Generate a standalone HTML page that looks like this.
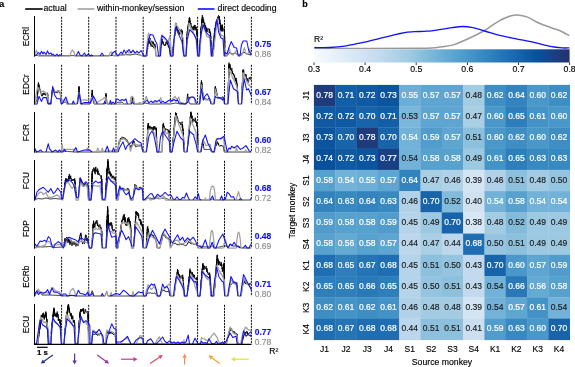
<!DOCTYPE html><html><head><meta charset="utf-8"><style>html,body{margin:0;padding:0;background:#fff;overflow:hidden}svg{display:block;will-change:transform}text{font-family:"Liberation Sans", sans-serif;stroke:currentColor;stroke-width:0.15px}</style></head><body>
<svg width="575" height="367" viewBox="0 0 575 367">
<defs><linearGradient id="cb" x1="0" x2="1" y1="0" y2="0">
<stop offset="0.0000" stop-color="#f7fbff"/>
<stop offset="0.1250" stop-color="#deebf7"/>
<stop offset="0.2500" stop-color="#c6dbef"/>
<stop offset="0.3750" stop-color="#9ecae1"/>
<stop offset="0.5000" stop-color="#6baed6"/>
<stop offset="0.6250" stop-color="#4292c6"/>
<stop offset="0.7500" stop-color="#2171b5"/>
<stop offset="0.8750" stop-color="#08519c"/>
<stop offset="1.0000" stop-color="#28306c"/>
</linearGradient></defs>
<text x="-1" y="6.6" font-size="9.5" font-weight="bold">a</text>
<line x1="25.2" y1="9" x2="42.6" y2="9" stroke="#000" stroke-width="1.6"/>
<text x="43.5" y="11" font-size="8.7">actual</text>
<line x1="77.6" y1="9" x2="94.3" y2="9" stroke="#a0a0a0" stroke-width="1.6"/>
<text x="97" y="11" font-size="8.7">within-monkey/session</text>
<line x1="197.8" y1="9" x2="214.5" y2="9" stroke="#1010fc" stroke-width="1.6"/>
<text x="217.6" y="11" font-size="8.7">direct decoding</text>
<line x1="61.6" y1="16.8" x2="61.6" y2="56.1" stroke="#111" stroke-width="1" stroke-dasharray="2.1,0.9"/>
<line x1="88.7" y1="16.8" x2="88.7" y2="56.1" stroke="#111" stroke-width="1" stroke-dasharray="2.1,0.9"/>
<line x1="116.0" y1="16.8" x2="116.0" y2="56.1" stroke="#111" stroke-width="1" stroke-dasharray="2.1,0.9"/>
<line x1="143.2" y1="16.8" x2="143.2" y2="56.1" stroke="#111" stroke-width="1" stroke-dasharray="2.1,0.9"/>
<line x1="170.4" y1="16.8" x2="170.4" y2="56.1" stroke="#111" stroke-width="1" stroke-dasharray="2.1,0.9"/>
<line x1="197.6" y1="16.8" x2="197.6" y2="56.1" stroke="#111" stroke-width="1" stroke-dasharray="2.1,0.9"/>
<line x1="224.5" y1="16.8" x2="224.5" y2="56.1" stroke="#111" stroke-width="1" stroke-dasharray="2.1,0.9"/>
<line x1="251.4" y1="16.8" x2="251.4" y2="56.1" stroke="#111" stroke-width="1" stroke-dasharray="2.1,0.9"/>
<polyline points="34.5,55.5 35.1,55.5 35.7,55.5 36.3,55.5 36.9,55.5 37.5,55.5 38.1,55.5 38.8,55.5 39.4,55.5 40.0,55.5 40.6,55.5 41.2,55.5 41.8,55.5 42.4,55.5 43.0,55.5 43.6,55.5 44.2,55.5 44.8,55.5 45.4,55.5 46.0,55.5 46.6,55.5 47.2,55.5 47.9,55.5 48.5,55.5 49.1,55.5 49.7,55.5 50.3,55.5 50.9,55.5 51.5,55.5 52.1,55.5 52.7,55.5 53.3,55.5 53.9,55.5 54.5,55.5 55.1,55.5 55.8,55.5 56.4,55.5 57.0,55.5 57.6,55.5 58.2,55.5 58.8,55.5 59.4,55.5 60.0,55.5 60.6,55.5 61.2,55.5 61.8,55.5 62.4,55.5 63.0,55.5 63.7,55.5 64.3,55.5 64.9,55.6 65.5,55.6 66.1,55.6 66.7,55.6 67.3,55.6 67.9,55.6 68.5,55.6 69.1,55.6 69.7,55.6 70.3,55.6 71.0,55.6 71.6,55.6 72.2,55.6 72.8,55.6 73.4,55.6 74.0,55.6 74.6,55.7 75.2,55.7 75.8,55.7 76.4,55.7 77.0,55.7 77.7,55.7 78.3,55.7 78.9,55.7 79.5,55.7 80.1,55.7 80.7,55.7 81.3,55.7 81.9,55.7 82.5,55.7 83.1,55.7 83.7,55.8 84.3,55.8 85.0,55.8 85.6,55.8 86.2,55.8 86.8,55.8 87.4,55.8 88.0,55.8 88.6,55.8 89.2,55.8 89.8,55.8 90.4,55.8 91.0,55.8 91.7,55.8 92.3,55.8 92.9,55.7 93.5,55.7 94.1,55.7 94.7,55.7 95.3,55.7 95.9,55.7 96.5,55.7 97.1,55.7 97.7,55.7 98.3,55.7 99.0,55.7 99.6,55.7 100.2,55.7 100.8,55.7 101.4,55.7 102.0,55.6 102.6,55.6 103.2,55.6 103.8,55.6 104.4,55.6 105.0,55.6 105.7,55.6 106.3,55.6 106.9,55.6 107.5,55.6 108.1,55.6 108.7,55.6 109.3,55.6 109.9,55.6 110.5,55.6 111.1,55.6 111.7,55.5 112.3,55.5 113.0,55.5 113.6,55.5 114.2,55.5 114.8,55.5 115.4,55.5 116.0,55.5 116.6,55.4 117.2,55.4 117.8,55.3 118.4,55.2 119.0,55.2 119.6,55.1 120.2,55.0 120.8,55.0 121.4,54.9 122.0,54.8 122.6,54.8 123.2,54.7 123.8,54.6 124.4,54.6 125.0,54.5 125.6,54.6 126.2,54.6 126.9,54.7 127.5,54.8 128.1,54.8 128.8,54.9 129.4,54.9 130.0,55.0 130.6,54.9 131.2,54.8 131.9,54.6 132.5,54.5 133.1,54.4 133.8,54.2 134.4,54.1 135.0,54.0 135.6,54.1 136.2,54.2 136.9,54.4 137.5,54.5 138.1,54.6 138.8,54.8 139.4,54.9 140.0,55.0 140.6,55.2 141.2,55.4 141.8,55.6 142.4,55.8 143.0,56.0 143.7,56.0 144.3,56.0 145.0,56.0 145.7,56.0 146.3,56.0 147.0,56.0 147.1,55.4 147.1,54.8 147.2,54.2 147.2,53.6 147.2,52.7 147.3,52.6 147.3,51.5 147.4,51.7 147.4,50.5 147.5,49.6 147.6,49.6 147.6,48.1 147.7,49.1 147.7,47.8 147.8,46.3 147.8,45.8 147.8,46.5 147.9,44.7 147.9,45.4 148.0,44.0 148.1,42.8 148.1,43.7 148.2,41.8 148.3,40.5 148.3,41.6 148.4,42.1 148.5,38.9 148.6,40.8 148.6,39.7 148.7,38.0 148.8,40.2 148.9,37.9 149.0,38.2 149.1,41.8 149.2,40.4 149.3,42.7 149.4,41.3 149.5,43.0 149.6,43.6 149.8,40.7 149.9,42.5 150.0,39.4 150.2,40.1 150.3,39.0 150.4,38.1 150.4,39.0 150.5,41.5 150.6,39.8 150.6,43.2 150.7,43.4 150.7,42.0 150.8,44.9 150.9,43.9 150.9,45.1 151.0,46.0 151.1,46.5 151.2,45.8 151.3,45.0 151.4,42.7 151.5,44.3 151.6,41.7 151.7,42.6 151.8,41.0 151.9,40.8 151.9,43.4 152.0,41.9 152.1,44.0 152.2,43.0 152.2,43.4 152.3,46.3 152.4,44.7 152.4,46.7 152.5,47.0 152.6,46.1 152.7,46.2 152.8,44.2 152.9,44.9 153.0,43.0 153.1,43.9 153.2,41.7 153.3,42.0 153.4,43.5 153.4,42.4 153.5,44.3 153.6,43.1 153.7,45.5 153.7,44.5 153.8,46.5 153.9,45.9 153.9,48.2 154.0,48.0 154.1,46.7 154.3,47.8 154.4,45.3 154.5,46.3 154.7,43.8 154.8,44.0 154.9,45.6 155.0,44.7 155.1,44.8 155.2,47.5 155.2,46.1 155.3,48.3 155.4,48.2 155.5,49.0 155.5,49.5 155.6,49.6 155.6,51.1 155.7,52.1 155.7,51.9 155.8,53.0 155.8,53.5 155.9,54.1 155.9,54.7 156.0,55.4 156.0,56.0 156.7,56.0 157.3,56.0 158.0,56.0 158.7,56.0 159.3,56.0 160.0,56.0 160.0,55.4 160.1,54.8 160.1,54.2 160.2,53.5 160.2,52.6 160.2,52.5 160.3,51.3 160.3,51.4 160.3,49.9 160.4,49.7 160.4,49.6 160.5,49.4 160.5,48.0 160.6,47.0 160.7,47.7 160.8,46.7 161.0,46.5 161.1,43.6 161.2,45.4 161.3,43.2 161.4,42.5 161.5,43.6 161.7,42.7 161.8,40.5 161.9,39.3 162.0,40.0 162.2,38.9 162.4,42.3 162.6,41.3 162.9,43.8 163.1,41.5 163.3,44.5 163.5,44.0 163.9,43.8 164.2,45.5 164.6,45.0 165.0,46.0 165.2,44.5 165.4,44.0 165.6,45.3 165.8,43.8 165.9,42.4 166.1,43.8 166.3,40.9 166.5,41.0 166.7,40.6 166.9,42.7 167.1,41.4 167.4,44.7 167.6,42.4 167.8,43.8 168.0,45.0 168.2,46.4 168.5,45.4 168.7,47.1 168.9,48.0 169.2,47.6 169.4,48.8 169.5,49.6 169.6,50.7 169.7,50.8 169.8,50.8 169.9,51.5 169.9,52.7 170.0,52.8 170.1,53.6 170.2,54.2 170.3,54.8 170.4,55.4 170.5,56.0 171.2,56.0 172.0,56.0 172.1,55.4 172.2,54.8 172.2,54.2 172.3,53.5 172.4,53.1 172.5,52.1 172.5,51.4 172.6,51.5 172.7,50.8 172.8,49.5 172.8,50.0 172.9,49.0 173.0,47.4 173.1,48.1 173.2,46.5 173.2,46.5 173.3,45.2 173.4,45.9 173.5,43.1 173.5,45.0 173.6,42.1 173.7,42.9 173.8,42.4 173.8,39.5 173.9,39.8 174.0,40.0 174.1,40.6 174.2,39.7 174.2,38.8 174.3,38.1 174.4,34.8 174.5,34.2 174.6,33.8 174.6,36.0 174.7,33.7 174.8,35.9 174.9,32.6 175.0,30.3 175.0,33.9 175.1,33.1 175.2,29.5 175.3,30.9 175.4,28.1 175.4,29.8 175.5,27.5 175.6,29.1 175.7,28.8 175.8,24.6 175.8,26.6 175.9,23.6 176.0,24.8 176.2,27.0 176.4,23.6 176.7,28.3 176.9,26.0 177.1,29.6 177.3,31.1 177.6,26.7 177.8,30.2 178.0,30.0 178.3,27.8 178.7,33.4 179.0,32.8 179.3,29.5 179.7,34.7 180.0,33.0 180.5,30.6 181.0,29.3 181.5,29.6 182.0,31.0 182.0,32.8 182.1,30.3 182.1,33.5 182.1,31.3 182.2,35.7 182.2,32.6 182.3,37.7 182.3,37.6 182.3,34.3 182.4,36.4 182.4,39.6 182.4,36.7 182.5,40.9 182.5,40.5 182.5,41.2 182.6,39.9 182.6,43.0 182.7,42.5 182.7,41.7 182.7,43.9 182.8,42.6 182.8,44.9 182.8,44.7 182.9,46.5 182.9,46.7 183.0,46.2 183.0,48.2 183.0,47.4 183.1,49.4 183.1,49.8 183.1,49.2 183.2,51.0 183.2,50.9 183.2,52.2 183.3,52.0 183.3,53.3 183.4,53.6 183.4,54.2 183.4,54.8 183.5,55.4 183.5,56.0 184.1,56.0 184.8,56.0 185.4,56.0 186.0,56.0 186.0,55.4 186.1,54.8 186.1,54.2 186.1,53.6 186.1,52.6 186.2,52.7 186.2,51.6 186.2,51.5 186.3,50.5 186.3,50.4 186.3,49.0 186.3,49.5 186.4,47.5 186.4,48.0 186.4,46.5 186.5,47.5 186.5,46.6 186.5,45.9 186.5,45.3 186.6,42.6 186.6,43.9 186.6,41.8 186.7,42.5 186.7,40.7 186.7,42.6 186.7,38.9 186.8,38.2 186.8,40.8 186.8,37.1 186.9,39.1 186.9,35.8 186.9,34.9 186.9,34.3 187.0,33.9 187.0,35.0 187.1,35.5 187.2,31.4 187.3,34.1 187.4,34.3 187.5,31.3 187.6,33.8 187.7,29.3 187.8,30.8 187.9,26.7 188.0,30.6 188.1,26.3 188.2,28.9 188.2,28.4 188.3,24.0 188.4,27.5 188.5,23.0 188.6,27.0 188.7,21.6 188.8,25.7 188.9,21.1 189.0,24.9 189.1,23.2 189.2,18.3 189.3,23.2 189.4,17.2 189.5,19.4 189.6,21.4 189.8,18.2 189.9,22.3 190.0,20.8 190.2,20.7 190.3,20.7 190.5,24.8 190.6,23.3 190.7,27.1 190.9,23.0 191.0,26.0 191.3,28.9 191.6,25.8 191.9,29.3 192.1,27.4 192.4,29.6 192.7,26.7 193.0,30.0 193.3,30.1 193.6,26.3 193.9,26.2 194.1,30.3 194.4,24.9 194.7,28.1 195.0,26.0 195.2,25.1 195.4,28.4 195.6,29.5 195.8,27.3 196.0,30.4 196.2,26.8 196.4,29.5 196.6,33.5 196.8,29.9 197.0,32.0 197.0,35.2 197.1,30.7 197.1,34.7 197.1,35.0 197.1,33.1 197.2,36.8 197.2,34.8 197.2,34.7 197.2,38.0 197.2,38.5 197.3,38.0 197.3,39.7 197.3,38.2 197.3,42.1 197.4,40.1 197.4,43.3 197.4,41.5 197.4,44.3 197.5,42.7 197.5,44.9 197.5,44.3 197.6,45.9 197.6,44.7 197.6,47.2 197.6,46.1 197.7,48.4 197.7,47.3 197.7,49.6 197.7,50.1 197.8,49.8 197.8,50.2 197.8,51.8 197.8,51.5 197.8,52.5 197.9,52.7 197.9,53.6 197.9,54.2 197.9,54.8 198.0,55.4 198.0,56.0 198.8,56.0 199.5,56.0 199.5,55.4 199.6,54.8 199.6,54.2 199.6,53.6 199.7,52.9 199.7,52.5 199.7,51.9 199.8,50.9 199.8,50.9 199.8,49.3 199.9,48.6 199.9,49.2 200.0,47.5 200.0,48.0 200.0,45.9 200.1,46.7 200.1,45.0 200.1,44.1 200.2,43.5 200.2,45.2 200.2,44.0 200.3,41.9 200.3,42.6 200.3,40.3 200.4,42.4 200.4,39.4 200.4,40.6 200.5,37.4 200.5,39.8 200.5,35.8 200.6,38.3 200.6,34.4 200.7,38.3 200.7,37.9 200.7,37.2 200.8,36.4 200.8,32.0 200.8,35.8 200.9,30.3 200.9,33.2 200.9,33.3 201.0,28.9 201.0,30.0 201.1,27.5 201.1,29.7 201.2,26.2 201.3,26.5 201.3,29.3 201.4,25.4 201.5,26.9 201.5,23.8 201.6,26.3 201.7,23.0 201.7,21.0 201.8,25.2 201.9,20.5 201.9,19.0 202.0,23.5 202.1,17.4 202.1,17.9 202.2,20.8 202.3,20.8 202.3,15.1 202.4,17.0 202.6,16.4 202.7,20.6 202.9,17.0 203.1,21.0 203.3,22.5 203.4,19.9 203.6,19.5 203.8,23.1 204.0,21.8 204.1,24.3 204.3,26.0 204.5,26.1 204.7,22.9 204.8,27.3 205.0,26.0 205.2,29.5 205.4,25.1 205.6,29.1 205.8,26.4 206.0,31.9 206.2,27.5 206.4,27.8 206.6,32.3 206.8,28.6 207.0,32.0 207.5,29.3 208.0,28.2 208.5,29.0 209.0,30.0 209.3,33.1 209.6,28.8 209.9,33.2 210.2,31.6 210.5,33.0 210.5,35.0 210.6,33.3 210.6,37.1 210.6,34.4 210.6,35.0 210.7,38.5 210.7,36.0 210.7,39.1 210.7,37.2 210.8,37.5 210.8,40.3 210.8,41.0 210.8,40.1 210.9,43.2 210.9,40.8 210.9,42.2 210.9,44.8 211.0,43.0 211.0,45.8 211.0,45.5 211.1,45.0 211.1,46.7 211.1,46.5 211.1,48.4 211.2,48.9 211.2,48.5 211.2,49.9 211.2,49.5 211.3,50.4 211.3,51.0 211.3,52.2 211.3,52.1 211.4,53.3 211.4,53.6 211.4,54.2 211.4,54.8 211.5,55.4 211.5,56.0 212.2,56.0 213.0,56.0 213.0,55.4 213.1,54.8 213.1,54.2 213.2,53.6 213.2,53.1 213.3,52.0 213.3,52.0 213.4,50.9 213.4,50.7 213.5,50.5 213.5,50.1 213.6,48.2 213.6,48.9 213.7,47.9 213.7,46.1 213.7,46.7 213.8,44.9 213.8,46.4 213.9,43.6 213.9,44.7 214.0,42.1 214.0,43.3 214.1,41.1 214.1,42.7 214.2,39.2 214.2,41.5 214.3,38.8 214.3,40.5 214.3,40.4 214.4,36.6 214.4,37.9 214.5,35.7 214.5,37.6 214.6,33.8 214.6,35.8 214.7,32.5 214.7,32.2 214.8,33.6 214.8,30.5 214.9,32.9 214.9,28.3 215.0,32.6 215.0,30.0 215.1,28.7 215.2,29.7 215.4,25.7 215.5,28.2 215.6,24.5 215.8,27.6 215.9,24.9 216.0,25.9 216.1,21.5 216.2,24.9 216.4,21.9 216.5,23.9 216.6,23.3 216.8,23.4 216.9,22.7 217.0,20.0 217.3,21.1 217.6,16.9 217.9,20.4 218.3,16.4 218.6,15.3 218.9,17.6 219.2,16.4 219.3,16.0 219.3,19.3 219.4,17.1 219.5,20.8 219.5,18.0 219.6,21.7 219.7,18.9 219.7,24.1 219.8,19.9 219.9,24.1 219.9,22.4 220.0,24.0 220.1,23.7 220.2,24.1 220.3,23.2 220.4,29.2 220.6,24.5 220.7,29.4 220.8,26.3 220.9,31.2 221.0,29.6 221.2,27.0 221.3,31.3 221.5,29.9 221.7,25.3 221.8,24.9 222.0,26.0 222.2,28.7 222.3,24.5 222.5,30.1 222.7,26.9 222.8,31.6 223.0,30.0 223.7,28.8 224.4,29.0 224.4,30.5 224.4,28.7 224.4,33.8 224.5,33.5 224.5,34.5 224.5,30.2 224.5,35.0 224.5,32.9 224.5,36.8 224.5,32.7 224.5,37.4 224.6,38.2 224.6,35.5 224.6,38.4 224.6,39.2 224.6,37.1 224.6,39.7 224.6,38.0 224.7,41.7 224.7,40.1 224.7,43.3 224.7,40.7 224.7,44.2 224.7,42.2 224.7,44.7 224.7,45.6 224.8,44.5 224.8,46.5 224.8,45.5 224.8,47.6 224.8,46.9 224.8,47.4 224.8,49.2 224.9,49.2 224.9,50.3 224.9,50.1 224.9,51.5 224.9,51.3 224.9,52.0 224.9,53.2 224.9,53.6 225.0,54.2 225.0,54.8 225.0,55.4 225.0,56.0 225.6,55.8 226.2,55.6 226.8,55.4 227.4,55.2 228.0,55.0 228.3,54.5 228.7,54.0 229.0,53.5 229.3,52.7 229.7,52.2 230.0,52.0 230.5,52.6 231.0,53.4 231.5,53.5 232.0,54.0 232.6,53.8 233.2,53.6 233.8,53.4 234.4,53.2 235.0,53.0 235.5,53.3 236.0,53.7 236.5,54.0 237.0,54.3 237.5,54.7 238.0,55.0 238.6,54.8 239.2,54.6 239.8,54.4 240.4,54.2 241.0,54.0 241.5,53.7 242.0,53.3 242.5,53.3 243.0,52.5 243.5,52.8 244.0,52.0 244.5,52.5 245.0,52.4 245.5,53.3 246.0,53.3 246.5,53.7 247.0,54.0 247.7,54.2 248.3,54.3 249.0,54.5 249.7,54.7 250.3,54.8 251.0,55.0" fill="none" stroke="#000" stroke-width="0.85" stroke-linejoin="round"/>
<polyline points="34.5,56.0 34.8,55.0 35.0,54.0 35.2,52.9 35.5,52.0 36.0,51.1 36.4,50.4 36.8,51.4 37.1,52.0 37.5,53.0 37.8,54.0 38.2,55.0 38.5,56.0 39.4,56.0 40.3,56.0 41.2,56.0 42.1,56.0 43.0,56.0 43.9,56.0 44.8,56.0 45.7,56.0 46.6,56.0 47.5,56.0 48.4,56.0 49.3,56.0 50.2,56.0 51.1,56.0 52.0,56.0 52.9,56.0 53.8,56.0 54.7,56.0 55.6,56.0 56.5,56.0 57.4,56.0 58.3,56.0 59.2,56.0 60.1,56.0 61.0,56.0 61.9,56.0 62.8,56.0 63.7,56.0 64.6,56.0 65.5,56.0 66.4,56.0 67.3,56.0 68.2,56.0 69.1,56.0 70.0,56.0 70.2,55.0 70.5,54.0 70.8,53.1 71.0,52.0 71.8,50.9 72.5,50.0 73.2,51.2 74.0,52.0 74.2,53.0 74.5,54.0 74.8,55.0 75.0,56.0 75.9,56.0 76.8,56.0 77.8,56.0 78.7,56.0 79.6,56.0 80.5,56.0 81.4,56.0 82.4,56.0 83.3,56.0 84.2,56.0 85.1,56.0 86.0,56.0 86.9,56.0 87.9,56.0 88.8,56.0 89.7,56.0 90.6,56.0 91.5,56.0 92.5,56.0 93.4,56.0 94.3,56.0 95.2,56.0 96.1,56.0 97.1,56.0 98.0,56.0 98.9,56.0 99.8,56.0 100.7,56.0 101.6,56.0 102.6,56.0 103.5,56.0 104.4,56.0 105.3,56.0 106.2,56.0 107.2,56.0 108.1,56.0 109.0,56.0 109.3,55.0 109.7,54.0 110.0,53.0 111.0,51.8 111.8,52.8 112.5,54.0 113.2,55.0 114.0,56.0 114.9,55.9 115.8,55.8 116.8,55.8 117.7,55.7 118.6,55.6 119.5,55.5 120.4,55.4 121.3,55.3 122.2,55.2 123.2,55.2 124.1,55.1 125.0,55.0 125.4,54.1 125.8,53.2 126.2,52.4 126.6,51.4 127.0,50.5 127.7,51.4 128.3,52.1 129.0,53.0 130.0,52.6 131.0,52.0 131.7,51.2 132.3,50.8 133.0,50.0 133.5,50.6 134.0,51.6 134.5,52.4 135.0,53.0 136.0,52.6 137.0,52.0 137.5,52.7 138.0,53.5 138.5,54.2 139.0,55.0 140.0,55.2 141.0,55.5 142.0,55.8 143.0,56.0 144.2,56.0 145.3,56.0 146.5,56.0 146.6,55.1 146.6,54.1 146.7,53.2 146.7,52.3 146.8,51.2 146.9,50.2 146.9,49.2 147.0,48.6 147.0,47.7 147.1,46.8 147.1,45.4 147.2,44.9 147.3,43.5 147.3,42.4 147.4,42.1 147.4,40.8 147.5,40.0 147.6,39.3 147.8,37.7 147.9,37.7 148.0,35.5 148.1,35.6 148.3,33.8 148.4,33.2 148.6,33.4 148.9,35.9 149.1,35.7 149.3,36.5 149.5,38.8 149.8,38.8 150.0,40.0 150.5,41.3 151.0,41.9 151.5,43.3 152.0,44.0 152.7,44.4 153.3,45.6 154.0,46.0 154.5,47.2 155.0,48.0 155.1,48.7 155.2,50.1 155.4,51.2 155.5,51.9 155.6,53.1 155.8,54.0 155.9,55.0 156.0,56.0 157.0,56.0 158.0,56.0 159.0,56.0 159.1,55.1 159.2,54.1 159.3,53.2 159.4,52.1 159.4,51.2 159.5,50.4 159.6,49.2 159.7,48.7 159.8,47.2 159.9,46.8 160.0,45.3 160.1,44.9 160.1,43.3 160.2,43.0 160.3,42.1 160.4,40.7 160.5,40.0 160.8,39.2 161.1,37.6 161.4,37.2 161.7,35.3 162.0,35.0 162.6,35.2 163.2,37.1 163.8,37.2 164.4,38.9 165.0,39.0 165.8,39.1 166.5,40.9 167.2,40.8 168.0,42.0 168.3,41.7 168.6,39.9 168.9,40.0 169.1,38.0 169.4,38.4 169.7,36.3 170.0,36.0 170.1,36.2 170.1,38.4 170.2,39.2 170.3,39.3 170.3,41.0 170.4,41.0 170.5,41.9 170.5,43.5 170.6,43.9 170.7,45.5 170.8,45.7 170.8,47.2 170.9,47.7 171.0,48.9 171.0,49.4 171.1,50.6 171.2,51.3 171.2,52.4 171.3,53.3 171.4,54.2 171.4,55.1 171.5,56.0 173.0,56.0 173.1,55.1 173.1,54.2 173.2,53.2 173.3,52.4 173.3,51.2 173.4,50.7 173.5,49.4 173.6,48.4 173.6,47.6 173.7,47.0 173.8,45.7 173.8,44.6 173.9,44.5 174.0,43.0 174.0,42.5 174.1,41.0 174.2,40.8 174.2,38.9 174.3,38.2 174.4,37.8 174.5,36.9 174.5,35.3 174.6,35.6 174.7,33.7 174.7,33.3 174.8,32.5 174.9,31.0 174.9,30.9 175.0,28.7 175.1,27.5 175.2,27.9 175.2,26.3 175.3,26.3 175.4,24.5 175.4,24.4 175.5,23.0 175.9,23.2 176.3,25.5 176.8,24.7 177.2,26.1 177.6,26.4 178.0,28.0 178.5,29.4 179.0,28.7 179.5,31.1 180.0,32.0 180.5,32.6 181.0,32.5 181.5,34.4 182.0,34.4 182.2,34.7 182.5,37.0 182.8,37.9 183.0,37.5 183.2,39.7 183.5,40.0 183.5,41.2 183.6,41.6 183.6,43.3 183.6,43.7 183.6,44.6 183.7,45.8 183.7,46.3 183.7,47.6 183.8,48.2 183.8,49.2 183.8,50.2 183.9,51.2 183.9,52.3 183.9,53.2 183.9,54.1 184.0,55.1 184.0,56.0 185.0,56.0 186.0,56.0 186.1,55.1 186.2,54.2 186.2,53.2 186.3,52.2 186.4,51.5 186.5,50.6 186.6,49.5 186.7,48.4 186.8,48.0 186.8,47.1 186.9,45.8 187.0,45.3 187.1,44.0 187.2,42.8 187.2,42.7 187.3,41.0 187.4,40.6 187.5,39.1 187.6,37.9 187.7,38.1 187.8,36.3 187.8,35.1 187.9,35.3 188.0,33.4 188.1,32.8 188.2,32.4 188.2,30.9 188.3,30.8 188.4,28.7 188.5,29.3 188.6,27.0 188.7,27.0 188.8,25.2 188.8,25.4 188.9,23.6 189.0,23.0 189.4,24.6 189.8,24.1 190.1,24.9 190.5,26.1 190.9,28.2 191.2,28.7 191.6,28.2 192.0,30.0 192.4,31.9 192.9,32.1 193.3,31.9 193.8,33.8 194.2,34.9 194.7,35.1 195.1,36.8 195.6,36.8 196.0,38.0 196.1,39.5 196.2,40.0 196.2,40.2 196.3,42.0 196.4,42.4 196.4,43.5 196.5,44.0 196.6,45.3 196.7,46.0 196.8,46.6 196.8,47.8 196.9,49.1 197.0,49.5 197.1,50.7 197.1,51.4 197.2,52.4 197.3,53.3 197.3,54.2 197.4,55.1 197.5,56.0 198.5,56.0 199.5,56.0 199.6,55.1 199.7,54.2 199.7,53.3 199.8,52.3 199.9,51.6 200.0,50.5 200.1,49.8 200.1,48.7 200.2,47.6 200.3,47.3 200.4,45.9 200.5,45.5 200.5,44.7 200.6,42.9 200.7,42.9 200.8,41.9 200.9,41.3 200.9,39.3 201.0,39.3 201.1,37.8 201.2,37.5 201.3,35.8 201.4,35.9 201.4,33.6 201.5,33.9 201.6,32.0 201.7,32.2 201.8,31.5 201.8,29.1 201.9,28.8 202.0,28.9 202.1,26.7 202.2,26.7 202.2,25.1 202.3,25.4 202.4,23.6 202.8,23.9 203.1,24.8 203.5,25.6 203.9,27.0 204.3,29.0 204.6,28.1 205.0,30.0 205.3,31.5 205.6,31.4 205.9,33.1 206.1,34.4 206.4,34.3 206.7,36.2 207.0,36.8 208.0,36.4 209.0,37.5 210.0,37.0 210.0,37.8 210.1,39.0 210.1,39.2 210.2,41.2 210.2,41.4 210.3,41.9 210.3,43.8 210.4,44.0 210.4,45.0 210.5,46.4 210.5,46.7 210.6,47.6 210.6,48.8 210.7,49.5 210.7,50.6 210.8,51.4 210.8,52.5 210.9,53.3 210.9,54.2 211.0,55.1 211.0,56.0 212.0,56.0 213.0,56.0 213.1,55.1 213.2,54.2 213.3,53.3 213.4,52.3 213.5,51.6 213.6,50.4 213.8,49.4 213.9,48.9 214.0,47.5 214.1,47.2 214.2,45.9 214.3,45.4 214.4,43.9 214.5,43.5 214.6,41.9 214.7,41.0 214.8,40.7 214.9,39.3 215.0,39.0 215.1,37.7 215.3,37.5 215.4,35.5 215.5,35.6 215.6,33.8 215.7,34.1 215.8,32.1 215.9,30.8 216.0,31.0 216.1,29.3 216.2,28.3 216.3,28.9 216.4,26.3 216.5,27.0 216.6,24.7 216.8,25.1 216.9,23.1 217.0,23.0 217.1,21.1 217.2,20.9 217.3,19.0 217.4,18.8 217.6,20.2 217.7,19.9 217.9,21.9 218.0,21.7 218.2,23.7 218.4,23.7 218.5,24.3 218.7,25.6 218.8,26.6 219.0,28.0 219.2,29.5 219.5,30.8 219.8,30.4 220.0,32.3 220.2,32.3 220.5,34.3 220.8,34.1 221.0,35.6 222.2,35.3 223.5,36.0 223.5,37.5 223.6,38.1 223.6,38.3 223.6,40.1 223.7,41.0 223.7,41.6 223.8,41.9 223.8,43.4 223.8,43.7 223.9,45.4 223.9,45.7 223.9,47.1 224.0,47.5 224.0,49.0 224.0,49.5 224.1,50.4 224.1,51.6 224.2,52.2 224.2,53.3 224.2,54.2 224.3,55.1 224.3,56.0 225.7,56.0 227.0,56.0 227.3,55.1 227.6,54.2 227.9,53.3 228.2,52.3 228.5,51.4 228.8,50.4 229.1,49.5 229.4,48.8 229.7,49.5 229.9,50.7 230.2,51.5 230.5,52.2 230.7,53.1 231.0,54.0 232.0,54.5 233.0,55.0 233.6,54.2 234.2,53.3 234.8,52.6 235.4,51.6 236.0,50.9 236.6,50.0 236.9,50.8 237.2,52.1 237.4,52.9 237.7,54.0 238.0,55.0 239.0,55.0 240.0,55.0 241.0,55.0 242.0,55.0 242.3,54.1 242.6,53.1 242.9,52.3 243.2,51.2 243.5,50.6 243.8,49.4 244.1,48.6 244.4,47.6 244.6,48.3 244.9,49.5 245.1,50.2 245.3,51.4 245.5,52.1 245.8,53.0 246.0,54.0 247.0,54.0 248.0,54.0 248.3,53.1 248.6,52.4 248.9,51.5 249.2,50.3 249.5,49.8 249.8,48.8 250.0,49.4 250.1,50.5 250.3,51.6 250.5,52.2 250.7,53.2 250.8,54.1 251.0,55.0" fill="none" stroke="#a0a0a0" stroke-width="1.25" stroke-linejoin="round"/>
<path d="M34.5,56.0 L36.0,55.0 L38.5,52.5 L40.0,54.5 L41.5,51.3 L43.0,54.0 L44.0,52.0 L46.0,54.5 L47.5,50.9 L49.0,54.0 L51.0,53.0 L52.0,55.0 L53.0,54.0 L55.0,56.0 L57.0,54.0 L58.5,56.0 L60.0,54.5 L61.5,56.0 M76.0,56.0 L78.5,51.5 L80.0,55.0 L82.0,56.0 L84.5,53.0 L86.0,56.0 L88.5,54.0 L90.0,56.0 L91.5,55.0 L93.0,56.0 M100.0,56.0 L102.0,53.0 L104.0,56.0 M111.0,56.0 L112.5,53.0 L115.0,51.2 L116.5,54.0 L118.0,56.0 L119.5,54.0 L121.0,52.0 L122.5,54.0 L124.0,50.0 L126.0,53.0 L127.0,52.0 L129.0,49.5 L131.0,53.0 L133.0,50.5 L135.0,53.0 L137.0,51.0 L139.0,53.0 L141.0,50.5 L142.5,53.0 L143.5,56.0 L146.0,56.0 L147.5,45.0 L150.2,34.4 L153.0,35.0 L155.6,41.6 L157.0,44.0 L158.6,56.0 L160.5,56.0 L162.0,35.6 L165.0,38.0 L168.7,42.8 L170.5,56.0 L173.0,56.0 L174.0,40.0 L175.8,27.2 L178.0,33.0 L182.0,41.6 L184.0,56.0 L186.0,56.0 L187.0,40.0 L189.8,29.6 L192.0,32.0 L194.0,34.4 L196.5,39.8 L197.8,56.0 L199.0,56.0 L200.0,40.0 L203.0,24.8 L206.0,32.0 L208.0,34.4 L210.0,36.0 L211.5,56.0 L212.0,56.0 L214.0,35.0 L216.8,19.4 L218.6,32.0 L221.0,38.0 L223.0,39.0 L224.2,56.0 L225.0,52.4 L227.0,54.0 L228.8,48.0 L231.2,41.6 L234.2,47.6 L236.6,48.0 L238.4,56.0 L240.0,56.0 L241.4,45.0 L243.2,41.0 L246.8,41.0 L248.6,50.0 L251.0,55.0" fill="none" stroke="#1010fc" stroke-width="1.05" stroke-linejoin="round"/>
<line x1="34.5" y1="16.0" x2="34.5" y2="56.6" stroke="#000" stroke-width="1"/>
<text x="0" y="0" font-size="8.3" text-anchor="middle" transform="translate(28.8,36.5) rotate(-90)">ECRl</text>
<text x="254.7" y="46.5" font-size="8.5" font-weight="bold" fill="#1010fc" color="#1010fc">0.75</text>
<text x="254.7" y="56.6" font-size="8.5" fill="#8c8c8c" color="#8c8c8c">0.86</text>
<line x1="61.6" y1="64.8" x2="61.6" y2="104.1" stroke="#111" stroke-width="1" stroke-dasharray="2.1,0.9"/>
<line x1="88.7" y1="64.8" x2="88.7" y2="104.1" stroke="#111" stroke-width="1" stroke-dasharray="2.1,0.9"/>
<line x1="116.0" y1="64.8" x2="116.0" y2="104.1" stroke="#111" stroke-width="1" stroke-dasharray="2.1,0.9"/>
<line x1="143.2" y1="64.8" x2="143.2" y2="104.1" stroke="#111" stroke-width="1" stroke-dasharray="2.1,0.9"/>
<line x1="170.4" y1="64.8" x2="170.4" y2="104.1" stroke="#111" stroke-width="1" stroke-dasharray="2.1,0.9"/>
<line x1="197.6" y1="64.8" x2="197.6" y2="104.1" stroke="#111" stroke-width="1" stroke-dasharray="2.1,0.9"/>
<line x1="224.5" y1="64.8" x2="224.5" y2="104.1" stroke="#111" stroke-width="1" stroke-dasharray="2.1,0.9"/>
<line x1="251.4" y1="64.8" x2="251.4" y2="104.1" stroke="#111" stroke-width="1" stroke-dasharray="2.1,0.9"/>
<polyline points="34.5,103.5 34.9,103.0 35.2,102.5 35.6,102.0 35.9,101.5 36.3,101.4 36.6,100.4 37.0,100.0 37.1,99.0 37.1,99.1 37.2,97.7 37.2,97.9 37.3,96.6 37.3,97.3 37.4,96.4 37.4,94.8 37.5,94.9 37.6,93.4 37.6,94.6 37.7,91.9 37.7,92.5 37.8,91.1 37.8,92.6 37.9,89.8 37.9,88.4 38.0,90.9 38.1,87.1 38.1,89.9 38.2,88.1 38.2,85.2 38.3,87.5 38.3,83.5 38.4,87.0 38.4,82.3 38.5,83.8 38.6,83.1 38.8,87.2 39.0,84.4 39.1,87.3 39.2,86.2 39.4,86.7 39.5,87.3 39.7,87.4 39.9,90.5 40.0,90.0 40.2,89.6 40.4,91.9 40.6,90.6 40.8,92.6 41.0,93.6 41.2,94.8 41.4,94.9 41.6,94.8 41.8,96.1 42.0,96.3 42.2,94.8 42.5,95.9 42.8,95.1 43.0,93.0 43.2,94.5 43.5,93.0 43.9,92.9 44.2,94.9 44.6,93.4 45.0,95.0 45.5,95.4 45.9,93.5 46.4,93.5 47.0,92.9 47.7,93.2 47.7,94.7 47.8,94.2 47.8,94.7 47.9,96.1 47.9,95.5 47.9,97.3 48.0,97.0 48.0,98.7 48.0,99.2 48.1,99.8 48.1,99.7 48.1,100.7 48.2,101.2 48.2,101.8 48.3,102.4 48.3,103.0 48.9,103.5 49.5,104.0 50.2,104.0 51.0,104.0 51.0,103.4 51.1,102.8 51.1,102.2 51.2,101.6 51.2,100.8 51.3,100.3 51.4,100.1 51.4,99.0 51.5,98.3 51.5,98.4 51.5,96.9 51.6,97.0 51.6,95.9 51.7,96.3 51.8,93.9 51.8,93.2 51.9,94.5 51.9,92.3 52.0,93.8 52.0,92.0 52.1,90.7 52.2,91.7 52.4,89.6 52.5,89.8 52.6,87.9 52.7,88.0 53.0,89.2 53.2,88.5 53.5,90.7 53.8,89.1 54.1,92.3 54.3,92.6 54.6,92.0 55.2,91.4 55.8,92.8 56.4,91.9 57.0,93.0 57.4,92.9 57.8,92.7 58.1,90.1 58.5,91.0 59.1,92.2 59.6,92.8 60.2,92.6 60.3,92.2 60.3,94.3 60.4,95.3 60.5,94.4 60.5,96.2 60.6,95.6 60.6,97.2 60.7,96.6 60.8,98.6 60.8,98.2 60.9,99.5 61.0,99.5 61.0,100.5 61.1,100.7 61.1,101.6 61.2,102.2 61.3,102.8 61.3,103.4 61.4,104.0 62.0,103.5 62.5,103.0 63.1,102.8 63.8,102.5 64.4,102.2 65.0,102.0 65.5,102.3 66.0,102.7 66.5,103.0 67.0,103.3 67.5,103.7 68.0,104.0 68.6,104.0 69.2,104.0 69.8,104.0 70.4,104.0 71.0,104.0 71.6,104.0 72.2,104.0 72.8,104.0 73.4,104.0 74.0,104.0 74.6,104.0 75.2,104.0 75.8,104.0 76.4,104.0 77.0,104.0 77.1,103.4 77.2,102.8 77.3,102.2 77.3,101.6 77.4,101.4 77.5,100.3 77.6,100.2 77.7,98.8 77.8,99.0 77.9,97.7 78.0,97.9 78.0,97.5 78.1,97.0 78.2,95.2 78.3,95.0 78.4,94.9 78.4,92.8 78.5,92.3 78.5,92.1 78.6,93.3 78.6,90.4 78.7,91.1 78.7,91.7 78.8,88.9 78.8,89.5 78.9,86.7 78.9,88.8 79.0,86.9 79.1,86.2 79.1,86.6 79.2,89.9 79.2,88.6 79.3,89.0 79.3,91.4 79.4,92.4 79.4,91.3 79.5,92.7 79.5,91.8 79.6,94.3 79.6,93.6 79.7,95.8 79.7,94.8 79.8,96.0 79.9,96.2 79.9,97.8 80.0,97.2 80.0,98.9 80.1,98.6 80.1,99.3 80.2,100.6 80.2,100.6 80.3,101.5 80.3,102.2 80.4,102.8 80.4,103.4 80.5,104.0 81.1,104.0 81.8,104.0 82.4,104.0 83.0,104.0 83.7,104.0 84.3,104.0 84.9,104.0 85.6,104.0 86.2,104.0 86.8,104.0 87.5,104.0 88.1,104.0 88.7,104.0 89.4,104.0 90.0,104.0 90.2,103.4 90.3,102.8 90.5,102.2 90.6,101.6 90.8,101.3 90.9,100.0 91.0,100.2 91.2,99.7 91.3,98.0 91.5,98.0 91.6,97.7 91.6,96.2 91.7,97.0 91.7,94.8 91.8,95.4 91.9,93.6 91.9,94.9 92.0,92.8 92.1,93.7 92.1,90.7 92.2,92.4 92.2,89.9 92.3,90.0 92.3,91.0 92.4,90.0 92.4,93.0 92.5,91.8 92.5,94.2 92.6,94.1 92.6,93.8 92.7,95.5 92.7,95.0 92.7,95.8 92.8,97.3 92.8,96.8 92.9,98.6 92.9,98.3 93.0,99.2 93.0,100.0 93.2,100.5 93.3,101.3 93.5,102.0 93.7,102.7 93.8,103.3 94.0,104.0 94.6,104.0 95.3,104.0 95.9,104.0 96.5,104.0 97.2,104.0 97.8,104.0 98.4,104.0 99.1,104.0 99.7,104.0 100.4,104.0 101.0,104.0 101.6,104.0 102.3,104.0 102.9,104.0 103.5,104.0 104.2,104.0 104.8,104.0 104.9,103.4 104.9,102.8 105.0,102.2 105.1,101.6 105.2,101.3 105.2,100.2 105.3,99.7 105.4,99.5 105.4,98.0 105.5,98.0 105.6,98.0 105.6,96.5 105.7,96.6 105.8,94.6 105.8,95.9 105.9,93.8 105.9,94.1 106.0,93.2 106.1,93.4 106.1,94.9 106.2,96.0 106.2,94.9 106.3,95.8 106.4,97.1 106.4,96.8 106.5,98.4 106.6,98.3 106.6,98.8 106.7,100.2 106.7,100.0 106.8,101.0 106.9,101.6 107.1,102.2 107.2,102.8 107.4,103.4 107.5,104.0 108.1,104.0 108.7,104.0 109.3,104.0 109.9,104.0 110.5,104.0 111.1,104.0 111.8,104.0 112.4,104.0 113.0,104.0 113.6,104.0 114.2,104.0 114.8,104.0 115.4,104.0 116.0,104.0 116.5,103.5 117.0,103.0 117.5,102.5 118.0,102.0 118.7,102.3 119.3,102.7 120.0,103.0 120.7,102.7 121.3,102.3 122.0,102.0 122.5,102.5 123.0,103.0 123.5,103.5 124.0,104.0 124.6,104.0 125.2,104.0 125.9,104.0 126.5,104.0 127.1,104.0 127.8,104.0 128.4,104.0 129.0,104.0 129.6,104.0 130.2,104.0 130.9,104.0 131.5,104.0 131.6,103.4 131.7,102.7 131.7,102.1 131.8,101.5 131.9,100.6 132.0,100.6 132.1,99.1 132.2,98.3 132.2,99.0 132.3,97.1 132.4,97.0 132.5,98.0 132.6,98.0 132.6,98.6 132.7,100.0 132.8,99.7 132.9,100.9 133.0,101.5 133.1,102.1 133.1,102.7 133.2,103.4 133.3,104.0 133.9,104.0 134.5,104.0 135.2,104.0 135.8,104.0 136.4,104.0 137.0,104.0 137.7,104.0 138.3,104.0 138.9,104.0 139.5,104.0 140.1,104.0 140.8,104.0 141.4,104.0 142.0,104.0 142.6,103.8 143.2,103.6 143.8,103.4 144.4,103.2 145.0,103.0 145.6,103.1 146.2,103.2 146.9,103.4 147.5,103.5 148.1,103.6 148.8,103.8 149.4,103.9 150.0,104.0 150.6,104.0 151.2,104.0 151.9,104.0 152.5,104.0 153.1,104.0 153.8,104.0 154.4,104.0 155.0,104.0 155.6,104.0 156.2,104.0 156.9,104.0 157.5,104.0 158.1,104.0 158.8,104.0 159.4,104.0 160.0,104.0 160.6,103.9 161.2,103.8 161.9,103.6 162.5,103.5 163.1,103.4 163.8,103.2 164.4,103.1 165.0,103.0 165.6,103.1 166.2,103.2 166.9,103.4 167.5,103.5 168.1,103.6 168.8,103.8 169.4,103.9 170.0,104.0 170.6,103.9 171.2,103.8 171.8,103.7 172.4,103.6 173.0,103.5 173.6,103.4 174.2,103.3 174.8,103.2 175.4,103.1 176.0,103.0 176.7,103.2 177.3,103.3 178.0,103.5 178.7,103.7 179.3,103.8 180.0,104.0 180.7,104.0 181.3,104.0 181.9,104.0 182.6,104.0 183.2,104.0 183.9,104.0 184.6,104.0 185.2,104.0 185.8,104.0 186.5,104.0 186.6,103.4 186.6,102.8 186.7,102.2 186.8,101.6 186.8,100.8 186.9,100.0 187.0,100.1 187.0,99.0 187.1,98.3 187.1,98.5 187.2,97.0 187.3,96.6 187.3,96.5 187.4,95.1 187.5,95.5 187.5,93.9 187.6,93.8 187.7,94.9 187.8,94.1 187.8,95.9 187.9,96.7 188.0,96.5 188.1,98.1 188.1,97.4 188.2,98.9 188.3,99.5 188.3,99.4 188.4,100.8 188.5,101.0 188.8,101.6 189.1,102.2 189.4,102.8 189.7,103.4 190.0,104.0 190.6,104.0 191.3,104.0 191.9,104.0 192.6,104.0 193.2,104.0 193.8,104.0 194.5,104.0 195.1,104.0 195.8,104.0 196.4,104.0 197.0,104.0 197.7,104.0 198.3,104.0 199.0,104.0 199.6,104.0 199.6,103.4 199.7,102.8 199.7,102.2 199.8,101.6 199.8,100.8 199.9,100.8 199.9,100.3 200.0,98.9 200.0,98.8 200.1,97.3 200.1,98.2 200.1,96.0 200.2,96.6 200.2,95.4 200.3,95.5 200.3,94.0 200.4,94.1 200.4,94.1 200.5,91.3 200.5,92.0 200.6,92.3 200.6,90.2 200.7,90.5 200.8,87.8 200.8,87.7 200.9,89.9 200.9,86.4 201.0,87.6 201.1,85.5 201.1,86.5 201.2,83.5 201.2,82.2 201.3,85.3 201.4,84.0 201.4,80.3 201.5,81.9 201.6,83.5 201.6,82.0 201.7,85.0 201.8,82.3 201.8,83.4 201.9,86.5 201.9,84.0 202.0,88.3 202.1,85.9 202.1,89.2 202.2,87.9 202.3,90.4 202.3,88.4 202.4,91.3 202.4,89.7 202.5,90.2 202.6,92.5 202.6,92.4 202.7,94.2 202.8,92.8 202.8,93.5 202.9,95.6 203.0,94.9 203.0,96.8 203.1,97.5 203.1,97.2 203.2,98.6 203.3,98.6 203.3,99.6 203.4,100.0 203.8,99.7 204.2,98.6 204.6,98.9 205.0,98.0 205.5,98.7 206.0,98.5 206.5,99.8 207.0,100.0 207.5,99.4 208.0,99.5 208.5,98.5 209.0,98.5 209.4,99.4 209.9,99.3 210.3,100.0 210.5,100.9 210.7,101.3 210.9,102.0 211.1,102.7 211.3,103.3 211.5,104.0 212.1,104.0 212.8,104.0 213.4,104.0 214.0,104.0 214.0,103.4 214.1,102.8 214.1,102.2 214.2,101.6 214.2,101.1 214.3,100.0 214.3,99.4 214.4,99.4 214.4,98.8 214.5,97.3 214.5,97.7 214.6,96.4 214.6,96.6 214.7,94.9 214.7,94.7 214.7,94.6 214.8,92.8 214.8,93.4 214.9,91.2 214.9,92.7 215.0,92.7 215.0,89.9 215.1,88.4 215.1,90.8 215.2,90.1 215.2,87.0 215.3,88.3 215.3,87.0 215.4,86.1 215.6,89.5 215.7,87.8 215.9,88.4 216.0,90.8 216.1,89.9 216.3,92.5 216.4,90.3 216.6,92.6 216.7,92.2 216.8,93.8 217.0,93.3 217.1,95.4 217.2,94.4 217.4,96.1 217.5,96.1 217.7,97.4 217.8,97.6 218.4,97.4 218.9,98.9 219.4,98.1 220.0,98.8 220.5,98.9 221.0,97.7 221.5,98.0 222.0,97.0 222.5,96.7 223.0,98.3 223.5,98.8 224.0,98.8 224.1,99.0 224.2,100.6 224.2,100.4 224.3,101.4 224.4,102.0 224.4,102.7 224.5,103.3 224.6,104.0 225.2,104.0 225.9,104.0 226.5,104.0 227.2,104.0 227.8,104.0 227.8,103.4 227.8,102.8 227.9,102.2 227.9,101.6 227.9,100.8 227.9,100.3 227.9,100.2 227.9,98.8 228.0,98.1 228.0,97.8 228.0,98.0 228.0,96.3 228.0,96.5 228.1,94.9 228.1,94.1 228.1,94.9 228.1,94.1 228.1,92.1 228.2,91.9 228.2,91.6 228.2,91.8 228.2,90.2 228.2,91.1 228.2,88.9 228.3,89.4 228.3,87.2 228.3,89.6 228.3,86.1 228.3,87.6 228.4,87.4 228.4,84.2 228.4,87.0 228.4,82.5 228.4,85.3 228.4,81.8 228.5,84.4 228.5,83.7 228.5,80.1 228.5,82.2 228.5,78.8 228.6,81.8 228.6,81.4 228.6,77.5 228.6,80.2 228.6,78.9 228.6,74.2 228.7,78.1 228.7,72.6 228.7,76.8 228.7,72.1 228.7,76.3 228.8,71.2 228.8,75.0 228.8,69.4 228.8,70.1 228.8,72.5 228.9,66.9 228.9,67.7 228.9,71.0 228.9,66.5 228.9,68.8 228.9,64.6 229.0,67.8 229.0,62.6 229.0,65.0 229.3,64.0 229.6,64.1 229.9,68.8 230.2,64.5 230.4,70.0 230.7,67.6 231.0,69.8 231.3,70.9 231.6,70.0 231.9,68.2 232.2,73.8 232.4,71.0 232.7,74.0 233.0,73.0 233.4,75.3 233.7,73.7 234.1,75.0 234.4,77.4 234.7,75.5 234.9,78.5 235.2,80.3 235.5,78.0 235.6,80.7 235.8,78.0 235.9,80.7 236.1,77.9 236.2,83.1 236.3,80.4 236.5,83.8 236.6,80.4 236.8,82.4 236.9,85.9 237.1,83.5 237.2,85.0 237.2,86.5 237.3,87.7 237.3,86.2 237.4,88.6 237.4,87.4 237.5,90.1 237.5,90.8 237.5,88.5 237.6,91.1 237.6,90.8 237.7,93.0 237.7,91.9 237.7,94.1 237.8,92.4 237.8,95.0 237.9,94.5 237.9,95.1 238.0,95.2 238.0,97.5 238.0,97.0 238.1,98.1 238.1,98.9 238.2,98.8 238.2,100.2 238.2,100.1 238.3,101.2 238.3,101.5 238.4,102.2 238.4,102.8 238.5,103.4 238.5,104.0 239.1,104.0 239.7,104.0 240.4,104.0 241.0,104.0 241.6,104.0 241.6,103.4 241.6,102.8 241.7,102.2 241.7,101.6 241.7,100.8 241.7,100.6 241.8,99.6 241.8,99.6 241.8,98.0 241.8,98.6 241.9,96.6 241.9,97.0 241.9,95.3 241.9,96.5 242.0,96.0 242.0,93.7 242.0,92.7 242.0,93.9 242.0,92.2 242.1,93.0 242.1,92.5 242.1,89.4 242.1,88.8 242.2,90.2 242.2,87.6 242.2,87.7 242.2,85.8 242.3,88.8 242.3,85.5 242.3,87.8 242.3,84.6 242.4,83.1 242.4,84.9 242.4,82.7 242.4,84.2 242.5,80.3 242.5,80.3 242.5,79.0 242.5,81.4 242.5,81.9 242.6,76.9 242.6,80.2 242.6,76.8 242.6,79.3 242.7,77.6 242.7,78.5 242.7,73.4 242.7,77.2 242.8,73.0 242.8,74.9 242.8,71.5 242.8,73.7 242.9,70.4 242.9,73.7 242.9,70.7 243.1,69.4 243.3,73.2 243.6,69.8 243.8,70.7 244.0,74.0 244.7,75.5 245.4,75.0 245.6,74.3 245.8,76.8 246.1,74.5 246.3,76.3 246.5,78.0 246.8,81.2 247.1,78.0 247.3,81.2 247.6,79.5 247.9,81.3 248.3,82.4 248.7,81.4 249.1,77.8 249.5,79.0 250.0,76.9 250.5,78.7 251.0,80.0" fill="none" stroke="#000" stroke-width="0.85" stroke-linejoin="round"/>
<polyline points="34.5,103.0 34.7,102.1 34.8,101.2 35.0,100.2 35.2,99.5 35.3,98.4 35.5,97.9 35.7,96.6 35.8,96.1 36.0,95.0 36.2,93.9 36.4,93.6 36.5,91.9 36.7,91.8 36.9,90.3 37.1,89.5 37.2,89.3 37.4,87.7 37.6,87.0 38.1,87.4 38.5,89.3 39.0,90.0 40.0,90.4 41.0,91.3 42.0,91.5 43.0,91.2 44.0,91.3 44.8,92.3 45.5,92.3 46.2,93.4 47.0,93.8 47.1,94.6 47.2,96.0 47.4,96.8 47.5,97.4 47.6,98.6 47.7,99.3 47.8,100.4 47.9,101.2 48.1,102.1 48.2,103.1 48.3,104.0 49.5,104.0 50.8,104.0 50.9,103.1 51.0,102.1 51.1,101.2 51.2,100.4 51.4,99.2 51.5,98.6 51.6,97.4 51.7,96.8 51.8,95.4 51.9,95.0 52.0,93.6 52.1,93.2 52.3,91.6 52.4,91.2 52.5,89.5 52.6,89.7 52.7,88.2 53.2,88.4 53.7,90.0 54.1,90.0 54.6,91.3 55.5,91.5 56.5,91.1 57.4,91.4 58.3,90.9 59.3,90.8 60.2,91.3 60.3,92.3 60.4,92.7 60.5,93.7 60.5,95.2 60.6,95.6 60.7,97.0 60.8,97.7 60.9,98.4 61.0,99.6 61.1,100.3 61.1,101.3 61.2,102.2 61.3,103.1 61.4,104.0 61.7,103.0 62.0,102.0 62.4,101.0 62.7,100.0 63.7,99.9 64.8,100.1 65.8,100.0 66.1,100.9 66.4,102.0 66.7,103.0 67.0,104.0 67.9,104.0 68.8,104.0 69.7,104.0 70.6,104.0 71.5,104.0 72.5,104.0 73.4,104.0 74.3,104.0 75.2,104.0 76.1,104.0 77.0,104.0 77.2,103.0 77.3,102.1 77.5,101.2 77.7,100.3 77.8,99.1 78.0,98.5 78.2,97.6 78.3,96.2 78.5,95.8 78.7,94.2 78.8,93.8 79.0,92.6 79.2,93.2 79.4,94.7 79.6,95.7 79.8,96.6 79.9,97.0 80.1,98.2 80.3,99.0 80.5,100.0 82.0,100.0 83.0,99.9 84.0,100.1 85.0,99.9 86.0,100.1 87.0,100.0 88.0,100.2 89.0,100.6 90.0,100.7 90.5,99.6 91.0,98.8 91.5,97.6 92.5,97.4 93.5,97.6 93.7,98.4 93.9,99.5 94.1,100.3 94.4,101.3 94.6,102.2 94.8,103.1 95.0,104.0 95.8,103.5 96.5,103.0 97.3,102.5 98.0,102.0 98.8,101.5 99.5,101.1 100.3,100.5 101.0,100.0 101.8,99.6 102.5,99.0 103.3,98.8 104.0,97.9 104.8,97.6 106.0,97.6 106.1,98.6 106.3,99.3 106.4,100.4 106.6,101.3 106.7,102.2 106.9,103.1 107.0,104.0 107.9,104.0 108.8,104.0 109.7,104.0 110.6,104.0 111.5,104.0 112.4,104.0 113.3,104.0 114.2,104.0 115.1,104.0 116.0,104.0 116.9,104.0 117.9,104.0 118.8,104.0 119.7,104.0 120.7,104.0 121.6,104.0 122.5,104.0 123.5,104.0 124.4,104.0 125.3,104.0 126.3,104.0 127.2,104.0 128.1,104.0 129.1,104.0 130.0,104.0 130.1,103.0 130.3,102.0 130.4,101.1 130.6,99.9 130.7,99.1 130.9,97.8 131.0,97.0 132.0,96.3 132.8,97.0 133.6,98.0 133.8,99.1 133.9,99.9 134.1,101.1 134.2,102.0 134.3,103.0 134.5,104.0 135.4,103.8 136.3,103.5 137.2,103.3 138.2,103.1 139.1,102.8 140.0,102.6 141.0,103.1 142.0,103.5 143.0,104.0 143.5,103.0 144.0,102.0 144.5,101.0 145.0,100.0 145.3,99.2 145.7,98.1 146.0,97.1 146.3,96.3 146.6,97.1 147.0,98.4 147.3,99.2 147.7,99.9 148.0,101.0 148.5,101.8 149.0,102.5 149.5,103.2 150.0,104.0 150.9,103.6 151.8,103.3 152.7,102.9 153.6,102.5 154.5,102.2 155.5,101.8 156.4,101.5 157.3,101.0 158.2,100.8 159.1,100.3 160.0,100.0 160.3,98.9 160.7,97.6 160.9,98.4 161.1,99.4 161.3,100.4 161.4,101.3 161.6,102.2 161.8,103.1 162.0,104.0 163.0,104.0 164.0,104.0 165.0,104.0 166.0,104.0 167.0,104.0 168.0,104.0 169.0,104.0 170.0,104.0 170.5,103.0 171.0,102.0 171.5,101.1 172.0,100.0 172.6,99.1 173.2,98.3 173.8,98.0 174.4,97.0 175.0,96.3 175.5,97.0 176.0,98.4 176.5,99.0 177.0,100.0 177.6,99.1 178.2,97.8 178.8,97.0 179.0,98.1 179.3,98.9 179.5,99.9 179.8,101.1 180.0,102.0 181.0,102.4 182.0,102.8 183.0,103.2 184.0,103.6 185.0,104.0 185.7,103.3 186.3,102.7 187.0,102.0 187.7,101.3 188.3,100.6 189.0,100.0 189.5,99.4 190.0,98.6 190.5,97.6 191.0,97.0 192.0,97.1 193.0,96.8 194.0,97.0 194.2,98.1 194.4,99.1 194.6,100.1 194.9,101.1 195.1,102.0 195.3,103.0 195.5,104.0 196.5,104.0 197.6,104.0 198.6,104.0 199.6,104.0 199.7,103.1 199.8,102.2 199.9,101.3 200.0,100.3 200.1,99.6 200.1,98.6 200.2,97.6 200.3,96.8 200.4,95.7 200.5,95.2 200.6,93.7 200.7,92.8 200.8,92.1 200.9,91.8 201.0,90.2 201.0,89.8 201.1,88.3 201.2,87.9 201.3,86.1 201.4,85.3 201.5,85.0 201.6,85.6 201.8,87.5 201.9,87.3 202.1,88.9 202.2,89.2 202.4,90.1 202.5,91.7 202.7,92.8 202.8,93.2 203.0,94.5 203.1,95.0 203.3,96.3 203.4,97.0 204.1,97.6 204.7,98.3 205.3,99.4 206.0,100.0 207.0,99.9 208.0,100.1 209.0,99.9 210.0,100.0 210.4,101.1 210.8,102.0 211.1,103.0 211.5,104.0 212.8,104.0 214.0,104.0 214.1,103.1 214.2,102.1 214.2,101.2 214.3,100.2 214.4,99.2 214.5,98.5 214.6,97.3 214.7,96.6 214.7,95.4 214.8,94.5 214.9,94.0 215.0,92.5 215.1,91.9 215.1,90.7 215.2,90.4 215.3,89.0 215.6,90.3 215.8,90.5 216.1,92.1 216.4,92.4 216.7,93.8 216.9,94.2 217.2,95.1 217.5,96.0 217.7,97.2 218.0,98.0 219.0,97.8 220.0,98.2 221.0,97.9 222.0,98.0 222.4,99.0 222.7,99.6 223.1,100.6 223.4,101.4 223.8,102.3 224.1,103.1 224.5,104.0 225.6,104.0 226.7,104.0 227.8,104.0 227.8,103.1 227.9,102.2 227.9,101.3 227.9,100.5 228.0,99.3 228.0,98.5 228.0,97.5 228.0,96.9 228.1,95.8 228.1,95.1 228.1,93.9 228.2,93.5 228.2,92.0 228.2,91.8 228.3,90.3 228.3,89.0 228.3,88.3 228.4,88.0 228.4,87.4 228.4,85.3 228.4,85.5 228.5,84.4 228.5,83.0 228.5,81.6 228.6,81.9 228.6,80.0 228.6,80.1 228.7,77.8 228.7,78.5 228.7,77.8 228.8,75.4 228.8,74.6 228.8,74.0 228.8,73.9 228.9,71.4 228.9,72.0 228.9,69.8 229.0,70.5 229.0,68.8 229.4,68.8 229.8,71.1 230.1,71.2 230.5,72.6 230.9,73.6 231.2,73.9 231.6,74.5 232.0,76.0 232.4,77.7 232.9,78.7 233.3,78.0 233.7,79.8 234.1,79.6 234.6,81.9 235.0,82.0 235.4,82.6 235.7,84.3 236.1,84.6 236.5,86.1 236.8,86.3 237.2,87.6 237.3,88.8 237.3,89.1 237.4,90.9 237.5,91.5 237.6,92.4 237.6,93.2 237.7,93.6 237.8,95.2 237.8,95.7 237.9,96.6 238.0,97.8 238.1,98.7 238.1,99.6 238.2,100.2 238.3,101.3 238.4,102.2 238.4,103.1 238.5,104.0 239.5,104.0 240.5,104.0 241.5,104.0 241.5,103.1 241.6,102.2 241.6,101.3 241.7,100.4 241.7,99.7 241.7,98.5 241.8,97.8 241.8,96.7 241.9,96.2 241.9,95.2 241.9,93.9 242.0,93.5 242.0,92.7 242.1,91.1 242.1,90.8 242.1,89.4 242.2,89.0 242.2,87.3 242.3,87.6 242.3,85.6 242.3,85.5 242.4,83.4 242.4,82.7 242.5,82.7 242.5,81.2 242.5,81.2 242.6,79.3 242.6,79.4 242.7,78.2 242.7,76.0 242.7,76.9 242.8,74.9 242.8,73.7 242.9,73.1 242.9,72.5 243.2,74.1 243.6,73.4 243.9,75.5 244.3,75.7 244.7,76.2 245.0,78.0 245.4,79.4 245.9,78.9 246.3,80.9 246.7,80.6 247.1,82.5 247.6,83.3 248.0,84.0 248.6,84.5 249.2,85.7 249.8,85.5 250.4,86.4 251.0,87.6" fill="none" stroke="#a0a0a0" stroke-width="1.25" stroke-linejoin="round"/>
<path d="M34.5,104.0 L37.0,104.0 L39.0,96.3 L41.4,101.4 L43.3,97.6 L46.4,97.6 L47.7,103.0 L48.3,104.0 L49.8,103.0 L50.8,104.0 L52.7,86.3 L54.6,95.0 L57.0,98.8 L60.2,98.8 L61.4,104.0 L62.7,103.0 L65.8,97.0 L68.3,104.0 M72.0,104.0 L73.4,101.0 L74.5,104.0 M77.5,104.0 L79.0,93.2 L81.5,104.0 L84.0,102.6 L89.0,102.6 L90.4,103.0 L93.5,96.3 L95.5,100.0 L97.3,104.0 M103.5,104.0 L104.8,101.4 L106.0,104.0 M109.5,104.0 L110.4,100.5 L111.5,104.0 L113.0,102.0 L115.0,104.0 L116.0,100.0 L118.0,99.0 L120.0,101.0 L122.0,99.5 L124.0,100.5 L126.0,99.0 L127.4,104.0 M131.0,104.0 L132.4,102.0 L134.0,104.0 M143.0,104.0 L145.0,102.0 L147.0,100.0 L149.0,103.0 L151.0,101.0 L153.0,102.5 L155.0,100.5 L157.0,102.0 L159.0,100.0 L161.0,103.0 L163.0,101.0 L165.0,103.0 L168.0,101.0 L170.0,100.0 L172.0,101.0 L174.0,99.5 L176.0,101.0 L177.6,100.0 L179.0,103.0 L185.0,104.0 L188.0,102.0 L189.5,97.6 L192.0,97.0 L194.0,97.6 L195.5,100.0 L196.5,104.0 M199.6,104.0 L201.5,88.8 L203.4,100.0 L205.0,96.0 L207.2,93.8 L209.7,98.8 L211.0,104.0 M214.0,104.0 L215.3,96.3 L217.0,98.0 L219.0,97.6 L220.3,97.6 L222.8,100.0 L224.0,97.0 L224.6,104.0 M227.8,104.0 L230.3,80.0 L233.5,88.8 L237.2,91.3 L238.5,104.0 M241.6,104.0 L242.2,95.0 L244.1,78.8 L246.6,90.0 L248.5,88.8 L251.4,95.7" fill="none" stroke="#1010fc" stroke-width="1.05" stroke-linejoin="round"/>
<line x1="34.5" y1="64.0" x2="34.5" y2="104.6" stroke="#000" stroke-width="1"/>
<text x="0" y="0" font-size="8.3" text-anchor="middle" transform="translate(28.8,84.5) rotate(-90)">EDCr</text>
<text x="254.7" y="94.5" font-size="8.5" font-weight="bold" fill="#1010fc" color="#1010fc">0.67</text>
<text x="254.7" y="104.6" font-size="8.5" fill="#8c8c8c" color="#8c8c8c">0.84</text>
<line x1="61.6" y1="112.8" x2="61.6" y2="152.1" stroke="#111" stroke-width="1" stroke-dasharray="2.1,0.9"/>
<line x1="88.7" y1="112.8" x2="88.7" y2="152.1" stroke="#111" stroke-width="1" stroke-dasharray="2.1,0.9"/>
<line x1="116.0" y1="112.8" x2="116.0" y2="152.1" stroke="#111" stroke-width="1" stroke-dasharray="2.1,0.9"/>
<line x1="143.2" y1="112.8" x2="143.2" y2="152.1" stroke="#111" stroke-width="1" stroke-dasharray="2.1,0.9"/>
<line x1="170.4" y1="112.8" x2="170.4" y2="152.1" stroke="#111" stroke-width="1" stroke-dasharray="2.1,0.9"/>
<line x1="197.6" y1="112.8" x2="197.6" y2="152.1" stroke="#111" stroke-width="1" stroke-dasharray="2.1,0.9"/>
<line x1="224.5" y1="112.8" x2="224.5" y2="152.1" stroke="#111" stroke-width="1" stroke-dasharray="2.1,0.9"/>
<line x1="251.4" y1="112.8" x2="251.4" y2="152.1" stroke="#111" stroke-width="1" stroke-dasharray="2.1,0.9"/>
<polyline points="34.5,152.0 35.1,152.0 35.7,152.0 36.3,152.0 36.9,152.0 37.5,152.0 38.1,152.0 38.8,152.0 39.4,152.0 40.0,152.0 40.6,152.0 41.2,152.0 41.8,152.0 42.4,152.0 43.0,152.0 43.6,152.0 44.2,152.0 44.8,152.0 45.4,152.0 46.0,152.0 46.6,152.0 47.2,152.0 47.9,152.0 48.5,152.0 49.1,152.0 49.7,152.0 50.3,152.0 50.9,152.0 51.5,152.0 52.1,152.0 52.7,152.0 53.3,152.0 53.9,152.0 54.5,152.0 55.1,152.0 55.8,152.0 56.4,152.0 57.0,152.0 57.6,152.0 58.2,152.0 58.8,152.0 59.4,152.0 60.0,152.0 60.7,151.7 61.3,151.3 62.0,151.0 62.6,151.0 63.2,151.1 63.9,151.1 64.5,151.2 65.1,151.2 65.7,151.3 66.3,151.3 67.0,151.4 67.6,151.4 68.2,151.5 68.8,151.5 69.4,151.6 70.0,151.6 70.7,151.7 71.3,151.7 71.9,151.8 72.5,151.8 73.1,151.9 73.8,151.9 74.4,152.0 75.0,152.0 75.6,152.0 76.2,152.0 76.8,152.0 77.4,152.0 78.0,152.0 78.7,152.0 79.3,152.0 79.9,152.0 80.5,152.0 81.1,152.0 81.7,152.0 82.3,152.0 82.9,152.0 83.5,152.0 84.1,152.0 84.8,152.0 85.4,152.0 86.0,152.0 86.6,152.0 87.2,152.0 87.8,152.0 88.4,152.0 89.0,152.0 89.6,152.0 90.2,152.0 90.9,152.0 91.5,152.0 92.1,152.0 92.7,152.0 93.3,152.0 93.9,152.0 94.5,152.0 95.1,152.0 95.7,152.0 96.3,152.0 97.0,152.0 97.6,152.0 98.2,152.0 98.8,152.0 99.4,152.0 100.0,152.0 100.6,151.9 101.2,151.9 101.9,151.8 102.5,151.8 103.1,151.7 103.8,151.6 104.4,151.6 105.0,151.5 105.6,151.4 106.2,151.4 106.9,151.3 107.5,151.2 108.1,151.2 108.8,151.1 109.4,151.1 110.0,151.0 110.6,151.1 111.2,151.2 111.8,151.2 112.4,151.3 113.0,151.4 113.7,151.5 114.3,151.6 114.9,151.7 115.5,151.8 116.1,151.8 116.7,151.9 117.3,152.0 117.4,151.4 117.5,150.8 117.6,150.2 117.7,149.6 117.8,148.8 117.9,148.7 118.0,147.7 118.1,147.7 118.2,146.3 118.4,145.6 118.5,144.9 118.6,145.1 118.7,143.4 118.8,144.4 118.9,142.7 119.0,143.2 119.1,141.5 119.2,141.2 119.7,139.9 120.1,141.4 120.5,138.1 121.0,139.0 121.5,140.0 122.0,136.8 122.6,137.6 123.1,138.4 123.6,137.4 124.1,138.9 124.6,137.7 125.0,139.8 125.5,138.5 126.0,140.0 126.4,141.7 126.9,139.6 127.3,140.0 127.7,142.1 128.2,143.3 128.6,142.5 128.8,143.8 129.1,143.2 129.3,143.5 129.6,144.9 129.8,146.1 130.0,145.2 130.3,146.6 130.5,146.4 130.8,147.3 131.0,148.0 131.2,147.6 131.4,146.6 131.6,145.6 131.8,146.5 132.0,144.9 132.2,144.8 132.4,143.5 132.6,143.8 132.8,141.9 133.0,143.4 133.2,142.4 133.4,140.4 133.6,140.6 133.8,142.1 134.0,141.0 134.2,141.8 134.4,143.9 134.6,143.3 134.7,143.7 134.9,145.1 135.1,145.0 135.3,146.7 135.5,146.8 136.1,146.4 136.7,146.7 137.4,145.7 138.0,146.4 138.6,145.6 139.2,145.4 139.8,146.4 140.5,145.2 141.1,145.6 141.3,146.5 141.4,146.5 141.6,147.7 141.8,147.7 142.0,148.6 142.1,148.8 142.3,149.7 142.5,150.3 142.7,150.8 142.8,151.4 143.0,152.0 143.7,152.0 144.3,152.0 145.0,152.0 145.6,152.0 146.3,152.0 146.3,151.4 146.4,150.8 146.4,150.2 146.5,149.6 146.5,149.1 146.5,148.6 146.6,147.5 146.6,147.3 146.7,146.3 146.7,145.6 146.7,145.1 146.8,145.4 146.8,144.7 146.9,143.3 146.9,143.4 146.9,143.4 147.0,141.2 147.0,140.2 147.1,139.9 147.1,140.6 147.1,138.7 147.2,139.6 147.2,137.3 147.3,137.0 147.3,138.7 147.3,138.2 147.4,133.9 147.4,134.4 147.5,136.4 147.5,132.6 147.5,134.4 147.6,132.1 147.6,133.2 147.7,132.1 147.7,132.8 147.7,132.7 147.8,131.5 147.8,126.9 147.9,129.8 147.9,126.1 147.9,130.1 148.0,125.3 148.0,128.8 148.1,123.0 148.1,124.9 148.3,126.6 148.5,123.5 148.7,129.2 148.9,129.8 149.1,128.4 149.3,125.9 149.5,129.0 149.9,129.7 150.2,126.2 150.6,129.2 151.0,127.0 151.3,127.0 151.6,129.1 151.9,128.1 152.2,127.0 152.5,130.0 152.8,131.0 153.1,127.5 153.4,130.3 153.7,126.2 154.0,127.0 154.4,128.9 154.8,126.1 155.1,129.9 155.5,129.0 155.9,127.5 156.3,128.0 156.3,130.5 156.3,127.8 156.4,127.9 156.4,131.7 156.4,129.1 156.4,133.5 156.4,131.3 156.4,134.6 156.5,132.2 156.5,136.0 156.5,135.6 156.5,136.9 156.5,134.7 156.5,138.0 156.6,135.4 156.6,138.9 156.6,137.1 156.6,139.9 156.6,138.9 156.7,140.3 156.7,140.2 156.7,140.8 156.7,142.9 156.7,141.4 156.7,143.9 156.8,144.3 156.8,144.0 156.8,145.3 156.8,145.2 156.8,146.7 156.8,146.3 156.9,147.7 156.9,147.6 156.9,148.7 156.9,148.8 156.9,149.6 156.9,150.2 157.0,150.8 157.0,151.4 157.0,152.0 157.6,152.0 158.2,152.0 158.9,152.0 159.5,152.0 160.1,152.0 160.8,152.0 161.4,152.0 162.0,152.0 162.0,151.4 162.1,150.8 162.1,150.2 162.1,149.6 162.1,149.2 162.2,148.1 162.2,148.1 162.2,147.5 162.2,146.4 162.3,146.6 162.3,144.9 162.3,145.4 162.3,144.5 162.4,142.8 162.4,142.3 162.4,143.3 162.5,141.2 162.5,142.0 162.5,140.0 162.5,141.4 162.6,138.2 162.6,140.2 162.6,137.5 162.6,137.9 162.7,136.0 162.7,137.3 162.7,134.1 162.7,137.2 162.8,133.1 162.8,135.8 162.8,134.8 162.9,130.9 162.9,130.9 162.9,133.9 162.9,129.9 163.0,132.3 163.0,127.1 163.0,128.0 163.0,129.7 163.1,125.7 163.1,124.6 163.1,129.4 163.1,124.5 163.2,126.3 163.2,124.9 163.4,122.9 163.6,127.6 163.7,124.5 163.9,128.7 164.1,126.2 164.3,130.4 164.5,130.6 164.6,129.0 164.8,132.3 165.0,131.0 165.7,128.3 166.3,129.6 167.0,130.0 167.7,129.0 168.3,132.7 169.0,131.0 169.0,129.8 169.1,134.2 169.1,130.9 169.1,131.7 169.1,134.6 169.2,133.6 169.2,136.7 169.2,135.1 169.3,137.7 169.3,135.3 169.3,138.1 169.3,138.7 169.4,137.6 169.4,140.4 169.4,139.2 169.5,141.1 169.5,140.2 169.5,142.6 169.5,141.8 169.6,143.6 169.6,143.8 169.6,143.8 169.7,145.2 169.7,145.0 169.7,146.6 169.7,146.0 169.8,147.4 169.8,147.7 169.8,148.7 169.9,148.9 169.9,149.6 169.9,150.2 169.9,150.8 170.0,151.4 170.0,152.0 170.7,152.0 171.3,152.0 172.0,152.0 172.1,151.4 172.1,150.8 172.2,150.2 172.2,149.6 172.3,149.3 172.3,148.8 172.4,147.6 172.5,147.4 172.5,146.2 172.6,146.3 172.6,145.2 172.7,144.0 172.7,143.7 172.8,144.3 172.9,141.9 172.9,142.9 173.0,142.5 173.0,140.2 173.1,141.7 173.1,139.1 173.2,140.3 173.3,137.8 173.3,139.2 173.4,136.6 173.4,138.8 173.5,137.0 173.5,134.4 173.6,136.2 173.7,134.0 173.7,136.1 173.8,131.4 173.8,133.5 173.9,133.8 173.9,133.5 174.0,129.8 174.0,127.9 174.1,128.3 174.2,130.8 174.2,127.9 174.3,129.0 174.3,125.6 174.4,128.7 174.4,124.0 174.5,127.3 174.6,123.4 174.6,127.2 174.7,122.3 174.7,125.1 174.8,121.5 174.8,123.1 174.9,120.5 175.0,121.9 175.0,119.2 175.1,120.6 175.1,118.1 175.2,120.2 175.2,117.1 175.3,118.8 175.4,115.9 175.4,117.6 175.5,112.5 175.5,115.6 175.6,113.2 175.6,115.0 175.7,113.0 175.9,112.9 176.1,115.4 176.3,113.0 176.5,114.0 176.7,117.1 176.9,118.6 177.0,116.2 177.2,120.5 177.4,117.6 177.6,119.6 177.8,118.7 178.0,122.1 178.2,120.5 178.8,122.1 179.4,123.2 180.0,122.0 180.7,125.1 181.3,123.3 182.0,123.0 182.1,121.6 182.2,123.4 182.3,127.5 182.3,124.0 182.4,128.4 182.5,127.8 182.6,125.1 182.7,126.2 182.8,127.3 182.9,130.3 182.9,128.4 183.0,131.4 183.1,129.5 183.2,131.8 183.2,133.6 183.3,132.3 183.3,134.1 183.4,132.5 183.4,135.4 183.4,133.7 183.5,137.8 183.5,137.7 183.6,138.7 183.6,137.1 183.6,139.4 183.7,139.6 183.7,139.3 183.8,141.4 183.8,140.7 183.8,142.5 183.9,142.0 183.9,143.9 183.9,142.8 184.0,144.8 184.0,143.9 184.1,145.6 184.1,145.7 184.1,146.3 184.2,147.7 184.2,147.2 184.3,148.6 184.3,148.6 184.3,149.6 184.4,150.2 184.4,150.8 184.5,151.4 184.5,152.0 185.1,152.0 185.8,152.0 186.4,152.0 187.0,152.0 187.1,151.4 187.1,150.8 187.2,150.2 187.2,149.6 187.3,149.3 187.4,148.0 187.4,148.2 187.5,147.0 187.5,146.2 187.6,145.7 187.7,145.9 187.7,144.6 187.8,144.8 187.8,142.9 187.9,143.6 187.9,141.6 188.0,142.4 188.1,141.8 188.1,140.2 188.2,140.5 188.2,140.6 188.3,140.4 188.4,136.6 188.4,138.5 188.5,138.7 188.5,137.5 188.6,134.8 188.7,133.3 188.7,136.6 188.8,133.4 188.8,134.4 188.9,131.2 189.0,134.1 189.0,130.3 189.1,133.0 189.1,129.3 189.2,131.0 189.3,128.5 189.3,130.9 189.4,125.2 189.4,124.7 189.5,127.8 189.6,124.5 189.6,127.5 189.7,122.4 189.7,126.1 189.8,126.3 189.9,122.0 189.9,122.0 190.0,123.9 190.0,120.4 190.1,121.9 190.1,118.5 190.2,117.1 190.3,118.3 190.3,119.0 190.4,116.4 190.4,119.1 190.5,115.3 190.6,118.5 190.6,114.2 190.7,116.4 190.7,112.0 190.8,113.6 191.0,111.7 191.1,115.8 191.3,113.0 191.5,118.7 191.7,115.5 191.8,118.0 192.0,118.0 192.2,115.8 192.4,117.5 192.6,122.6 192.8,122.4 193.0,121.0 193.7,118.8 194.3,121.4 195.0,120.0 195.3,117.7 195.7,122.9 196.0,122.0 196.2,120.9 196.4,121.6 196.6,122.9 196.8,126.4 196.9,122.5 197.1,122.9 197.3,127.0 197.5,127.0 197.5,125.7 197.5,129.4 197.5,126.2 197.5,131.4 197.6,128.4 197.6,128.2 197.6,132.2 197.6,132.7 197.6,130.5 197.6,134.0 197.6,135.8 197.6,133.2 197.7,135.6 197.7,133.6 197.7,136.9 197.7,136.3 197.7,138.8 197.7,139.2 197.7,138.9 197.7,137.7 197.8,140.4 197.8,139.8 197.8,141.3 197.8,140.4 197.8,143.3 197.8,141.8 197.8,144.2 197.8,143.8 197.9,145.0 197.9,144.6 197.9,145.7 197.9,146.1 197.9,147.3 197.9,147.2 197.9,148.5 197.9,148.8 198.0,149.6 198.0,150.2 198.0,150.8 198.0,151.4 198.0,152.0 198.6,152.0 199.2,152.0 199.8,152.0 200.4,152.0 201.0,152.0 201.1,151.4 201.2,150.8 201.3,150.2 201.4,149.6 201.5,149.3 201.6,148.2 201.7,147.3 201.8,147.0 201.9,147.2 201.9,145.4 202.0,145.6 202.1,144.1 202.2,144.8 202.3,143.0 202.4,143.7 202.5,142.8 202.6,140.6 202.7,140.8 202.8,140.6 202.9,140.1 203.0,142.4 203.1,142.2 203.1,142.5 203.2,143.5 203.3,145.2 203.4,144.2 203.5,146.1 203.6,146.1 203.7,147.2 203.7,147.1 203.8,148.4 203.9,148.6 204.0,149.4 204.6,149.4 205.2,149.4 205.8,149.4 206.4,149.4 207.0,149.4 207.6,149.4 208.2,149.4 208.8,149.4 209.4,149.4 210.0,149.4 210.3,149.9 210.6,150.4 210.9,151.0 211.2,151.5 211.5,152.0 212.1,152.0 212.8,152.0 213.4,152.0 214.0,152.0 214.2,151.4 214.4,150.8 214.6,150.2 214.8,149.6 214.9,149.3 215.1,148.8 215.3,148.2 215.5,146.6 215.7,146.8 215.9,145.4 216.1,146.0 216.3,143.9 216.4,144.8 216.6,142.7 216.8,142.3 217.0,143.2 217.2,141.8 217.5,141.7 217.7,142.0 218.0,144.3 218.2,143.0 218.5,144.9 218.7,144.3 219.0,145.6 219.7,146.3 220.3,145.2 221.0,146.1 221.7,145.2 222.3,146.3 223.0,145.6 223.1,146.0 223.2,147.2 223.4,147.3 223.5,148.4 223.6,148.7 223.7,149.4 223.8,150.1 224.0,150.7 224.1,151.4 224.2,152.0 224.8,152.0 225.4,152.0 226.0,152.0 226.6,152.0 227.2,152.0 227.9,152.0 228.5,152.0 229.1,152.0 229.7,152.0 230.3,152.0 230.9,152.0 231.5,152.0 232.1,152.0 232.7,152.0 233.3,152.0 233.9,152.0 234.6,152.0 235.2,152.0 235.8,152.0 236.4,152.0 237.0,152.0 237.6,152.0 238.2,152.0 238.8,152.0 239.4,152.0 240.0,152.0 240.6,152.0 241.3,152.0 241.9,152.0 242.5,152.0 243.1,152.0 243.7,152.0 244.3,152.0 244.9,152.0 245.5,152.0 246.1,152.0 246.7,152.0 247.3,152.0 248.0,152.0 248.6,152.0 249.2,152.0 249.8,152.0 250.4,152.0 251.0,152.0" fill="none" stroke="#000" stroke-width="0.85" stroke-linejoin="round"/>
<polyline points="34.5,152.0 35.4,152.0 36.3,152.0 37.2,152.0 38.2,152.0 39.1,152.0 40.0,152.0 40.9,152.0 41.8,152.0 42.7,152.0 43.6,152.0 44.6,152.0 45.5,152.0 46.4,152.0 47.3,152.0 48.2,152.0 49.1,152.0 50.0,152.0 50.9,152.0 51.9,152.0 52.8,152.0 53.7,152.0 54.6,152.0 55.5,152.0 56.4,152.0 57.3,152.0 58.3,152.0 59.2,152.0 60.1,152.0 61.0,152.0 61.1,151.0 61.2,150.1 61.4,149.1 61.5,148.0 61.6,147.4 61.8,146.1 61.9,145.4 62.0,144.3 62.2,145.2 62.4,146.4 62.6,147.3 62.8,148.3 63.0,149.4 64.0,149.4 64.9,149.4 65.9,149.4 66.9,149.4 67.8,149.4 68.8,149.4 69.8,149.4 70.7,149.4 71.7,149.4 72.7,149.4 73.6,149.4 74.6,149.4 75.1,150.3 75.5,151.1 76.0,152.0 76.9,152.0 77.8,152.0 78.7,152.0 79.6,152.0 80.5,152.0 81.5,152.0 82.4,152.0 83.3,152.0 84.2,152.0 85.1,152.0 86.0,152.0 86.3,151.0 86.7,150.0 87.0,149.1 87.3,148.0 87.6,148.9 87.9,150.0 88.2,151.0 88.5,152.0 89.4,152.0 90.4,152.0 91.3,152.0 92.2,152.0 93.2,152.0 94.1,152.0 95.1,152.0 96.0,152.0 96.5,151.0 97.0,150.0 97.4,148.9 97.9,148.0 98.3,148.9 98.7,150.0 99.1,151.0 99.5,152.0 101.0,152.0 101.3,151.0 101.7,150.0 102.0,148.9 102.3,148.0 102.6,149.1 102.9,150.0 103.2,151.0 103.5,152.0 104.4,152.0 105.4,152.0 106.3,152.0 107.2,152.0 108.2,152.0 109.1,152.0 110.0,152.0 111.0,152.0 111.9,152.0 112.8,152.0 113.8,152.0 114.7,152.0 115.6,152.0 116.6,152.0 117.5,152.0 117.7,151.1 117.8,150.2 118.0,149.2 118.1,148.2 118.3,147.5 118.4,146.3 118.6,145.6 118.7,144.9 118.9,143.9 119.0,142.5 119.2,142.2 119.3,140.8 119.5,140.0 120.5,140.0 121.5,139.1 122.6,139.3 123.6,138.7 124.4,138.9 125.3,139.9 126.1,140.0 126.9,141.1 127.8,141.5 128.6,141.8 128.8,142.4 129.0,143.8 129.2,144.9 129.4,145.5 129.6,146.7 129.7,147.6 129.9,148.2 130.1,149.3 130.3,150.3 130.5,151.2 130.8,150.3 131.0,149.5 131.2,148.7 131.5,147.6 131.8,147.0 132.0,146.0 132.7,145.0 133.3,144.7 134.0,143.7 135.0,143.8 136.0,144.5 137.0,144.5 138.0,145.0 139.0,145.1 140.1,144.8 141.1,145.0 141.3,146.0 141.6,146.6 141.8,147.7 142.1,148.4 142.3,149.4 142.5,150.2 142.8,151.1 143.0,152.0 144.1,152.0 145.2,152.0 146.3,152.0 146.4,151.1 146.4,150.2 146.5,149.3 146.6,148.4 146.7,147.3 146.7,146.7 146.8,145.4 146.9,144.9 146.9,143.5 147.0,143.1 147.1,141.8 147.2,141.4 147.2,140.6 147.3,138.9 147.4,138.2 147.5,137.8 147.5,136.3 147.6,136.0 147.7,134.4 147.7,134.4 147.8,132.8 147.9,132.3 148.0,130.6 148.0,130.6 148.1,129.3 149.1,129.0 150.0,129.0 151.0,129.3 151.7,129.6 152.3,131.0 153.0,130.9 153.7,132.2 154.3,133.2 155.0,133.0 155.2,133.5 155.4,135.6 155.6,135.4 155.9,137.2 156.1,137.8 156.3,138.8 156.5,140.0 156.5,141.1 156.6,141.5 156.6,143.1 156.7,143.4 156.7,144.9 156.7,145.4 156.8,146.7 156.8,147.4 156.8,148.2 156.9,149.2 156.9,150.2 157.0,151.1 157.0,152.0 158.0,152.0 159.0,152.0 160.0,152.0 161.0,152.0 162.0,152.0 162.1,151.1 162.1,150.2 162.2,149.2 162.2,148.2 162.3,147.6 162.3,146.4 162.4,145.6 162.5,144.5 162.5,144.0 162.6,143.1 162.6,141.6 162.7,140.6 162.8,140.4 162.8,138.8 162.9,137.8 162.9,137.7 163.0,136.2 163.0,135.7 163.1,133.8 163.2,134.2 163.2,133.0 163.3,132.4 163.3,130.4 163.4,130.7 163.4,128.6 163.5,128.0 163.9,129.4 164.3,129.1 164.8,131.2 165.2,131.1 165.6,132.5 166.0,133.0 167.0,133.8 168.0,133.0 169.0,134.0 169.1,135.4 169.1,135.4 169.2,136.6 169.2,137.4 169.2,138.3 169.3,139.7 169.3,140.5 169.4,140.9 169.4,142.3 169.5,142.8 169.6,144.1 169.6,144.7 169.7,145.8 169.7,146.8 169.8,147.3 169.8,148.3 169.8,149.3 169.9,150.2 169.9,151.1 170.0,152.0 171.0,152.0 172.0,152.0 172.1,151.1 172.2,150.2 172.3,149.3 172.4,148.2 172.5,147.6 172.6,146.4 172.6,145.8 172.7,144.6 172.8,144.0 172.9,142.6 173.0,141.8 173.1,140.8 173.2,140.4 173.3,139.5 173.4,138.6 173.5,136.9 173.6,136.8 173.7,135.2 173.8,135.3 173.8,133.0 173.9,133.2 174.0,131.3 174.1,131.3 174.2,129.7 174.3,130.1 174.4,127.4 174.5,127.7 174.6,126.7 174.7,125.2 174.8,125.1 174.9,123.4 175.0,123.6 175.1,121.5 175.1,121.9 175.2,119.3 175.3,120.0 175.4,118.6 175.5,116.6 175.6,117.0 175.7,115.5 176.0,116.1 176.4,117.9 176.7,117.9 177.0,119.9 177.3,119.2 177.7,121.8 178.0,122.0 178.3,122.2 178.7,124.7 179.0,125.1 179.3,125.9 179.7,126.2 180.0,127.6 180.3,127.6 180.7,129.8 181.0,130.0 181.3,130.6 181.6,132.1 181.9,133.1 182.3,133.3 182.6,134.5 182.9,136.0 183.2,136.8 183.3,137.4 183.4,138.9 183.4,139.8 183.5,140.2 183.6,141.7 183.7,142.3 183.8,143.8 183.8,144.2 183.9,145.5 184.0,146.1 184.1,147.3 184.2,148.1 184.3,149.2 184.3,150.1 184.4,151.1 184.5,152.0 185.8,152.0 187.0,152.0 187.1,151.1 187.2,150.2 187.2,149.2 187.3,148.4 187.4,147.3 187.5,146.7 187.6,145.4 187.6,144.8 187.7,143.5 187.8,143.1 187.9,142.2 188.0,140.8 188.1,140.3 188.1,138.7 188.2,138.5 188.3,137.0 188.4,136.2 188.5,135.8 188.5,134.4 188.6,134.2 188.7,132.2 188.8,132.0 188.9,130.4 188.9,130.6 189.0,128.2 189.1,129.0 189.2,126.2 189.3,126.8 189.4,126.0 189.4,124.2 189.5,124.2 189.6,122.3 189.7,122.6 189.8,121.3 189.8,119.0 189.9,119.7 190.0,118.0 190.4,117.9 190.8,120.6 191.1,120.4 191.5,121.9 191.9,121.4 192.2,123.8 192.6,123.7 193.0,125.0 193.4,126.1 193.8,126.4 194.1,127.9 194.5,128.2 194.9,129.9 195.2,129.3 195.6,131.8 196.0,131.8 196.1,132.2 196.1,133.9 196.2,134.3 196.3,136.0 196.4,136.0 196.4,137.8 196.5,138.0 196.6,139.4 196.7,139.8 196.7,141.1 196.8,141.7 196.9,143.1 196.9,143.5 197.0,144.8 197.1,145.4 197.2,146.3 197.2,147.6 197.3,148.2 197.4,149.2 197.5,150.2 197.5,151.1 197.6,152.0 198.6,152.0 199.5,152.0 200.5,152.0 200.7,151.1 200.8,150.2 201.0,149.3 201.2,148.5 201.3,147.4 201.5,146.8 201.7,145.6 201.8,144.7 202.0,144.1 202.1,142.6 202.3,142.3 202.5,141.4 202.6,139.9 202.8,139.3 203.3,140.7 203.7,140.8 204.2,142.4 204.6,142.6 205.1,143.6 205.5,144.6 206.0,145.6 207.1,145.3 208.2,144.7 209.2,144.9 210.3,144.3 210.5,145.2 210.6,146.4 210.8,147.1 210.9,148.3 211.1,149.1 211.2,150.1 211.3,151.0 211.5,152.0 212.5,152.0 213.5,152.0 214.5,152.0 214.7,151.1 214.8,150.1 214.9,149.2 215.1,148.1 215.2,147.3 215.4,146.2 215.6,145.5 215.7,144.3 215.8,143.4 216.0,142.7 216.2,141.2 216.3,140.9 216.4,139.8 216.6,138.7 217.7,138.9 218.9,138.5 220.0,139.0 221.1,139.1 222.3,137.8 223.4,138.0 223.5,139.1 223.7,139.4 223.8,141.0 223.9,141.4 224.0,142.3 224.2,143.7 224.3,144.4 224.4,145.2 224.5,146.6 224.7,147.3 224.8,148.2 224.9,149.2 225.0,150.1 225.2,151.1 225.3,152.0 226.3,152.0 227.2,152.0 228.2,152.0 229.2,152.0 230.2,152.0 231.1,152.0 232.1,152.0 233.1,152.0 234.0,152.0 235.0,152.0 235.4,151.0 235.8,150.0 236.2,149.1 236.6,148.0 236.9,148.9 237.3,150.0 237.7,151.0 238.0,152.0 239.0,152.0 240.0,152.0 241.0,152.0 242.0,152.0 243.0,152.0 244.0,152.0 245.0,152.0 245.2,151.0 245.5,150.0 246.2,151.0 247.0,152.0 248.0,152.0 249.0,152.0 250.0,152.0 251.0,152.0" fill="none" stroke="#a0a0a0" stroke-width="1.25" stroke-linejoin="round"/>
<path d="M34.5,152.0 L35.1,148.7 L36.5,152.0 L39.0,151.0 L40.8,150.0 L42.5,152.0 M46.0,152.0 L48.3,143.7 L49.5,149.0 L50.8,150.0 L52.0,152.0 L55.8,150.0 L57.5,152.0 L59.6,150.0 L61.0,152.0 L63.0,152.0 L64.6,149.4 L66.0,152.0 M73.0,152.0 L75.9,147.5 L77.5,152.0 L84.6,150.0 L89.6,150.0 L92.0,152.0 M105.0,152.0 L107.3,146.2 L109.0,152.0 M112.0,152.0 L113.6,148.0 L115.0,152.0 M118.0,152.0 L120.0,147.0 L123.0,141.8 L125.5,149.4 L127.4,145.6 L130.5,143.0 L132.5,141.0 L134.9,138.7 L138.6,141.8 L141.1,143.0 L143.0,152.0 M146.3,152.0 L149.0,136.0 L150.5,133.0 L151.9,131.2 L153.5,134.0 L155.0,140.6 L157.0,152.0 L158.8,152.0 L160.5,137.0 L162.6,131.2 L166.3,136.8 L169.4,141.2 L170.2,152.0 L172.0,152.0 L174.0,142.0 L177.0,131.2 L180.7,138.0 L183.2,140.0 L184.0,152.0 M187.0,152.0 L189.5,131.2 L193.9,135.0 L194.0,136.8 L196.5,145.6 L197.6,152.0 M200.9,152.0 L202.8,140.6 L205.3,135.0 L207.8,143.0 L210.3,148.0 L212.0,151.2 L214.0,152.0 L216.0,140.6 L217.8,138.7 L220.3,138.7 L224.1,136.2 L226.0,145.6 L227.2,152.0 L228.0,150.0 L229.0,148.0 L230.5,149.0 L231.6,146.2 L234.1,148.0 L237.2,145.6 L240.4,149.4 L243.0,148.0 L246.0,145.6 L249.1,150.6 L251.0,152.0" fill="none" stroke="#1010fc" stroke-width="1.05" stroke-linejoin="round"/>
<line x1="34.5" y1="112.0" x2="34.5" y2="152.6" stroke="#000" stroke-width="1"/>
<text x="0" y="0" font-size="8.3" text-anchor="middle" transform="translate(28.8,132.6) rotate(-90)">FCR</text>
<text x="254.7" y="142.5" font-size="8.5" font-weight="bold" fill="#1010fc" color="#1010fc">0.60</text>
<text x="254.7" y="152.6" font-size="8.5" fill="#8c8c8c" color="#8c8c8c">0.82</text>
<line x1="61.6" y1="160.8" x2="61.6" y2="200.1" stroke="#111" stroke-width="1" stroke-dasharray="2.1,0.9"/>
<line x1="88.7" y1="160.8" x2="88.7" y2="200.1" stroke="#111" stroke-width="1" stroke-dasharray="2.1,0.9"/>
<line x1="116.0" y1="160.8" x2="116.0" y2="200.1" stroke="#111" stroke-width="1" stroke-dasharray="2.1,0.9"/>
<line x1="143.2" y1="160.8" x2="143.2" y2="200.1" stroke="#111" stroke-width="1" stroke-dasharray="2.1,0.9"/>
<line x1="170.4" y1="160.8" x2="170.4" y2="200.1" stroke="#111" stroke-width="1" stroke-dasharray="2.1,0.9"/>
<line x1="197.6" y1="160.8" x2="197.6" y2="200.1" stroke="#111" stroke-width="1" stroke-dasharray="2.1,0.9"/>
<line x1="224.5" y1="160.8" x2="224.5" y2="200.1" stroke="#111" stroke-width="1" stroke-dasharray="2.1,0.9"/>
<line x1="251.4" y1="160.8" x2="251.4" y2="200.1" stroke="#111" stroke-width="1" stroke-dasharray="2.1,0.9"/>
<polyline points="34.5,200.0 35.1,199.8 35.7,199.5 36.2,199.2 36.8,199.0 37.4,198.8 38.0,198.5 38.7,198.6 39.3,198.7 40.0,198.8 40.7,198.8 41.3,198.9 42.0,199.0 42.7,198.8 43.3,198.7 44.0,198.5 44.7,198.3 45.3,198.2 46.0,198.0 46.7,198.2 47.3,198.3 48.0,198.5 48.7,198.7 49.3,198.8 50.0,199.0 50.6,198.9 51.2,198.9 51.9,198.8 52.5,198.8 53.1,198.7 53.8,198.6 54.4,198.6 55.0,198.5 55.6,198.6 56.2,198.6 56.9,198.7 57.5,198.8 58.1,198.8 58.8,198.9 59.4,198.9 60.0,199.0 60.7,199.0 61.4,199.0 62.0,199.0 62.7,199.0 62.8,198.4 62.9,197.8 63.0,197.2 63.0,196.5 63.1,196.2 63.2,195.1 63.3,194.3 63.4,194.5 63.5,193.3 63.6,193.2 63.7,191.5 63.7,191.0 63.8,190.8 63.9,191.4 64.0,190.0 64.1,188.3 64.2,188.4 64.3,189.3 64.4,187.1 64.5,187.4 64.6,187.9 64.7,185.0 64.8,184.0 64.9,183.0 64.9,185.0 65.0,182.3 65.1,183.7 65.2,182.7 65.3,180.0 65.4,182.4 65.5,179.3 65.6,178.9 65.7,180.1 65.8,178.6 66.0,178.1 66.2,181.7 66.4,178.8 66.6,180.2 66.8,182.3 67.0,182.0 67.3,179.8 67.5,181.9 67.8,178.8 68.0,181.5 68.3,181.4 68.6,175.9 68.8,179.0 69.1,179.5 69.3,173.9 69.6,176.0 69.9,179.0 70.2,176.1 70.4,178.5 70.7,175.7 71.0,179.3 71.3,178.5 71.5,181.1 71.8,179.8 72.1,181.0 72.6,179.4 73.1,180.9 73.6,179.1 74.1,180.3 74.6,179.2 74.7,178.4 74.8,182.8 74.8,179.6 74.9,182.8 75.0,183.5 75.1,181.8 75.2,184.6 75.3,182.4 75.3,183.7 75.4,186.1 75.5,186.0 75.5,186.0 75.6,188.6 75.7,187.4 75.7,187.5 75.8,188.3 75.8,188.7 75.8,191.1 75.9,190.5 76.0,192.3 76.0,192.9 76.0,191.9 76.1,193.8 76.2,194.3 76.2,193.9 76.2,195.6 76.3,195.7 76.3,196.7 76.4,196.7 76.5,197.4 76.5,198.0 77.1,198.0 77.8,198.0 78.4,198.0 78.4,197.4 78.5,196.6 78.5,195.8 78.6,195.7 78.6,194.5 78.7,195.0 78.7,193.5 78.8,192.9 78.8,192.2 78.9,191.0 78.9,190.5 79.0,190.2 79.0,190.0 79.1,190.0 79.1,189.9 79.2,187.3 79.3,187.9 79.3,186.1 79.4,185.3 79.5,186.6 79.5,184.1 79.6,186.2 79.7,184.5 79.7,182.4 79.8,183.7 79.9,180.9 79.9,181.0 80.0,182.6 80.1,181.8 80.1,177.6 80.2,179.2 80.4,180.4 80.7,181.2 80.9,179.0 81.1,183.5 81.3,180.3 81.5,183.5 81.8,182.5 82.0,184.0 82.5,186.2 83.0,184.6 83.5,186.6 84.0,186.0 84.5,184.1 85.0,185.5 85.5,182.9 86.0,184.0 86.4,186.0 86.8,186.3 87.1,184.3 87.5,186.0 87.5,188.1 87.6,185.8 87.6,189.1 87.7,187.5 87.7,189.5 87.8,189.0 87.8,190.6 87.8,190.5 87.9,191.1 87.9,191.6 88.0,193.1 88.0,193.1 88.1,194.6 88.1,194.0 88.2,195.4 88.2,195.6 88.2,196.0 88.3,196.6 88.3,197.6 88.4,198.2 88.4,198.8 88.5,199.4 88.5,200.0 89.1,200.0 89.8,200.0 90.4,200.0 91.0,200.0 91.0,199.4 91.1,198.8 91.1,198.2 91.1,197.6 91.1,196.9 91.2,196.7 91.2,195.3 91.2,195.8 91.3,194.1 91.3,194.6 91.3,192.7 91.3,193.6 91.4,191.5 91.4,190.8 91.4,191.4 91.5,189.5 91.5,188.6 91.5,189.8 91.5,189.2 91.6,187.6 91.6,188.3 91.6,185.6 91.7,187.8 91.7,185.0 91.7,186.7 91.7,186.1 91.8,182.9 91.8,184.0 91.8,180.6 91.8,180.1 91.9,182.2 91.9,178.5 91.9,182.1 92.0,178.0 92.0,177.9 92.0,179.2 92.0,177.1 92.1,177.9 92.1,173.7 92.1,178.6 92.2,173.0 92.2,177.6 92.2,176.4 92.2,171.2 92.3,174.8 92.3,172.3 92.5,170.7 92.8,169.3 93.0,171.4 93.3,171.0 93.5,169.2 93.8,167.5 94.1,168.9 94.4,172.5 94.7,168.7 95.0,172.0 95.2,174.3 95.3,169.9 95.5,167.7 95.7,171.6 95.8,166.8 96.0,168.5 96.4,171.6 96.9,171.8 97.3,170.0 97.5,173.4 97.6,168.6 97.8,169.8 97.9,174.5 98.0,174.3 98.2,170.8 98.3,174.9 98.5,174.8 99.0,174.0 99.5,173.5 100.0,176.0 101.0,176.0 101.1,179.2 101.3,176.0 101.4,175.5 101.5,176.2 101.7,181.1 101.8,179.8 101.8,178.9 101.8,179.9 101.8,183.3 101.9,180.9 101.9,183.7 101.9,183.0 101.9,185.9 101.9,184.2 101.9,183.8 102.0,186.3 102.0,187.7 102.0,186.8 102.0,188.1 102.0,187.9 102.0,190.2 102.0,188.5 102.1,190.8 102.1,190.6 102.1,192.4 102.1,191.2 102.1,193.3 102.1,192.6 102.1,194.1 102.2,193.9 102.2,194.9 102.2,196.0 102.2,195.9 102.2,197.2 102.2,197.6 102.3,198.2 102.3,198.8 102.3,199.4 102.3,200.0 102.9,200.0 103.6,200.0 104.2,200.0 104.9,200.0 105.5,200.0 105.5,199.4 105.6,198.8 105.6,198.2 105.6,197.6 105.6,196.7 105.7,196.5 105.7,195.2 105.7,195.6 105.8,193.8 105.8,194.1 105.8,192.5 105.8,193.5 105.9,191.8 105.9,192.0 105.9,191.2 105.9,189.2 106.0,190.8 106.0,188.1 106.0,189.7 106.1,186.5 106.1,188.4 106.1,185.2 106.1,186.6 106.2,184.5 106.2,186.5 106.2,183.2 106.2,182.8 106.3,184.9 106.3,183.9 106.3,182.2 106.4,182.8 106.4,178.4 106.4,180.7 106.4,177.8 106.5,180.2 106.5,178.0 106.5,175.2 106.6,174.5 106.7,177.1 106.7,174.4 106.8,176.0 106.8,172.9 106.8,176.0 106.9,174.2 107.0,169.6 107.0,172.6 107.0,168.7 107.1,173.6 107.2,169.4 107.2,171.8 107.2,168.0 107.3,170.0 107.4,166.0 107.4,167.7 107.5,164.1 107.5,166.7 107.6,163.3 107.6,162.9 107.7,162.2 107.7,165.5 107.8,160.8 107.8,162.9 107.9,159.1 107.9,161.0 108.0,162.3 108.0,161.0 108.1,164.2 108.2,162.5 108.3,166.4 108.3,161.9 108.4,164.2 108.5,167.9 108.6,165.2 108.6,166.2 108.7,168.8 108.8,170.6 108.8,170.1 108.9,167.8 109.0,173.0 109.1,171.8 109.1,174.2 109.2,172.3 109.5,171.0 109.8,174.3 110.1,171.5 110.4,176.5 110.7,173.2 111.0,176.0 111.5,173.9 112.0,178.5 112.5,175.8 113.0,178.0 113.6,175.8 114.2,179.7 114.8,177.0 115.4,178.6 115.4,178.1 115.5,177.5 115.5,179.6 115.5,178.9 115.6,181.2 115.6,183.2 115.6,181.8 115.7,184.9 115.7,182.8 115.7,185.9 115.7,184.9 115.8,186.5 115.8,185.2 115.8,187.9 115.9,186.8 115.9,189.4 115.9,187.7 116.0,190.6 116.0,189.6 116.0,191.4 116.1,190.8 116.1,192.4 116.1,192.4 116.2,193.9 116.2,193.4 116.2,194.7 116.2,195.6 116.3,195.2 116.3,196.5 116.3,196.8 116.4,197.6 116.4,198.2 116.4,198.8 116.5,199.4 116.5,200.0 117.2,200.0 118.0,200.0 118.1,199.4 118.2,198.8 118.3,198.2 118.4,197.6 118.5,197.2 118.6,196.1 118.7,196.1 118.8,194.9 118.9,194.0 118.9,194.6 119.0,193.2 119.1,192.6 119.2,193.0 119.3,190.9 119.4,191.4 119.5,189.3 119.6,190.3 119.7,188.2 119.8,188.6 120.4,189.0 121.1,188.2 121.7,188.9 122.4,189.4 123.0,188.6 123.6,188.0 124.2,188.5 124.8,190.4 125.4,189.1 126.0,190.0 126.7,190.5 127.3,188.1 127.9,190.0 128.6,188.6 128.7,188.8 128.8,190.3 128.9,189.9 129.0,191.6 129.1,190.8 129.2,191.8 129.3,193.6 129.4,192.7 129.5,194.7 129.6,195.2 129.7,195.7 129.8,195.4 129.9,196.1 130.0,197.3 130.1,197.6 130.2,198.2 130.3,198.8 130.4,199.4 130.5,200.0 131.1,200.0 131.8,200.0 132.4,200.0 133.0,200.0 133.1,199.4 133.2,198.8 133.2,198.2 133.3,197.6 133.4,196.8 133.5,196.8 133.5,195.4 133.6,195.3 133.7,193.9 133.8,194.3 133.8,192.6 133.9,193.5 134.0,191.4 134.1,192.1 134.1,190.4 134.2,190.8 134.3,188.7 134.4,190.0 134.4,189.6 134.5,186.4 134.6,186.0 134.7,187.6 134.7,184.6 134.8,184.0 134.9,184.8 135.2,186.0 135.6,185.3 135.9,187.0 136.3,185.4 136.7,186.8 137.0,188.0 137.7,189.4 138.3,187.9 139.0,188.6 139.5,187.0 140.0,188.4 140.5,187.0 141.0,187.0 141.5,188.7 142.0,187.5 142.5,188.6 142.5,189.5 142.6,189.4 142.6,190.8 142.7,190.6 142.7,192.2 142.8,191.6 142.8,193.5 142.8,193.8 142.9,193.8 142.9,194.8 143.0,195.5 143.0,195.3 143.0,196.6 143.1,196.8 143.1,197.6 143.2,198.2 143.2,198.8 143.3,199.4 143.3,200.0 143.9,199.8 144.5,199.5 145.1,199.2 145.7,199.0 146.2,198.8 146.8,198.5 147.4,198.2 148.0,198.0 148.7,198.1 149.3,198.2 150.0,198.2 150.7,198.3 151.3,198.4 152.0,198.5 152.7,198.4 153.3,198.3 154.0,198.2 154.7,198.2 155.3,198.1 156.0,198.0 156.7,198.1 157.3,198.2 158.0,198.2 158.7,198.3 159.3,198.4 160.0,198.5 160.6,198.4 161.2,198.4 161.9,198.3 162.5,198.2 163.1,198.2 163.8,198.1 164.4,198.1 165.0,198.0 165.6,198.2 166.2,198.5 166.9,198.8 167.5,199.0 168.1,199.2 168.8,199.5 169.4,199.8 170.0,200.0 170.6,200.0 171.2,200.0 171.8,200.0 172.4,200.0 173.0,200.0 173.6,200.0 174.2,200.0 174.8,200.0 175.4,200.0 176.0,200.0 176.6,200.0 177.2,200.0 177.8,200.0 178.4,200.0 179.0,200.0 179.6,200.0 180.2,200.0 180.9,200.0 181.5,200.0 182.1,200.0 182.7,200.0 183.3,200.0 183.9,200.0 184.5,200.0 185.1,200.0 185.7,200.0 186.3,200.0 186.9,200.0 187.5,200.0 188.1,200.0 188.7,200.0 189.3,200.0 189.9,200.0 190.5,200.0 191.1,200.0 191.7,200.0 192.3,200.0 192.9,200.0 193.5,200.0 194.1,200.0 194.7,200.0 195.3,200.0 195.9,200.0 196.5,200.0 197.1,200.0 197.7,200.0 198.3,200.0 198.9,200.0 199.5,200.0 200.1,200.0 200.8,200.0 201.4,200.0 202.0,200.0 202.6,200.0 203.2,200.0 203.8,200.0 204.4,200.0 205.0,200.0 205.6,200.0 206.2,200.0 206.8,200.0 207.4,200.0 208.0,200.0 208.6,200.0 209.2,200.0 209.8,200.0 210.4,200.0 211.0,200.0 211.5,199.7 212.0,199.3 212.5,199.0 213.0,199.3 213.5,199.7 214.0,200.0 214.6,200.0 215.2,200.0 215.8,200.0 216.4,200.0 217.0,200.0 217.6,200.0 218.2,200.0 218.9,200.0 219.5,200.0 220.1,200.0 220.7,200.0 221.3,200.0 221.9,200.0 222.5,200.0 223.1,200.0 223.7,200.0 224.3,200.0 224.9,200.0 225.5,200.0 226.1,200.0 226.7,200.0 227.3,200.0 228.0,200.0 228.6,200.0 229.2,200.0 229.8,200.0 230.4,200.0 231.0,200.0 231.6,200.0 232.2,200.0 232.8,200.0 233.4,200.0 234.0,200.0 234.6,200.0 235.2,200.0 235.8,200.0 236.4,200.0 237.0,200.0 237.7,200.0 238.3,200.0 238.9,200.0 239.5,200.0 240.1,200.0 240.7,200.0 241.3,200.0 241.9,200.0 242.5,200.0 243.1,200.0 243.7,200.0 244.3,200.0 244.9,200.0 245.5,200.0 246.1,200.0 246.8,200.0 247.4,200.0 248.0,200.0 248.6,200.0 249.2,200.0 249.8,200.0 250.4,200.0 251.0,200.0" fill="none" stroke="#000" stroke-width="0.85" stroke-linejoin="round"/>
<polyline points="34.5,200.0 35.0,199.2 35.5,198.4 36.0,197.6 36.5,196.7 37.0,196.0 37.6,195.3 38.2,194.1 38.9,193.4 39.5,192.3 40.8,192.1 42.0,192.3 42.4,193.4 42.9,193.9 43.3,194.8 44.1,193.8 45.0,193.4 45.8,192.3 46.2,193.1 46.6,194.2 47.0,194.7 47.5,195.8 47.9,196.5 48.3,197.4 49.2,197.4 50.1,197.4 51.1,197.4 52.0,197.4 52.8,196.9 53.7,196.5 54.5,196.2 55.3,195.6 56.2,195.4 57.0,194.8 57.8,195.4 58.5,196.0 59.2,196.8 60.0,197.4 60.7,198.1 61.4,198.7 62.0,199.3 62.7,200.0 62.9,199.1 63.0,198.2 63.2,197.3 63.4,196.2 63.5,195.5 63.7,194.6 63.8,193.6 64.0,192.8 64.2,191.7 64.3,191.2 64.5,190.0 64.7,188.7 64.9,188.3 65.1,186.9 65.2,186.2 65.4,185.6 65.6,183.8 65.8,183.0 66.9,183.0 68.0,182.0 68.5,182.3 69.0,183.3 69.5,184.9 70.0,185.5 70.6,185.9 71.1,187.3 71.6,187.5 72.1,188.6 72.7,187.9 73.3,187.2 73.9,185.4 74.5,185.0 74.6,186.2 74.7,186.7 74.8,188.0 74.9,188.9 75.0,189.4 75.1,190.5 75.2,191.7 75.2,192.3 75.3,193.2 75.4,194.6 75.5,195.2 75.6,196.2 75.7,197.2 75.8,198.1 75.9,199.1 76.0,200.0 77.2,200.0 78.5,200.0 78.6,199.1 78.7,198.2 78.8,197.3 78.8,196.5 78.9,195.6 79.0,194.4 79.1,193.8 79.2,192.7 79.3,192.1 79.3,190.9 79.4,190.4 79.5,188.8 79.6,188.5 79.7,187.2 79.8,186.7 79.9,185.4 79.9,184.9 80.0,183.3 80.1,183.6 80.2,182.0 80.8,182.4 81.3,183.9 81.9,184.0 82.4,184.7 83.0,186.0 84.0,186.2 85.0,185.9 86.0,184.7 87.0,185.0 87.1,186.5 87.2,187.3 87.3,187.9 87.4,188.5 87.5,189.9 87.6,190.5 87.7,191.8 87.8,192.3 87.8,193.7 87.9,194.2 88.0,195.4 88.1,196.3 88.2,197.2 88.3,198.1 88.4,199.1 88.5,200.0 89.8,200.0 91.0,200.0 91.1,199.1 91.2,198.1 91.3,197.2 91.4,196.4 91.5,195.5 91.6,194.3 91.7,193.7 91.8,192.4 91.9,191.3 92.0,191.0 92.1,189.4 92.2,189.2 92.3,187.6 92.4,187.4 92.5,186.0 93.7,185.6 94.8,185.7 96.0,186.0 97.0,186.1 98.0,186.3 99.0,185.7 100.0,186.0 100.1,187.1 100.3,187.7 100.4,188.6 100.5,190.1 100.7,190.6 100.8,191.9 100.9,192.3 101.1,193.6 101.2,194.2 101.3,195.4 101.5,196.2 101.6,197.2 101.7,198.1 101.9,199.1 102.0,200.0 103.2,200.0 104.3,200.0 105.5,200.0 105.6,199.1 105.7,198.2 105.8,197.2 105.9,196.4 106.0,195.2 106.1,194.6 106.1,193.7 106.2,192.4 106.3,192.0 106.4,190.4 106.5,190.0 106.6,188.6 106.7,188.3 106.8,186.6 106.9,186.6 107.0,184.9 107.1,184.5 107.2,182.8 107.3,182.8 107.3,181.0 107.4,181.0 107.5,180.2 107.6,178.0 107.7,177.4 107.8,177.3 107.9,176.0 108.4,177.1 108.9,176.9 109.5,179.3 110.0,178.9 110.5,180.4 111.0,181.0 112.0,180.8 113.0,182.1 114.0,181.1 115.0,182.0 115.1,182.6 115.2,184.0 115.2,184.2 115.3,186.0 115.4,186.0 115.5,187.8 115.5,187.9 115.6,189.5 115.7,189.7 115.8,191.2 115.8,191.7 115.9,193.0 116.0,193.8 116.0,194.7 116.1,195.4 116.2,196.3 116.3,197.3 116.3,198.2 116.4,199.1 116.5,200.0 118.0,200.0 118.2,199.1 118.3,198.2 118.5,197.2 118.7,196.4 118.8,195.4 119.0,194.6 119.2,193.5 119.3,192.9 119.5,192.1 119.7,190.7 119.8,189.7 120.0,189.0 121.0,189.6 122.0,189.1 123.0,190.1 124.0,190.0 125.0,189.6 126.0,190.3 127.0,189.8 128.0,190.0 128.2,191.0 128.5,191.9 128.7,192.5 128.9,193.7 129.1,194.5 129.4,195.6 129.6,196.3 129.8,197.3 130.0,198.2 130.3,199.1 130.5,200.0 131.8,200.0 133.0,200.0 133.1,199.1 133.3,198.1 133.4,197.2 133.5,196.2 133.7,195.5 133.8,194.2 133.9,193.4 134.1,192.4 134.2,191.9 134.3,190.5 134.5,190.1 134.6,188.5 134.7,188.3 134.9,187.4 135.0,186.0 135.8,186.3 136.5,187.7 137.2,188.1 138.0,189.0 139.0,188.5 140.0,188.7 141.0,188.0 142.0,188.0 142.1,188.8 142.2,190.0 142.3,191.0 142.4,191.4 142.5,192.8 142.6,193.4 142.7,194.6 142.8,195.3 142.9,196.4 143.0,197.2 143.1,198.2 143.2,199.1 143.3,200.0 144.7,200.0 146.0,200.0 146.5,199.2 147.1,198.3 147.6,197.5 148.1,196.7 148.6,197.5 149.1,198.3 149.5,199.2 150.0,200.0 151.0,199.8 152.0,199.6 153.0,199.4 154.0,199.2 155.0,199.0 155.5,198.2 156.0,197.5 156.5,196.6 157.0,196.0 157.5,196.6 158.0,197.5 158.5,198.2 159.0,199.0 160.0,198.7 161.0,198.3 162.0,198.0 162.9,197.1 163.8,196.0 164.2,196.9 164.7,198.0 165.1,199.0 165.5,200.0 166.4,200.0 167.3,200.0 168.2,200.0 169.1,200.0 170.0,200.0 170.9,200.0 171.8,200.0 172.7,200.0 173.6,200.0 174.5,200.0 175.4,200.0 176.3,200.0 177.2,200.0 178.1,200.0 179.0,200.0 179.9,200.0 180.8,200.0 181.8,200.0 182.7,200.0 183.6,200.0 184.5,200.0 185.4,200.0 186.3,200.0 187.2,200.0 188.1,200.0 189.0,200.0 189.9,200.0 190.8,200.0 191.7,200.0 192.6,200.0 193.5,200.0 194.4,200.0 195.3,200.0 196.2,200.0 197.1,200.0 198.0,200.0 199.0,200.0 200.0,200.0 201.0,200.0 202.0,200.0 203.0,200.0 204.0,200.0 204.7,199.0 205.3,198.0 205.9,199.0 206.5,200.0 207.4,200.0 208.4,200.0 209.3,200.0 209.4,199.0 209.5,198.0 209.6,197.1 209.8,195.9 209.9,195.2 210.0,193.9 210.1,193.2 210.2,192.0 210.4,191.3 210.6,189.6 210.9,189.2 211.1,188.4 211.3,187.0 212.5,186.0 213.7,187.0 213.9,187.6 214.1,189.1 214.3,189.6 214.5,191.2 214.7,192.0 214.8,192.9 214.9,193.9 215.0,195.2 215.1,195.9 215.2,197.1 215.3,198.0 215.4,199.0 215.5,200.0 216.4,200.0 217.4,200.0 218.3,200.0 219.2,200.0 220.2,200.0 221.1,200.0 222.0,200.0 223.0,200.0 223.9,200.0 224.8,200.0 225.8,200.0 226.7,200.0 227.6,200.0 228.5,200.0 229.5,200.0 230.4,200.0 231.3,200.0 232.3,200.0 233.2,200.0 234.1,200.0 235.1,200.0 236.0,200.0 236.3,199.0 236.6,198.0 236.9,196.9 237.2,195.9 237.5,195.0 237.8,193.8 238.2,192.9 238.5,191.7 238.8,192.6 239.0,193.3 239.2,194.4 239.5,195.2 239.8,196.2 240.0,197.0 240.5,198.0 241.0,199.0 241.5,200.0 242.4,200.0 243.4,200.0 244.3,200.0 245.3,200.0 246.2,200.0 247.2,200.0 248.2,200.0 249.1,200.0 250.1,200.0 251.0,200.0" fill="none" stroke="#a0a0a0" stroke-width="1.25" stroke-linejoin="round"/>
<path d="M34.5,200.0 L35.1,199.0 L37.0,192.0 L38.9,189.8 L41.0,188.5 L43.3,187.3 L46.0,190.0 L48.3,192.3 L50.8,188.6 L53.3,193.6 L55.0,192.3 L57.7,188.0 L60.8,192.3 L61.6,199.0 L62.7,199.0 L63.3,195.0 L65.8,181.0 L68.3,179.2 L72.1,182.3 L74.0,185.4 L76.5,197.4 L78.4,197.0 L80.2,178.0 L83.4,184.2 L86.0,181.7 L87.1,183.0 L88.5,186.0 L89.3,200.0 L91.0,200.0 L92.9,183.6 L96.0,181.0 L98.0,183.0 L101.0,181.7 L102.3,199.2 L105.0,199.2 L105.4,195.0 L107.9,176.7 L111.0,181.0 L115.4,184.8 L116.7,199.0 L117.3,196.0 L119.8,186.0 L121.0,189.2 L122.3,188.0 L124.2,192.3 L126.1,194.8 L128.6,192.3 L131.1,199.2 L133.0,197.0 L135.5,188.0 L138.6,189.8 L141.0,188.6 L142.5,189.2 L143.1,200.0 L145.0,199.2 L148.0,196.0 L150.0,194.0 L151.9,193.6 L154.4,198.6 L157.5,194.2 L160.0,196.7 L162.5,195.0 L165.0,192.3 L168.2,195.5 L170.0,194.8 L171.3,195.5 L173.0,199.0 L175.0,199.5 L177.0,196.7 L179.0,199.5 L181.0,199.5 L182.6,197.4 L184.5,198.0 L186.4,193.0 L188.0,197.0 L189.5,200.0 M193.0,200.0 L195.3,196.7 L197.0,199.0 L198.4,193.6 L199.5,199.0 L201.0,200.0 M210.0,200.0 L212.5,196.0 L214.0,200.0 M220.0,200.0 L221.6,196.0 L223.0,200.0 L225.5,199.0 L227.2,192.3 L229.0,193.6 L231.0,197.0 L233.5,196.7 L235.0,200.0 M239.0,200.0 L240.4,198.6 L242.0,200.0 M250.0,200.0 L251.0,198.6" fill="none" stroke="#1010fc" stroke-width="1.05" stroke-linejoin="round"/>
<line x1="34.5" y1="160.0" x2="34.5" y2="200.6" stroke="#000" stroke-width="1"/>
<text x="0" y="0" font-size="8.3" text-anchor="middle" transform="translate(28.8,180.6) rotate(-90)">FCU</text>
<text x="254.7" y="190.5" font-size="8.5" font-weight="bold" fill="#1010fc" color="#1010fc">0.68</text>
<text x="254.7" y="200.6" font-size="8.5" fill="#8c8c8c" color="#8c8c8c">0.72</text>
<line x1="61.6" y1="208.8" x2="61.6" y2="248.1" stroke="#111" stroke-width="1" stroke-dasharray="2.1,0.9"/>
<line x1="88.7" y1="208.8" x2="88.7" y2="248.1" stroke="#111" stroke-width="1" stroke-dasharray="2.1,0.9"/>
<line x1="116.0" y1="208.8" x2="116.0" y2="248.1" stroke="#111" stroke-width="1" stroke-dasharray="2.1,0.9"/>
<line x1="143.2" y1="208.8" x2="143.2" y2="248.1" stroke="#111" stroke-width="1" stroke-dasharray="2.1,0.9"/>
<line x1="170.4" y1="208.8" x2="170.4" y2="248.1" stroke="#111" stroke-width="1" stroke-dasharray="2.1,0.9"/>
<line x1="197.6" y1="208.8" x2="197.6" y2="248.1" stroke="#111" stroke-width="1" stroke-dasharray="2.1,0.9"/>
<line x1="224.5" y1="208.8" x2="224.5" y2="248.1" stroke="#111" stroke-width="1" stroke-dasharray="2.1,0.9"/>
<line x1="251.4" y1="208.8" x2="251.4" y2="248.1" stroke="#111" stroke-width="1" stroke-dasharray="2.1,0.9"/>
<polyline points="34.5,248.0 35.1,247.7 35.7,247.3 36.2,247.0 36.8,246.7 37.4,246.3 38.0,246.0 38.7,246.2 39.3,246.3 40.0,246.5 40.7,246.7 41.3,246.8 42.0,247.0 42.6,247.0 43.2,246.9 43.8,246.9 44.5,246.8 45.1,246.8 45.7,246.8 46.3,246.7 46.9,246.7 47.5,246.7 48.2,246.6 48.8,246.6 49.4,246.5 50.0,246.5 50.6,246.6 51.2,246.8 51.9,246.9 52.5,247.0 53.1,247.1 53.8,247.2 54.4,247.4 55.0,247.5 55.6,247.5 56.3,247.4 56.9,247.4 57.5,247.3 58.2,247.3 58.8,247.2 59.4,247.2 60.1,247.2 60.7,247.1 61.3,247.1 62.0,247.0 62.6,247.0 62.9,246.4 63.2,245.8 63.4,245.2 63.7,244.3 64.0,244.0 64.1,243.9 64.2,242.2 64.3,242.6 64.4,242.2 64.5,241.2 64.6,240.0 64.7,240.5 64.8,238.8 64.9,239.7 65.0,238.0 65.2,238.3 65.3,239.7 65.5,239.7 65.7,241.5 65.8,241.0 66.0,242.0 66.1,240.7 66.2,241.6 66.4,239.4 66.5,240.5 66.6,237.8 66.8,237.7 66.9,238.0 67.0,237.0 67.1,237.3 67.2,239.0 67.3,238.0 67.4,239.9 67.5,240.6 67.6,240.1 67.7,241.4 67.8,242.0 67.9,241.8 68.0,243.0 68.2,242.9 68.3,241.2 68.5,241.2 68.7,239.4 68.8,240.5 69.0,239.0 69.1,240.6 69.2,239.7 69.3,241.5 69.4,240.8 69.5,242.6 69.6,242.0 69.7,243.5 69.8,243.3 69.9,244.8 70.0,245.0 70.1,244.2 70.2,243.9 70.4,242.9 70.5,243.2 70.6,241.7 70.8,240.7 70.9,241.0 71.0,240.0 71.1,239.8 71.2,241.6 71.3,241.1 71.4,242.8 71.5,243.2 71.6,243.1 71.7,244.6 71.8,244.6 71.9,245.4 72.0,246.0 72.1,245.4 72.2,245.1 72.4,243.9 72.5,243.0 72.6,242.5 72.8,242.8 72.9,241.3 73.0,241.0 73.2,241.9 73.3,241.6 73.5,242.6 73.7,243.9 73.8,244.1 74.0,245.0 74.2,244.8 74.4,243.4 74.6,243.6 74.8,242.1 75.0,242.0 75.1,243.1 75.3,242.9 75.4,244.3 75.6,244.2 75.7,245.2 75.9,245.9 76.0,246.5 76.2,245.9 76.3,245.3 76.5,245.0 76.7,243.9 76.8,244.0 77.0,243.0 77.2,243.1 77.4,244.6 77.6,244.5 77.8,245.4 78.0,246.0 78.1,245.4 78.2,245.1 78.3,243.8 78.4,243.2 78.5,242.4 78.6,242.8 78.7,241.1 78.8,240.7 78.9,241.3 79.0,240.0 79.2,239.0 79.3,239.4 79.5,237.3 79.7,238.4 79.8,235.6 80.0,236.0 80.2,235.9 80.4,233.6 80.5,235.3 80.7,233.0 80.9,232.8 81.0,234.1 81.0,233.5 81.1,235.2 81.2,234.8 81.2,236.5 81.3,235.5 81.4,238.2 81.4,236.9 81.5,238.8 81.6,237.8 81.6,239.6 81.7,240.0 81.8,240.4 82.0,241.7 82.1,241.3 82.2,242.3 82.4,242.9 82.5,244.0 82.7,243.6 82.9,242.4 83.1,241.5 83.3,242.0 83.5,241.0 83.7,241.8 83.8,241.7 84.0,243.0 84.1,242.9 84.3,244.0 84.4,243.7 84.5,242.5 84.5,241.8 84.6,240.9 84.7,241.3 84.8,241.0 84.9,239.3 84.9,238.6 85.0,239.3 85.1,238.0 85.3,236.4 85.5,237.2 85.7,234.7 85.9,235.3 86.0,236.8 86.1,235.3 86.2,237.7 86.3,237.4 86.4,238.0 86.5,239.7 86.6,239.0 86.7,240.6 86.8,241.0 87.0,240.0 87.1,240.3 87.3,238.5 87.4,239.2 87.6,238.0 87.7,237.8 87.8,239.6 87.8,238.9 87.9,239.8 88.0,241.7 88.1,241.1 88.2,242.7 88.2,242.2 88.3,243.7 88.4,244.0 88.5,244.8 88.6,245.3 88.7,246.0 88.8,246.7 88.9,247.3 89.0,248.0 89.7,248.0 90.3,248.0 90.9,248.0 91.6,248.0 91.6,247.4 91.7,246.8 91.7,246.2 91.8,245.6 91.8,244.7 91.9,244.8 91.9,243.5 92.0,243.7 92.0,242.8 92.0,241.5 92.1,241.8 92.1,240.2 92.2,240.0 92.2,240.5 92.3,238.2 92.3,239.3 92.4,239.0 92.4,236.9 92.4,236.1 92.5,237.4 92.5,234.9 92.6,236.3 92.6,233.1 92.7,234.2 92.7,232.6 92.7,233.3 92.8,231.3 92.8,232.8 92.9,231.2 92.9,229.0 93.0,230.7 93.0,230.0 93.1,226.4 93.1,229.3 93.1,224.6 93.2,228.2 93.2,224.1 93.3,227.4 93.3,223.7 93.4,225.4 93.4,222.4 93.5,225.0 93.5,222.2 93.6,220.6 93.8,224.3 93.9,223.0 94.1,223.1 94.2,227.6 94.4,223.9 94.5,226.6 94.7,226.8 95.0,227.4 95.2,223.9 95.4,222.0 95.7,222.6 95.9,224.3 96.1,220.8 96.4,223.1 96.6,221.0 96.8,220.7 97.0,220.1 97.2,221.2 97.4,221.7 97.5,226.0 97.7,223.3 97.9,226.0 98.1,225.3 98.3,225.1 98.5,227.2 99.2,227.5 99.8,224.5 100.5,226.6 100.7,228.6 100.9,227.2 101.2,229.2 101.4,227.9 101.6,229.7 101.6,229.6 101.6,231.8 101.7,230.7 101.7,233.3 101.7,231.0 101.7,235.0 101.8,232.7 101.8,236.1 101.8,234.1 101.8,236.9 101.9,235.9 101.9,237.3 101.9,237.3 101.9,239.4 101.9,238.4 102.0,239.9 102.0,239.3 102.0,241.0 102.0,240.5 102.1,242.3 102.1,242.6 102.1,242.6 102.1,243.9 102.2,243.9 102.2,245.1 102.2,245.6 102.2,246.2 102.3,246.8 102.3,247.4 102.3,248.0 102.9,248.0 103.5,248.0 104.2,248.0 104.8,248.0 105.4,248.0 106.0,248.0 106.0,247.4 106.0,246.8 106.1,246.2 106.1,245.6 106.1,244.9 106.1,244.1 106.2,243.7 106.2,243.3 106.2,242.4 106.2,242.4 106.3,241.2 106.3,241.7 106.3,239.6 106.3,240.2 106.4,238.5 106.4,239.1 106.4,238.6 106.4,237.7 106.5,235.7 106.5,237.0 106.5,234.3 106.5,236.3 106.6,233.3 106.6,232.9 106.6,233.8 106.6,230.9 106.7,230.9 106.7,231.7 106.7,230.0 106.7,231.4 106.8,228.8 106.8,229.4 106.8,227.2 106.8,228.3 106.8,225.9 106.9,228.1 106.9,227.7 106.9,223.4 106.9,227.0 107.0,221.2 107.0,225.7 107.0,220.3 107.0,223.1 107.1,220.6 107.1,223.2 107.1,219.6 107.1,221.7 107.2,218.5 107.2,220.1 107.2,220.9 107.2,216.2 107.3,218.3 107.3,215.6 107.3,218.2 107.3,214.2 107.4,215.4 107.4,212.1 107.4,210.7 107.4,214.0 107.5,213.7 107.5,209.7 107.5,213.6 107.5,207.3 107.6,210.4 107.6,210.6 107.6,208.4 107.6,206.1 107.7,211.6 107.7,207.5 107.7,211.9 107.8,210.4 107.8,213.5 107.8,211.5 107.9,214.5 107.9,216.5 107.9,216.6 108.0,214.1 108.0,213.9 108.0,217.3 108.1,214.6 108.1,216.4 108.2,219.5 108.2,216.0 108.2,221.8 108.3,219.3 108.3,222.5 108.3,219.6 108.4,222.4 108.4,220.8 108.4,225.3 108.5,220.7 108.5,221.5 108.5,226.8 108.6,223.1 108.6,226.0 109.0,227.3 109.4,223.2 109.8,225.1 110.2,222.5 110.6,225.7 111.0,222.8 111.2,222.1 111.3,222.8 111.5,225.4 111.7,223.3 111.8,223.5 112.0,228.8 112.2,225.4 112.3,229.3 112.5,229.3 112.7,230.5 112.8,229.2 113.0,230.3 113.6,231.3 114.2,229.1 114.8,229.9 115.4,231.6 115.4,232.8 115.5,231.6 115.5,234.3 115.5,234.7 115.5,234.0 115.6,236.7 115.6,234.8 115.6,237.0 115.7,236.2 115.7,236.5 115.7,238.9 115.8,238.2 115.8,239.0 115.8,240.8 115.8,241.0 115.9,241.1 115.9,242.4 115.9,242.3 116.0,243.6 116.0,243.3 116.0,244.6 116.1,245.3 116.1,245.6 116.1,246.2 116.1,246.8 116.2,247.4 116.2,248.0 117.1,248.0 118.0,248.0 118.1,247.4 118.2,246.8 118.3,246.2 118.4,245.6 118.4,244.7 118.5,244.8 118.6,243.4 118.7,242.9 118.8,242.8 118.9,241.8 119.0,242.0 119.1,240.1 119.1,241.0 119.2,240.4 119.3,240.1 119.4,237.3 119.5,238.1 119.6,236.7 119.7,237.4 119.8,234.8 119.8,236.2 119.9,234.0 120.0,235.3 120.1,232.3 120.2,234.8 120.3,232.9 120.4,230.3 120.5,231.8 120.6,229.6 120.6,232.0 120.7,228.4 120.8,230.6 120.9,226.6 121.0,228.8 121.1,228.6 121.2,225.0 121.3,227.8 121.3,224.1 121.4,226.2 121.5,225.8 121.6,220.6 121.7,222.8 121.9,223.7 122.1,222.3 122.3,219.6 122.5,221.7 122.7,218.4 123.0,220.1 123.2,215.8 123.4,219.9 123.6,216.4 123.8,214.8 124.0,217.2 124.2,215.9 124.3,214.1 124.5,219.2 124.6,219.9 124.7,217.7 124.8,221.5 125.0,217.0 125.1,217.5 125.2,223.9 125.3,218.8 125.5,224.6 125.6,219.9 125.7,222.3 125.8,225.2 126.0,223.5 126.1,225.3 126.3,225.6 126.6,222.5 126.8,225.1 127.0,225.7 127.2,221.8 127.5,219.0 127.7,222.2 127.9,217.9 128.1,219.5 128.4,221.2 128.6,219.0 128.8,217.2 129.0,222.7 129.2,219.0 129.4,219.1 129.6,222.9 129.7,221.1 129.9,224.9 130.1,221.0 130.3,226.3 130.5,225.0 130.5,223.9 130.6,227.0 130.6,224.9 130.6,229.4 130.7,226.6 130.7,230.6 130.7,227.9 130.8,231.0 130.8,230.0 130.8,232.2 130.8,229.8 130.9,233.4 130.9,231.1 130.9,231.7 131.0,234.6 131.0,235.1 131.0,234.1 131.1,236.6 131.1,237.1 131.1,236.0 131.2,238.3 131.2,237.5 131.2,239.5 131.3,239.2 131.3,240.4 131.3,241.1 131.4,240.7 131.4,242.2 131.4,243.0 131.4,242.7 131.5,244.0 131.5,244.6 131.5,245.1 131.6,245.6 131.6,246.2 131.6,246.8 131.7,247.4 131.7,248.0 132.3,248.0 133.0,248.0 133.6,248.0 133.6,247.4 133.7,246.8 133.7,246.2 133.8,245.6 133.8,244.9 133.8,244.6 133.9,243.6 133.9,242.8 134.0,242.4 134.0,242.1 134.1,240.7 134.1,241.0 134.1,240.4 134.2,238.7 134.2,239.2 134.3,237.4 134.3,236.7 134.3,238.0 134.4,236.9 134.4,235.2 134.5,235.5 134.5,233.6 134.6,233.0 134.6,234.1 134.6,231.0 134.7,232.7 134.7,231.1 134.8,232.4 134.8,229.6 134.8,231.1 134.9,227.9 134.9,230.7 135.0,226.9 135.0,228.9 135.1,228.4 135.1,224.7 135.1,227.8 135.2,224.1 135.2,225.7 135.3,224.9 135.3,220.9 135.3,221.6 135.4,223.2 135.4,219.1 135.5,218.6 135.5,222.9 135.6,217.3 135.6,220.0 135.6,216.8 135.7,218.3 135.7,215.4 135.8,215.6 135.8,216.8 135.8,217.6 135.9,216.4 135.9,212.3 136.0,214.0 136.0,211.4 136.1,213.9 136.1,211.5 136.4,214.9 136.6,211.7 136.9,214.0 137.2,212.9 137.5,212.3 137.7,216.0 138.0,215.3 138.2,213.0 138.5,217.7 138.7,214.4 138.9,219.9 139.2,219.8 139.4,220.9 139.7,218.9 139.9,220.3 140.2,219.2 140.5,224.3 140.9,220.3 141.2,225.2 141.5,221.7 141.8,224.0 142.1,226.6 142.4,224.3 142.7,228.0 143.0,226.6 143.0,224.7 143.0,228.6 143.0,227.1 143.0,231.1 143.0,228.0 143.0,231.7 143.0,229.9 143.0,233.0 143.1,230.5 143.1,234.0 143.1,232.3 143.1,232.3 143.1,235.3 143.1,235.6 143.1,235.0 143.1,236.0 143.1,238.1 143.1,237.4 143.1,237.7 143.1,238.0 143.1,240.3 143.1,239.6 143.1,241.2 143.1,240.7 143.1,242.1 143.1,242.4 143.2,243.6 143.2,243.8 143.2,244.1 143.2,245.1 143.2,245.6 143.2,246.2 143.2,246.8 143.2,247.4 143.2,248.0 143.9,248.0 144.6,248.0 145.3,248.0 146.0,248.0 146.0,247.4 146.1,246.8 146.1,246.2 146.2,245.6 146.2,245.3 146.3,243.9 146.3,244.0 146.4,242.9 146.4,242.6 146.4,241.4 146.5,241.8 146.5,240.3 146.6,240.5 146.6,238.6 146.7,239.7 146.7,237.7 146.8,237.2 146.8,237.3 146.8,236.0 146.9,236.6 146.9,236.1 147.0,234.2 147.0,235.3 147.1,231.8 147.1,234.1 147.1,233.4 147.2,229.7 147.2,230.1 147.3,231.3 147.3,228.5 147.4,229.9 147.4,227.1 147.5,229.7 147.5,227.2 147.6,227.0 147.8,226.3 147.9,229.9 148.0,228.5 148.1,230.8 148.3,229.3 148.4,233.3 148.5,230.7 148.6,231.1 148.8,234.4 148.9,232.9 149.0,233.5 149.1,235.9 149.3,235.4 149.4,236.6 149.8,237.3 150.2,234.6 150.5,234.3 150.9,235.6 151.3,234.0 151.7,234.0 152.1,235.4 152.6,234.8 153.0,236.4 153.4,235.3 153.8,237.2 154.2,237.2 154.7,238.0 155.1,239.1 155.6,238.7 156.0,240.0 156.1,241.1 156.2,241.7 156.2,242.4 156.3,242.2 156.4,243.4 156.5,243.9 156.5,243.9 156.6,245.2 156.7,245.5 156.8,246.2 156.8,246.8 156.9,247.4 157.0,248.0 157.6,248.0 158.2,248.0 158.8,248.0 159.4,248.0 160.0,248.0 160.1,247.4 160.3,246.8 160.4,246.2 160.5,245.6 160.7,244.7 160.8,244.5 161.0,243.5 161.1,243.7 161.2,242.3 161.4,242.2 161.5,241.2 161.6,241.6 161.8,240.0 161.9,240.2 162.1,238.6 162.2,239.1 162.3,236.9 162.5,237.8 162.6,236.6 162.9,235.3 163.2,234.6 163.5,235.4 163.8,234.0 164.2,235.0 164.5,234.5 164.9,236.5 165.2,234.9 165.6,237.7 165.9,236.1 166.3,237.8 166.9,238.5 167.5,237.7 168.2,237.8 168.8,239.4 169.4,239.6 170.0,239.1 170.0,239.0 170.1,240.9 170.1,240.7 170.1,242.3 170.2,241.9 170.2,243.3 170.2,243.2 170.3,244.3 170.3,244.5 170.4,245.5 170.4,246.1 170.4,246.7 170.5,247.4 170.5,248.0 170.8,247.4 171.1,246.9 171.4,246.3 171.7,245.8 172.0,245.2 172.3,244.6 172.6,244.1 173.2,244.2 173.8,243.2 174.4,243.6 175.0,243.0 175.5,243.1 176.0,244.0 176.5,244.4 177.0,243.9 177.5,244.9 178.0,245.0 178.7,244.6 179.3,245.1 180.0,244.2 180.7,244.0 181.3,244.7 182.0,244.1 182.6,244.5 183.1,244.3 183.7,245.1 184.3,245.2 184.9,245.5 185.4,245.7 186.0,246.0 186.4,245.4 186.7,244.7 187.1,244.1 187.4,244.2 187.8,242.8 188.2,243.0 188.5,241.5 188.9,241.6 189.4,242.3 189.9,242.0 190.4,243.4 191.0,243.0 191.5,244.0 192.0,244.1 192.6,243.6 193.2,244.4 193.9,243.8 194.5,244.3 195.1,244.5 195.8,243.8 196.4,244.2 197.0,244.1 197.2,244.4 197.3,245.4 197.5,246.1 197.7,246.7 197.8,247.3 198.0,248.0 198.5,247.5 199.0,247.0 199.5,246.5 200.0,246.0 200.6,246.1 201.2,246.2 201.9,246.4 202.5,246.5 203.1,246.6 203.8,246.8 204.4,246.9 205.0,247.0 205.6,246.9 206.2,246.9 206.8,246.8 207.4,246.7 208.0,246.6 208.6,246.6 209.2,246.5 209.8,246.4 210.4,246.4 211.0,246.3 211.6,246.2 212.2,246.1 212.8,246.1 213.4,246.0 213.8,246.5 214.2,247.0 214.6,247.5 215.0,248.0 215.6,247.9 216.2,247.7 216.8,247.6 217.4,247.5 218.0,247.3 218.6,247.2 219.2,247.1 219.8,246.9 220.4,246.8 221.0,246.7 221.6,246.5 222.2,246.4 222.8,246.3 223.4,246.1 224.0,246.0 224.7,246.0 225.3,246.0 226.0,246.0 226.5,246.5 227.0,247.0 227.5,247.5 228.0,248.0 228.3,247.4 228.6,246.9 228.9,246.3 229.1,245.8 229.4,245.2 229.7,244.8 230.0,244.1 230.6,244.4 231.2,244.6 231.8,245.2 232.4,245.6 233.0,246.0 233.6,246.0 234.2,246.0 234.8,246.0 235.4,246.0 236.0,246.0 236.6,246.0 237.2,246.0 237.8,246.0 238.4,246.0 239.0,246.0 239.5,246.5 240.0,247.0 240.5,247.5 241.0,248.0 241.6,248.0 242.2,248.0 242.9,248.0 243.5,248.0 244.1,248.0 244.8,248.0 245.4,248.0 246.0,248.0 246.6,248.0 247.2,248.0 247.9,248.0 248.5,248.0 249.1,248.0 249.8,248.0 250.4,248.0 251.0,248.0" fill="none" stroke="#000" stroke-width="0.85" stroke-linejoin="round"/>
<polyline points="34.5,248.0 35.4,247.8 36.3,247.7 37.2,247.5 38.2,247.3 39.1,247.2 40.0,247.0 41.0,246.6 42.0,246.2 43.0,245.8 44.0,245.4 45.0,245.0 45.5,244.2 46.0,243.2 46.5,242.4 47.0,241.6 48.2,241.4 49.5,241.6 49.9,242.2 50.2,243.4 50.6,244.1 51.0,245.0 52.0,245.0 53.0,245.1 54.0,245.0 55.0,244.9 56.0,245.0 57.1,244.9 58.3,244.7 59.5,244.7 60.8,244.7 61.2,245.8 61.6,247.0 61.6,246.1 61.6,245.2 61.7,244.3 61.7,243.1 61.7,242.5 61.8,241.7 61.8,240.2 61.8,239.7 61.8,238.3 61.9,238.1 61.9,236.6 61.9,235.8 61.9,235.1 62.0,233.6 62.0,233.4 62.0,232.2 62.0,232.9 62.1,233.8 62.1,235.2 62.1,236.1 62.2,237.0 62.2,237.6 62.3,238.4 62.3,239.7 62.3,240.4 62.4,241.2 62.4,242.5 62.5,243.1 62.5,244.2 62.5,245.2 62.6,246.1 62.6,247.0 63.6,246.7 64.5,246.3 65.5,246.0 65.6,245.1 65.8,244.0 65.9,242.8 66.1,242.1 66.2,240.8 66.4,240.1 66.5,239.0 67.8,238.4 69.0,238.0 69.6,239.0 70.2,239.3 70.9,240.4 71.5,240.8 72.1,241.6 73.1,241.5 74.0,241.6 75.0,242.0 75.8,242.7 76.5,242.9 77.2,243.6 78.0,244.0 78.8,243.1 79.5,242.7 80.2,241.6 81.0,241.0 82.0,241.5 83.0,241.5 84.0,242.0 85.0,242.3 86.0,242.7 87.0,242.6 88.0,243.0 88.2,244.1 88.4,245.0 88.6,246.0 88.8,247.0 89.0,248.0 90.3,248.0 91.6,248.0 91.7,247.1 91.8,246.2 91.9,245.3 92.0,244.3 92.1,243.6 92.1,242.4 92.2,241.9 92.3,240.5 92.4,240.1 92.5,239.2 92.6,237.8 92.7,237.4 92.8,235.9 92.9,235.5 93.0,234.1 93.0,234.0 93.1,232.3 93.2,231.1 93.3,231.2 93.4,229.7 93.5,229.0 94.7,229.8 95.8,228.3 97.0,229.0 98.0,229.6 99.0,228.5 100.0,229.6 101.0,229.0 101.1,229.3 101.1,231.4 101.2,231.5 101.2,232.5 101.3,233.8 101.4,234.7 101.4,235.0 101.5,236.5 101.6,236.8 101.6,238.3 101.7,239.3 101.7,239.5 101.8,240.9 101.9,241.8 101.9,242.4 102.0,243.6 102.1,244.3 102.1,245.3 102.2,246.2 102.2,247.1 102.3,248.0 103.2,248.0 104.2,248.0 105.1,248.0 106.0,248.0 106.1,247.1 106.2,246.1 106.2,245.2 106.3,244.4 106.4,243.2 106.5,242.6 106.6,241.4 106.7,240.4 106.7,240.0 106.8,238.5 106.9,237.9 107.0,236.6 107.1,236.3 107.2,234.7 107.2,233.7 107.3,233.6 107.4,232.4 107.5,231.8 107.6,229.9 107.7,229.2 107.7,228.8 107.8,226.7 107.9,226.6 108.3,226.9 108.7,228.8 109.2,228.7 109.6,229.6 110.0,231.0 110.8,232.0 111.5,231.5 112.2,232.0 113.0,233.0 114.0,233.3 115.0,233.3 116.0,233.0 116.0,233.8 116.1,235.1 116.1,235.6 116.1,236.9 116.2,237.4 116.2,238.8 116.2,239.4 116.2,240.6 116.3,241.7 116.3,242.2 116.3,243.5 116.4,244.2 116.4,245.2 116.4,246.1 116.5,247.1 116.5,248.0 118.0,248.0 118.1,247.1 118.3,246.2 118.4,245.3 118.5,244.5 118.7,243.4 118.8,242.5 118.9,241.8 119.1,240.6 119.2,240.1 119.3,238.8 119.5,238.4 119.6,237.4 119.7,235.9 119.8,235.0 120.0,234.8 120.1,233.1 120.2,232.9 120.4,231.6 120.5,231.4 120.6,230.4 120.8,228.7 120.9,228.0 121.0,227.7 121.2,227.2 121.3,225.7 121.4,224.3 121.6,224.5 121.7,222.8 122.8,222.1 124.0,223.0 124.9,223.6 125.8,222.5 126.8,223.9 127.7,223.8 128.6,222.8 128.8,224.4 129.1,224.3 129.3,225.8 129.6,227.2 129.8,226.5 130.0,228.9 130.3,228.8 130.5,230.0 130.6,231.6 130.6,231.4 130.7,233.0 130.7,233.2 130.8,235.0 130.8,235.0 130.8,236.6 130.9,236.8 130.9,238.0 131.0,239.1 131.1,239.7 131.1,240.9 131.2,241.5 131.2,242.8 131.2,243.3 131.3,244.3 131.3,245.3 131.4,246.2 131.4,247.1 131.5,248.0 132.6,248.0 133.6,248.0 133.7,247.1 133.8,246.2 133.8,245.3 133.9,244.5 134.0,243.5 134.1,242.5 134.2,241.9 134.3,240.5 134.3,240.2 134.4,238.9 134.5,238.4 134.6,236.8 134.7,236.8 134.8,235.3 134.8,235.1 134.9,233.5 135.0,233.4 135.1,231.7 135.2,231.1 135.3,229.5 135.3,229.8 135.4,227.6 135.5,228.0 135.6,225.7 135.7,225.1 135.8,225.3 135.8,223.2 135.9,223.9 136.0,222.0 136.6,222.3 137.2,222.8 137.8,225.0 138.4,224.8 139.0,226.0 139.4,227.6 139.9,227.4 140.3,228.8 140.7,229.0 141.1,230.7 141.6,230.8 142.0,232.0 142.1,232.7 142.1,234.3 142.2,235.1 142.3,235.6 142.4,237.2 142.4,237.3 142.5,238.8 142.6,239.2 142.6,240.3 142.7,241.6 142.8,242.1 142.8,243.4 142.9,244.1 143.0,245.2 143.1,246.1 143.1,247.1 143.2,248.0 144.1,248.0 145.1,248.0 146.0,248.0 146.2,247.1 146.3,246.2 146.5,245.3 146.7,244.3 146.8,243.5 147.0,242.5 147.2,241.7 147.3,241.1 147.5,240.2 147.6,239.1 147.8,238.0 148.0,236.9 148.1,236.8 148.3,235.3 148.5,234.2 148.6,233.2 148.8,232.8 149.4,234.1 150.0,234.2 150.7,235.5 151.3,235.3 151.9,236.6 152.5,237.2 153.3,237.5 154.0,238.8 154.8,238.8 155.5,239.5 156.3,240.3 156.5,241.4 156.6,242.1 156.8,243.1 156.9,244.3 157.1,245.1 157.2,246.1 157.3,247.0 157.5,248.0 158.8,248.0 160.0,248.0 160.2,247.1 160.4,246.2 160.6,245.3 160.8,244.3 160.9,243.7 161.1,242.4 161.3,241.9 161.5,240.7 161.7,240.2 161.9,238.9 162.1,238.3 162.3,237.1 162.4,236.8 162.6,235.2 162.8,234.3 163.0,234.1 163.2,232.8 163.8,233.3 164.3,234.7 164.9,235.1 165.4,236.4 166.0,237.0 166.8,237.6 167.5,238.7 168.2,239.1 169.0,240.0 169.1,241.1 169.3,241.9 169.4,242.5 169.6,243.4 169.7,244.4 169.9,245.3 170.0,246.2 170.2,247.1 170.3,248.0 170.9,247.0 171.4,246.0 172.0,245.0 172.5,244.3 173.0,243.3 173.5,242.7 174.0,242.0 174.5,240.8 175.0,240.3 176.0,240.5 177.0,240.1 178.0,240.3 178.5,241.4 179.0,241.9 179.5,243.2 180.0,244.0 181.0,243.7 182.0,243.5 183.0,243.6 184.0,243.1 185.0,243.0 185.7,242.1 186.3,241.9 187.0,240.9 187.7,240.3 188.3,239.9 189.0,239.1 189.6,239.6 190.2,240.8 190.8,241.5 191.4,242.0 192.0,243.0 193.0,243.2 194.0,243.8 195.0,244.1 196.0,244.7 197.0,245.0 197.3,246.0 197.7,247.0 198.0,248.0 199.0,248.0 200.0,248.0 201.0,248.0 202.0,248.0 203.0,248.0 204.0,248.0 205.0,248.0 206.1,248.0 207.2,248.0 208.2,248.0 209.3,248.0 209.4,247.0 209.5,246.0 209.6,245.1 209.7,244.1 209.8,243.1 209.9,241.8 210.0,241.2 210.1,240.0 210.2,238.7 210.3,237.8 210.4,237.3 210.6,236.1 210.7,235.6 210.8,234.8 210.9,233.7 211.0,232.5 211.4,230.9 211.9,230.5 212.4,231.1 212.8,232.5 212.9,233.9 213.0,234.1 213.1,235.7 213.2,236.1 213.4,237.5 213.5,238.0 213.6,239.3 213.7,240.0 213.8,240.7 213.9,242.2 214.0,242.9 214.1,244.1 214.2,245.1 214.3,246.0 214.4,247.0 214.5,248.0 215.4,248.0 216.4,248.0 217.3,248.0 218.3,248.0 219.2,248.0 220.2,248.0 221.1,248.0 222.1,248.0 223.0,248.0 223.2,247.1 223.5,246.2 223.7,245.3 223.9,244.6 224.2,243.4 224.4,242.7 224.6,241.6 224.8,240.9 225.1,239.7 225.3,239.1 225.5,239.9 225.8,241.2 226.0,241.9 226.3,243.0 226.5,244.2 226.8,244.9 227.0,246.0 227.8,247.0 228.5,248.0 229.5,248.0 230.4,248.0 231.4,248.0 232.3,248.0 233.3,248.0 234.3,248.0 235.2,248.0 236.2,248.0 236.3,247.1 236.4,246.2 236.4,245.3 236.5,244.5 236.6,243.5 236.7,242.7 236.8,241.5 236.8,240.9 236.9,239.7 237.0,239.0 237.1,238.3 237.3,237.0 237.4,236.5 237.5,235.2 237.7,233.9 237.8,233.5 238.6,232.2 239.4,233.5 239.5,234.9 239.7,235.0 239.8,236.4 239.9,236.9 240.1,238.3 240.2,239.0 240.3,239.7 240.4,241.0 240.4,241.6 240.5,242.7 240.6,243.4 240.7,244.5 240.8,245.3 240.8,246.2 240.9,247.1 241.0,248.0 241.9,248.0 242.8,248.0 243.7,248.0 244.6,248.0 245.5,248.0 246.5,248.0 247.4,248.0 248.3,248.0 249.2,248.0 250.1,248.0 251.0,248.0" fill="none" stroke="#a0a0a0" stroke-width="1.25" stroke-linejoin="round"/>
<path d="M34.5,248.0 L35.1,244.1 L37.0,246.0 L40.1,241.0 L42.0,241.6 L44.5,240.3 L46.4,241.6 L48.3,236.6 L50.2,238.5 L52.0,246.0 L53.3,248.0 L55.2,244.1 L58.3,241.6 L60.8,243.5 L62.0,246.0 L63.5,248.0 L65.8,240.3 L69.0,237.2 L72.1,238.5 L75.2,239.7 L77.7,241.6 L81.5,237.8 L84.6,240.3 L87.1,238.5 L88.5,244.1 L89.5,248.0 L91.6,248.0 L93.5,234.0 L95.4,232.8 L98.5,233.6 L101.0,234.0 L102.3,248.0 M106.0,248.0 L107.9,224.7 L109.8,231.6 L111.7,237.2 L114.2,236.6 L116.0,236.0 L117.0,248.0 L117.3,242.8 L119.2,236.6 L121.7,230.3 L124.2,235.3 L126.1,239.7 L128.6,236.6 L130.5,241.6 L131.7,246.0 L133.6,246.0 L135.5,226.6 L138.6,231.0 L141.1,235.3 L141.9,236.6 L143.2,248.0 M146.3,248.0 L148.8,239.0 L152.5,230.3 L155.0,235.3 L158.2,241.6 L159.4,244.0 L161.9,235.3 L165.0,229.0 L167.0,232.8 L169.4,236.6 L171.3,241.6 L172.6,242.8 L177.6,234.7 L180.0,240.3 L182.6,237.2 L184.5,241.6 L187.6,237.8 L190.0,240.3 L193.3,237.2 L195.8,241.6 L197.1,245.4 L199.6,246.0 L202.0,248.0 L205.3,239.7 L207.8,248.0 L210.0,248.0 L212.2,242.2 L214.0,248.0 L216.0,248.0 L219.0,240.0 L222.8,234.0 L225.3,241.6 L227.0,246.0 L228.0,248.0 L230.3,244.1 L232.0,246.0 L234.1,242.2 L236.5,246.0 L240.4,248.0 M243.0,248.0 L245.4,245.4 L247.0,248.0 L249.0,248.0 L251.0,244.1" fill="none" stroke="#1010fc" stroke-width="1.05" stroke-linejoin="round"/>
<line x1="34.5" y1="208.0" x2="34.5" y2="248.6" stroke="#000" stroke-width="1"/>
<text x="0" y="0" font-size="8.3" text-anchor="middle" transform="translate(28.8,228.6) rotate(-90)">FDP</text>
<text x="254.7" y="238.5" font-size="8.5" font-weight="bold" fill="#1010fc" color="#1010fc">0.48</text>
<text x="254.7" y="248.6" font-size="8.5" fill="#8c8c8c" color="#8c8c8c">0.69</text>
<line x1="61.6" y1="256.8" x2="61.6" y2="296.1" stroke="#111" stroke-width="1" stroke-dasharray="2.1,0.9"/>
<line x1="88.7" y1="256.8" x2="88.7" y2="296.1" stroke="#111" stroke-width="1" stroke-dasharray="2.1,0.9"/>
<line x1="116.0" y1="256.8" x2="116.0" y2="296.1" stroke="#111" stroke-width="1" stroke-dasharray="2.1,0.9"/>
<line x1="143.2" y1="256.8" x2="143.2" y2="296.1" stroke="#111" stroke-width="1" stroke-dasharray="2.1,0.9"/>
<line x1="170.4" y1="256.8" x2="170.4" y2="296.1" stroke="#111" stroke-width="1" stroke-dasharray="2.1,0.9"/>
<line x1="197.6" y1="256.8" x2="197.6" y2="296.1" stroke="#111" stroke-width="1" stroke-dasharray="2.1,0.9"/>
<line x1="224.5" y1="256.8" x2="224.5" y2="296.1" stroke="#111" stroke-width="1" stroke-dasharray="2.1,0.9"/>
<line x1="251.4" y1="256.8" x2="251.4" y2="296.1" stroke="#111" stroke-width="1" stroke-dasharray="2.1,0.9"/>
<polyline points="34.5,296.0 34.9,295.5 35.2,295.0 35.6,294.5 36.0,294.0 36.5,293.5 37.0,292.7 37.5,292.7 38.0,292.1 38.7,291.7 39.3,292.5 40.0,292.1 40.4,292.3 40.8,293.3 41.2,293.8 41.6,294.4 42.0,295.0 42.6,295.0 43.2,295.0 43.8,295.0 44.5,295.0 45.1,295.0 45.7,295.0 46.3,295.0 46.9,295.0 47.5,295.0 48.2,295.0 48.8,295.0 49.4,295.0 50.0,295.0 50.6,295.0 51.2,295.1 51.9,295.1 52.5,295.1 53.1,295.2 53.8,295.2 54.4,295.2 55.0,295.2 55.6,295.3 56.2,295.3 56.9,295.3 57.5,295.4 58.1,295.4 58.8,295.4 59.4,295.5 60.0,295.5 60.7,295.5 61.3,295.5 62.0,295.6 62.6,295.6 63.3,295.6 63.9,295.6 64.5,295.6 65.1,295.6 65.7,295.6 66.3,295.6 67.0,295.6 67.6,295.6 68.2,295.6 68.8,295.6 69.4,295.6 70.0,295.6 70.6,295.6 71.2,295.6 71.9,295.6 72.5,295.6 73.1,295.6 73.8,295.6 74.4,295.6 75.0,295.6 75.6,295.7 76.2,295.7 76.9,295.8 77.5,295.8 78.1,295.9 78.8,295.9 79.4,295.9 80.0,296.0 80.6,296.0 81.2,296.0 81.8,296.0 82.5,296.0 83.1,296.0 83.7,296.0 84.3,296.0 84.9,296.0 85.5,296.0 86.2,296.0 86.8,296.0 87.4,296.0 88.0,296.0 88.5,295.7 89.0,295.3 89.5,295.0 90.0,294.7 90.5,294.3 91.0,294.0 91.3,293.4 91.5,293.1 91.8,291.8 92.0,291.9 92.3,290.8 92.5,291.1 92.6,291.9 92.8,292.4 92.9,293.4 93.0,294.1 93.2,294.7 93.3,295.4 93.5,296.0 94.1,296.0 94.7,296.0 95.3,296.0 95.9,296.0 96.5,296.0 97.1,296.0 97.7,296.0 98.3,296.0 98.9,296.0 99.6,296.0 100.2,296.0 100.8,296.0 101.4,296.0 102.0,296.0 102.6,296.0 103.2,296.0 103.8,296.0 104.4,296.0 105.0,296.0 105.2,295.4 105.4,294.9 105.6,294.3 105.8,293.8 106.1,293.2 106.3,292.4 106.5,292.5 106.7,291.5 106.9,292.4 107.1,292.6 107.3,293.4 107.4,294.1 107.6,294.7 107.8,295.4 108.0,296.0 108.6,296.0 109.2,296.0 109.8,296.0 110.4,296.0 111.0,296.0 111.6,296.0 112.2,296.0 112.8,296.0 113.4,296.0 114.0,296.0 114.6,296.0 115.2,296.0 115.8,296.0 116.5,296.0 117.1,296.0 117.7,296.0 118.3,296.0 118.9,296.0 119.5,296.0 120.1,296.0 120.7,296.0 121.3,296.0 121.9,296.0 122.5,296.0 123.1,296.0 123.7,296.0 124.3,296.0 124.9,296.0 125.5,296.0 126.1,296.0 126.7,296.0 127.3,296.0 127.9,296.0 128.5,296.0 129.1,296.0 129.7,296.0 130.3,296.0 130.9,296.0 131.5,296.0 132.2,296.0 132.8,296.0 133.4,296.0 134.0,296.0 134.6,296.0 135.2,296.0 135.8,296.0 136.4,296.0 137.0,296.0 137.6,296.0 138.2,296.0 138.8,296.0 139.4,296.0 140.0,296.0 140.6,296.0 141.2,296.0 141.9,296.0 142.5,296.0 143.1,296.0 143.8,296.0 144.4,296.0 145.0,296.0 145.4,295.6 145.9,295.1 146.3,294.7 146.7,294.3 147.1,293.9 147.6,293.4 148.0,293.0 148.7,293.1 149.3,293.1 150.0,292.7 150.7,292.7 151.3,293.2 152.0,293.5 152.6,293.3 153.2,293.2 153.8,293.4 154.4,293.1 155.0,292.7 155.3,293.2 155.7,293.8 156.0,294.4 156.3,294.9 156.7,295.4 157.0,296.0 157.6,296.0 158.2,296.0 158.8,296.0 159.4,296.0 160.0,296.0 160.2,295.4 160.5,294.8 160.8,294.1 161.0,293.5 161.2,292.6 161.5,291.8 161.8,291.9 162.0,291.0 162.7,290.4 163.3,290.5 164.0,290.0 164.5,290.9 165.0,290.6 165.5,291.7 166.0,292.0 166.6,291.6 167.1,292.0 167.7,291.2 168.2,291.2 168.8,290.8 169.0,290.9 169.1,292.3 169.2,292.5 169.4,293.4 169.6,294.1 169.7,294.7 169.8,295.4 170.0,296.0 170.7,296.0 171.3,296.0 172.0,296.0 172.7,296.0 173.3,296.0 174.0,296.0 174.1,295.4 174.2,294.8 174.2,294.2 174.3,293.5 174.4,293.3 174.5,292.1 174.5,292.0 174.6,291.3 174.7,291.1 174.8,289.2 174.8,289.9 174.9,288.1 175.0,288.7 175.1,287.1 175.2,287.2 175.2,285.2 175.3,285.8 175.4,284.0 175.5,284.9 175.5,282.3 175.6,283.9 175.7,283.6 175.8,280.9 175.8,281.8 175.9,279.8 176.0,280.0 176.1,278.5 176.2,280.8 176.3,279.2 176.5,276.5 176.6,278.3 176.7,274.1 176.8,276.2 176.9,274.5 177.0,276.6 177.1,271.8 177.3,275.9 177.4,273.3 177.5,269.2 177.6,271.4 177.8,273.5 178.0,270.1 178.2,274.7 178.4,272.4 178.6,276.1 178.8,274.0 179.0,276.1 179.2,274.3 179.4,278.7 179.6,275.4 179.8,279.6 180.0,278.3 180.5,276.4 181.0,275.5 181.6,275.9 182.1,278.7 182.6,276.4 182.7,274.8 182.8,276.4 182.9,279.5 183.0,277.3 183.1,281.2 183.2,280.2 183.2,281.6 183.3,281.9 183.3,282.7 183.4,283.5 183.4,283.6 183.5,282.6 183.5,285.3 183.6,284.6 183.7,286.0 183.7,287.2 183.8,287.7 183.8,287.2 183.8,288.4 183.9,288.2 183.9,289.5 184.0,289.5 184.0,290.9 184.1,290.9 184.2,292.1 184.2,292.2 184.2,293.2 184.3,293.6 184.3,294.2 184.4,294.8 184.4,295.4 184.5,296.0 185.1,296.0 185.8,296.0 186.4,296.0 187.0,296.0 187.1,295.4 187.1,294.8 187.2,294.2 187.3,293.6 187.4,293.2 187.4,292.2 187.5,292.1 187.6,290.8 187.6,290.9 187.7,289.6 187.8,290.2 187.9,288.2 187.9,288.9 188.0,288.1 188.1,285.9 188.2,287.2 188.2,285.5 188.3,286.3 188.4,283.5 188.4,284.7 188.5,282.4 188.6,283.4 188.7,280.6 188.7,282.6 188.8,279.4 188.9,281.8 188.9,279.2 189.0,278.7 189.1,276.9 189.2,279.7 189.2,276.4 189.3,277.6 189.4,278.2 189.5,274.7 189.5,276.0 189.6,272.3 189.7,271.7 189.7,275.5 189.8,270.7 189.9,273.4 190.0,268.6 190.0,273.6 190.1,270.2 190.4,272.4 190.7,272.0 190.9,271.3 191.2,273.0 191.5,273.7 191.8,272.4 192.0,275.5 192.3,272.1 192.6,275.2 193.1,277.3 193.5,274.4 194.0,277.5 194.4,274.9 194.9,278.7 195.3,279.3 195.8,278.3 196.4,279.5 197.0,277.0 197.0,277.0 197.0,279.5 197.0,280.1 197.1,277.8 197.1,281.7 197.1,281.3 197.1,282.9 197.1,282.7 197.1,282.0 197.2,284.5 197.2,283.4 197.2,284.7 197.2,283.9 197.2,285.2 197.2,286.6 197.3,287.8 197.3,286.4 197.3,288.8 197.3,288.2 197.3,288.5 197.3,290.5 197.4,289.9 197.4,291.3 197.4,291.4 197.4,292.5 197.4,292.8 197.4,293.5 197.5,294.2 197.5,294.8 197.5,295.4 197.5,296.0 198.1,296.0 198.8,296.0 199.4,296.0 200.0,296.0 200.1,295.4 200.1,294.8 200.2,294.2 200.2,293.6 200.3,293.3 200.3,291.9 200.4,291.9 200.4,291.0 200.5,291.2 200.5,289.7 200.6,290.1 200.6,288.2 200.7,288.8 200.7,286.7 200.8,287.8 200.8,287.1 200.9,286.2 201.0,283.9 201.0,285.9 201.1,283.5 201.1,284.5 201.2,281.5 201.2,283.5 201.3,279.9 201.3,282.2 201.4,279.3 201.4,280.9 201.5,279.6 201.5,278.0 201.6,275.7 201.6,278.5 201.7,275.9 201.7,278.0 201.8,277.6 201.8,273.8 201.9,275.4 202.0,271.1 202.0,275.7 202.1,271.7 202.1,273.9 202.2,270.6 202.2,268.8 202.3,271.0 202.3,268.7 202.4,270.1 202.4,267.4 202.5,269.8 202.5,268.1 202.6,264.3 202.6,268.4 202.7,264.1 202.7,267.3 202.8,263.9 203.0,263.0 203.1,266.6 203.2,265.0 203.4,268.5 203.6,265.0 203.7,269.9 203.8,270.1 204.0,269.0 204.5,265.9 204.9,269.2 205.4,268.8 205.9,267.0 206.1,266.1 206.3,266.4 206.5,267.9 206.7,271.7 206.9,268.0 207.0,271.6 207.2,269.8 207.4,273.0 207.6,272.1 207.8,273.3 208.4,274.9 209.1,272.4 209.7,274.6 209.7,273.3 209.8,276.9 209.8,274.6 209.8,276.1 209.9,278.2 209.9,276.3 209.9,280.6 210.0,277.7 210.0,279.6 210.0,281.3 210.0,280.4 210.1,282.4 210.1,282.0 210.1,283.6 210.2,283.2 210.2,285.1 210.2,284.1 210.3,286.2 210.3,285.8 210.3,287.2 210.4,287.1 210.4,288.5 210.4,288.0 210.5,289.8 210.5,289.2 210.5,290.9 210.5,290.7 210.6,292.1 210.6,292.6 210.6,292.8 210.7,293.6 210.7,294.2 210.7,294.8 210.8,295.4 210.8,296.0 211.4,296.0 212.1,296.0 212.7,296.0 213.4,296.0 214.0,296.0 214.0,295.4 214.1,294.8 214.1,294.2 214.2,293.6 214.2,292.8 214.3,292.7 214.3,291.3 214.4,291.6 214.4,290.2 214.5,290.2 214.5,289.7 214.6,288.2 214.6,288.6 214.7,286.6 214.7,288.0 214.8,285.7 214.8,286.7 214.9,286.5 214.9,283.9 215.0,285.3 215.0,283.0 215.1,283.3 215.1,281.0 215.2,282.7 215.2,282.2 215.3,282.0 215.3,278.2 215.4,281.1 215.4,277.5 215.5,279.9 215.5,276.9 215.6,276.3 215.6,276.7 215.7,274.0 215.7,277.4 215.8,273.5 215.8,273.0 215.9,274.2 215.9,274.1 216.0,270.6 216.0,273.8 216.1,269.5 216.1,272.8 216.2,267.8 216.2,271.9 216.3,265.6 216.3,269.9 216.4,264.4 216.4,265.8 216.5,268.2 216.5,264.3 216.6,264.0 216.6,266.0 216.7,261.4 216.7,265.4 216.8,261.8 216.8,263.7 216.9,259.2 216.9,261.5 217.0,258.9 217.0,261.0 217.1,256.6 217.1,260.0 217.2,254.9 217.2,257.0 217.3,254.9 217.5,256.0 217.6,261.2 217.8,258.2 217.9,260.8 218.1,259.7 218.2,263.0 218.4,259.8 218.6,265.0 218.7,261.8 218.8,265.2 219.0,264.5 219.7,261.2 220.3,265.9 221.0,263.3 221.2,262.1 221.3,265.2 221.4,263.3 221.6,266.4 221.8,265.1 221.9,264.4 222.1,269.2 222.2,267.4 222.4,271.9 222.5,270.8 222.7,269.3 222.8,270.8 222.9,271.0 223.1,267.5 223.2,266.9 223.3,267.1 223.4,268.8 223.6,264.1 223.7,267.8 223.8,264.7 224.0,262.7 224.1,264.5 224.1,267.1 224.1,266.5 224.1,263.7 224.1,268.8 224.2,266.5 224.2,269.6 224.2,266.3 224.2,270.2 224.2,268.3 224.2,273.1 224.2,269.7 224.2,273.6 224.2,269.7 224.3,274.3 224.3,272.2 224.3,276.0 224.3,272.5 224.3,277.8 224.3,274.5 224.3,278.0 224.3,275.7 224.4,278.4 224.4,276.5 224.4,280.6 224.4,278.0 224.4,281.6 224.4,281.3 224.4,279.9 224.4,283.4 224.4,281.6 224.5,283.8 224.5,282.8 224.5,285.9 224.5,284.7 224.5,286.9 224.5,285.2 224.5,287.8 224.5,286.7 224.5,288.9 224.6,288.3 224.6,289.7 224.6,289.7 224.6,291.0 224.6,290.6 224.6,292.0 224.6,292.0 224.6,293.3 224.7,293.6 224.7,294.2 224.7,294.8 224.7,295.4 224.7,296.0 225.4,296.0 226.0,296.0 226.7,296.0 227.3,296.0 228.0,296.0 228.1,295.4 228.2,294.8 228.3,294.2 228.4,293.6 228.5,292.7 228.7,292.2 228.8,292.1 228.9,291.7 229.0,291.1 229.1,289.3 229.2,289.5 229.3,288.6 229.4,288.5 229.5,288.0 229.6,288.0 229.8,286.0 229.9,286.6 230.0,284.5 230.1,284.9 230.2,283.2 230.3,283.3 231.0,284.4 231.7,284.1 232.3,283.5 233.0,282.0 233.6,281.8 234.2,284.0 234.8,281.7 235.4,284.2 236.0,284.3 236.6,283.3 236.8,282.5 236.9,284.3 237.1,284.6 237.3,285.8 237.3,286.9 237.4,286.8 237.4,287.1 237.5,288.9 237.5,288.4 237.5,289.8 237.6,289.7 237.6,290.2 237.7,291.5 237.7,292.0 237.8,292.2 237.8,293.1 237.8,293.6 237.9,294.2 237.9,294.8 238.0,295.4 238.0,296.0 238.6,296.0 239.2,296.0 239.8,296.0 240.4,296.0 241.0,296.0 241.1,295.4 241.2,294.8 241.3,294.2 241.4,293.5 241.5,292.6 241.6,292.6 241.7,291.8 241.8,290.6 241.9,290.7 242.0,289.5 242.1,289.4 242.2,289.4 242.2,287.7 242.3,288.0 242.4,287.3 242.5,285.1 242.6,286.0 242.7,283.7 242.8,283.6 242.9,284.8 243.0,281.8 243.1,283.8 243.2,281.3 243.3,281.8 243.4,281.4 243.5,280.0 243.9,280.1 244.4,279.5 244.8,283.2 245.3,280.5 245.7,283.9 246.2,282.1 246.6,283.3 247.2,284.6 247.8,283.8 248.4,284.3 249.0,285.0 249.5,283.4 250.0,284.5 250.5,283.3 251.0,283.3" fill="none" stroke="#000" stroke-width="0.85" stroke-linejoin="round"/>
<polyline points="34.5,296.0 35.0,295.0 35.5,294.0 36.0,293.0 36.5,292.1 36.9,291.5 37.4,290.4 37.8,290.0 38.3,289.0 38.9,289.9 39.4,291.1 40.0,292.0 41.0,292.0 42.0,292.1 43.2,292.5 44.5,292.7 45.8,292.7 47.0,293.0 48.0,292.6 49.0,292.4 50.0,292.0 50.5,291.1 51.1,290.4 51.6,289.2 52.2,288.7 52.7,287.7 53.5,288.2 54.2,289.3 55.0,290.2 55.8,290.8 56.8,291.0 57.7,291.5 58.6,291.7 59.6,292.1 60.5,293.1 61.5,294.0 61.8,295.0 62.0,296.0 63.0,296.0 64.0,296.0 65.0,296.0 66.0,296.0 67.0,296.0 68.0,296.0 69.0,296.0 69.3,295.0 69.6,294.0 69.9,293.0 70.2,291.9 70.5,291.0 71.2,290.0 72.0,289.4 72.7,288.3 73.3,289.0 73.9,290.2 74.5,291.0 74.7,291.9 74.9,293.1 75.1,294.0 75.3,295.0 75.5,296.0 76.5,296.0 77.4,296.0 78.4,296.0 79.3,296.0 80.3,296.0 81.2,296.0 82.2,296.0 83.2,296.0 84.1,296.0 85.1,296.0 86.0,296.0 87.0,296.0 87.2,295.1 87.4,294.2 87.6,293.3 87.9,292.3 88.1,291.5 88.3,290.7 88.5,289.6 88.6,290.3 88.8,291.5 88.9,292.3 89.1,293.3 89.2,294.2 89.4,295.1 89.5,296.0 90.4,296.0 91.3,296.0 92.2,296.0 93.1,296.0 94.1,296.0 95.0,296.0 95.9,296.0 96.8,296.0 97.7,296.0 98.6,296.0 99.5,296.0 100.4,296.0 101.4,296.0 102.3,296.0 103.2,296.0 104.1,296.0 105.0,296.0 105.4,295.0 105.8,294.1 106.3,293.2 106.7,292.1 107.0,293.1 107.3,294.1 107.7,295.0 108.0,296.0 109.0,296.0 110.0,296.0 110.2,295.0 110.5,294.1 110.8,293.0 111.0,292.1 111.2,293.1 111.5,294.1 111.8,295.0 112.0,296.0 112.9,296.0 113.8,296.0 114.7,296.0 115.6,296.0 116.5,296.0 117.5,296.0 118.4,296.0 119.3,296.0 120.2,296.0 121.1,296.0 122.0,296.0 122.9,296.0 123.8,296.0 124.7,296.0 125.6,296.0 126.5,296.0 127.5,296.0 128.4,296.0 129.3,296.0 130.2,296.0 131.1,296.0 132.0,296.0 132.2,295.1 132.4,294.2 132.6,293.3 132.8,292.3 133.0,291.5 133.2,292.4 133.4,293.3 133.6,294.2 133.8,295.1 134.0,296.0 134.9,296.0 135.8,296.0 136.8,296.0 137.7,296.0 138.6,296.0 139.5,296.0 140.4,296.0 141.3,296.0 142.2,296.0 143.2,296.0 144.1,296.0 145.0,296.0 145.2,295.1 145.5,294.2 145.7,293.4 146.0,292.4 146.2,291.7 146.4,290.7 146.7,290.1 146.9,288.9 147.1,288.2 147.4,286.9 147.6,286.5 147.9,285.3 148.1,284.6 148.6,285.6 149.2,285.9 149.7,287.4 150.2,288.1 150.8,288.7 151.3,289.6 152.0,289.1 152.7,288.2 153.3,287.2 154.0,286.5 154.5,287.5 155.0,288.2 155.5,289.0 156.0,290.0 156.2,291.1 156.3,291.9 156.5,293.1 156.7,294.0 156.8,295.0 157.0,296.0 158.0,296.0 159.0,296.0 160.0,296.0 160.3,295.1 160.6,294.3 160.9,293.4 161.1,292.5 161.4,291.9 161.7,290.7 162.0,290.0 162.9,289.2 163.9,289.0 164.8,288.3 165.5,287.3 166.3,287.0 167.0,286.0 167.9,285.1 168.8,284.6 170.0,283.3 170.1,284.5 170.1,284.9 170.2,286.1 170.3,287.0 170.4,287.7 170.4,288.5 170.5,289.8 170.6,290.8 170.6,291.3 170.7,292.5 170.8,293.3 170.9,294.2 170.9,295.1 171.0,296.0 172.0,296.0 173.0,296.0 174.0,296.0 174.1,295.1 174.2,294.2 174.4,293.3 174.5,292.3 174.6,291.7 174.8,290.5 174.9,290.0 175.0,288.6 175.1,288.0 175.2,287.4 175.4,286.5 175.5,285.4 175.6,284.1 175.8,283.7 175.9,282.8 176.0,281.4 176.1,281.0 176.2,279.8 176.4,279.6 176.5,277.6 176.6,277.9 176.8,275.7 176.9,275.7 177.0,274.6 177.5,275.2 178.0,276.8 178.5,277.0 179.0,278.9 179.5,278.5 180.0,280.0 180.4,281.2 180.7,281.3 181.1,283.0 181.5,282.9 181.9,284.6 182.2,284.9 182.6,285.8 182.7,286.9 182.9,287.8 183.0,288.7 183.1,289.6 183.2,290.5 183.4,291.2 183.5,292.2 183.6,293.2 183.7,294.1 183.9,295.1 184.0,296.0 185.0,296.0 186.0,296.0 187.0,296.0 187.2,295.1 187.3,294.2 187.5,293.2 187.6,292.3 187.8,291.3 187.9,290.7 188.1,289.4 188.3,288.8 188.4,287.5 188.6,287.0 188.7,285.8 188.9,285.4 189.1,283.8 189.2,283.6 189.4,281.8 189.5,281.8 189.7,280.6 189.9,278.9 190.0,277.9 190.2,277.8 190.3,277.1 190.5,276.2 190.6,275.1 190.8,273.9 191.2,275.3 191.6,275.3 192.0,276.9 192.3,278.1 192.7,278.6 193.1,278.6 193.5,280.0 193.7,280.3 193.9,281.3 194.1,282.8 194.3,283.3 194.5,284.6 194.7,285.0 194.9,286.3 195.1,287.1 195.6,288.0 196.1,289.3 196.6,290.0 197.1,291.0 197.3,292.1 197.5,293.0 197.6,294.0 197.8,295.0 198.0,296.0 199.0,296.0 200.0,296.0 200.1,295.1 200.2,294.2 200.3,293.3 200.4,292.5 200.5,291.4 200.6,290.8 200.7,289.6 200.8,288.9 200.9,287.6 201.0,286.9 201.1,286.4 201.2,285.6 201.3,284.2 201.4,283.9 201.5,283.0 201.6,281.1 201.7,281.0 201.8,279.4 201.9,279.0 202.0,277.3 202.1,277.5 202.2,275.7 202.3,275.8 202.4,274.2 202.5,273.9 202.6,273.2 202.7,270.9 202.8,270.8 203.2,272.2 203.5,271.8 203.9,273.9 204.3,273.4 204.6,274.4 205.0,276.0 205.6,277.3 206.1,277.2 206.7,278.8 207.2,278.4 207.8,279.6 209.1,280.0 210.3,279.6 210.4,280.7 210.4,280.9 210.5,282.6 210.5,283.6 210.6,283.9 210.6,285.2 210.7,285.8 210.7,287.2 210.8,287.7 210.8,288.9 210.8,289.5 210.9,290.7 210.9,291.5 211.0,292.3 211.0,293.3 211.1,294.2 211.1,295.1 211.2,296.0 212.1,296.0 213.1,296.0 214.0,296.0 214.1,295.1 214.2,294.2 214.2,293.3 214.3,292.4 214.4,291.3 214.5,290.7 214.6,289.8 214.6,288.4 214.7,287.9 214.8,286.5 214.9,286.3 214.9,284.6 215.0,284.3 215.1,282.8 215.2,282.6 215.3,281.0 215.3,280.6 215.4,280.1 215.5,278.3 215.6,277.1 215.7,277.5 215.7,276.1 215.8,274.7 215.9,274.3 216.0,272.9 216.0,272.6 216.1,270.9 216.2,271.1 216.3,268.5 216.4,269.2 216.4,267.2 216.5,267.2 216.6,265.8 217.1,266.1 217.6,267.8 218.0,267.4 218.5,268.6 219.0,270.0 219.5,271.6 219.9,271.1 220.4,273.3 220.9,273.2 221.4,274.7 221.9,274.4 222.3,275.9 222.8,277.0 223.4,278.5 223.9,279.3 224.5,280.0 224.5,280.6 224.6,282.4 224.6,283.2 224.6,283.5 224.6,285.0 224.7,285.5 224.7,286.4 224.7,287.7 224.8,288.6 224.8,289.2 224.8,290.2 224.9,291.4 224.9,292.1 224.9,293.2 224.9,294.1 225.0,295.1 225.0,296.0 226.0,296.0 227.0,296.0 228.0,296.0 228.2,295.1 228.3,294.2 228.5,293.3 228.7,292.4 228.8,291.3 229.0,290.7 229.2,289.8 229.3,288.5 229.5,288.0 229.7,286.7 229.8,285.8 230.0,285.4 230.2,283.7 230.3,283.1 230.5,282.9 230.7,281.0 230.8,280.9 231.0,279.6 231.6,280.6 232.2,281.0 232.9,282.6 233.5,283.0 234.3,283.4 235.1,284.2 235.8,284.9 236.6,285.8 236.7,286.8 236.9,287.8 237.0,288.3 237.1,289.6 237.2,290.4 237.4,291.5 237.5,292.2 237.6,293.2 237.7,294.1 237.9,295.1 238.0,296.0 239.0,296.0 240.0,296.0 241.0,296.0 241.2,295.1 241.3,294.1 241.5,293.2 241.6,292.4 241.8,291.3 241.9,290.6 242.1,289.4 242.3,288.7 242.4,287.9 242.6,286.6 242.7,286.1 242.9,284.5 243.1,284.1 243.2,283.4 243.4,281.6 243.5,281.6 243.7,279.7 243.8,279.7 244.0,278.3 244.5,278.6 245.0,280.7 245.6,280.9 246.1,282.3 246.6,283.0 247.2,283.4 247.8,284.6 248.4,285.1 249.0,286.0 250.0,286.8 251.0,287.0" fill="none" stroke="#a0a0a0" stroke-width="1.25" stroke-linejoin="round"/>
<path d="M34.5,296.0 L35.1,293.4 L37.0,290.8 L38.3,294.6 L40.8,292.1 L43.0,293.4 L45.8,292.1 L47.7,289.6 L49.5,294.6 L52.0,287.7 L53.9,292.1 L56.4,292.1 L58.9,293.4 L62.0,296.0 L63.3,294.0 L65.8,294.0 L67.0,296.0 L71.5,295.2 L76.0,296.0 L78.4,290.2 L80.2,293.4 L83.4,294.0 L85.5,295.0 L87.8,292.1 L89.0,296.0 L92.9,293.4 L94.0,296.0 M101.0,296.0 L102.3,293.4 L103.5,296.0 M110.0,296.0 L113.0,295.0 L116.0,293.4 L119.8,294.6 L123.6,290.2 L126.1,292.1 L129.2,295.2 L132.0,296.0 L134.0,296.0 L136.1,294.0 L138.6,291.8 L141.1,292.7 L143.0,292.1 L143.8,296.0 L146.3,296.0 L147.5,290.0 L149.0,287.1 L151.3,284.0 L153.2,285.2 L154.4,284.0 L156.3,289.6 L157.5,296.0 L160.0,296.0 L162.6,284.0 L164.4,287.7 L167.0,286.5 L168.8,289.6 L170.0,296.0 M173.5,296.0 L174.5,287.0 L176.3,276.4 L179.5,280.8 L181.4,284.6 L183.9,289.6 L184.6,296.0 L187.0,296.0 L188.2,287.0 L190.1,276.4 L193.9,282.0 L195.5,281.4 L197.1,286.0 L197.8,296.0 L200.0,296.0 L200.9,285.0 L202.1,271.4 L204.7,274.6 L207.8,277.0 L210.3,279.0 L211.5,296.0 L213.0,296.0 L214.0,285.0 L216.6,267.0 L219.0,277.0 L222.2,281.4 L223.5,282.0 L224.7,296.0 M227.8,296.0 L228.5,290.0 L231.0,276.4 L233.5,282.0 L236.6,283.3 L237.9,296.0 M240.5,296.0 L241.6,287.0 L243.5,274.6 L246.6,280.8 L249.8,286.5 L251.6,290.8" fill="none" stroke="#1010fc" stroke-width="1.05" stroke-linejoin="round"/>
<line x1="34.5" y1="256.0" x2="34.5" y2="296.6" stroke="#000" stroke-width="1"/>
<text x="0" y="0" font-size="8.3" text-anchor="middle" transform="translate(28.8,276.6) rotate(-90)">ECRb</text>
<text x="254.7" y="286.6" font-size="8.5" font-weight="bold" fill="#1010fc" color="#1010fc">0.71</text>
<text x="254.7" y="296.6" font-size="8.5" fill="#8c8c8c" color="#8c8c8c">0.80</text>
<line x1="61.6" y1="304.8" x2="61.6" y2="344.1" stroke="#111" stroke-width="1" stroke-dasharray="2.1,0.9"/>
<line x1="88.7" y1="304.8" x2="88.7" y2="344.1" stroke="#111" stroke-width="1" stroke-dasharray="2.1,0.9"/>
<line x1="116.0" y1="304.8" x2="116.0" y2="344.1" stroke="#111" stroke-width="1" stroke-dasharray="2.1,0.9"/>
<line x1="143.2" y1="304.8" x2="143.2" y2="344.1" stroke="#111" stroke-width="1" stroke-dasharray="2.1,0.9"/>
<line x1="170.4" y1="304.8" x2="170.4" y2="344.1" stroke="#111" stroke-width="1" stroke-dasharray="2.1,0.9"/>
<line x1="197.6" y1="304.8" x2="197.6" y2="344.1" stroke="#111" stroke-width="1" stroke-dasharray="2.1,0.9"/>
<line x1="224.5" y1="304.8" x2="224.5" y2="344.1" stroke="#111" stroke-width="1" stroke-dasharray="2.1,0.9"/>
<line x1="251.4" y1="304.8" x2="251.4" y2="344.1" stroke="#111" stroke-width="1" stroke-dasharray="2.1,0.9"/>
<polyline points="34.5,344.0 35.2,344.0 35.9,344.0 36.6,344.0 37.3,344.0 38.0,344.0 38.1,343.4 38.1,342.8 38.2,342.2 38.3,341.6 38.3,340.8 38.4,340.5 38.5,339.5 38.5,339.5 38.6,338.2 38.7,338.1 38.7,336.6 38.8,337.0 38.8,335.2 38.9,336.0 39.0,335.1 39.0,334.8 39.1,333.3 39.2,334.2 39.2,331.5 39.3,332.6 39.4,330.8 39.4,331.2 39.5,330.0 39.6,328.4 39.7,330.0 39.7,327.4 39.8,329.1 39.9,325.7 40.0,328.3 40.1,324.9 40.2,324.6 40.2,326.5 40.3,322.6 40.4,325.3 40.5,321.2 40.6,321.1 40.7,323.5 40.7,319.5 40.8,317.8 40.9,322.0 41.0,317.0 41.1,321.7 41.2,319.4 41.2,315.3 41.3,318.6 41.4,316.3 41.8,314.9 42.2,317.7 42.5,313.6 42.9,317.0 43.3,313.8 43.5,312.7 43.7,317.8 43.9,318.3 44.1,314.7 44.3,319.6 44.5,317.5 44.7,317.8 44.9,315.1 45.1,317.4 45.2,313.8 45.4,316.0 45.6,311.9 45.8,313.2 45.9,311.6 46.0,316.5 46.1,314.3 46.2,313.2 46.3,313.8 46.4,318.5 46.4,315.4 46.5,318.9 46.6,317.8 46.7,320.1 46.8,319.1 46.9,322.1 47.0,321.3 47.0,319.5 47.1,323.4 47.1,321.9 47.1,324.5 47.2,326.7 47.2,323.6 47.2,326.2 47.3,325.3 47.3,326.1 47.4,329.4 47.4,327.4 47.4,329.1 47.5,327.5 47.5,328.6 47.5,331.3 47.6,329.8 47.6,333.0 47.6,331.8 47.7,331.6 47.7,332.5 47.7,333.2 47.8,335.5 47.8,335.2 47.8,336.4 47.9,336.0 47.9,336.8 47.9,337.1 48.0,338.1 48.0,339.3 48.1,339.5 48.1,340.7 48.1,341.2 48.2,341.5 48.2,342.2 48.2,342.8 48.3,343.4 48.3,344.0 49.0,344.0 49.6,344.0 50.3,344.0 51.0,344.0 51.0,343.4 51.0,342.8 51.1,342.2 51.1,341.6 51.1,340.6 51.1,340.7 51.1,340.2 51.1,338.8 51.2,339.1 51.2,337.3 51.2,336.9 51.2,337.5 51.2,335.8 51.2,335.8 51.3,335.8 51.3,333.2 51.3,332.7 51.3,333.9 51.3,332.1 51.3,330.8 51.4,332.7 51.4,329.2 51.4,330.0 51.5,328.7 51.5,329.6 51.6,326.9 51.7,328.6 51.8,325.1 51.8,327.6 51.9,323.7 52.0,327.3 52.1,323.1 52.1,324.5 52.2,322.5 52.3,324.9 52.4,320.6 52.4,323.3 52.5,319.2 52.6,322.7 52.6,317.8 52.7,320.4 52.8,316.7 52.9,320.3 52.9,318.9 53.0,314.9 53.1,318.3 53.2,313.6 53.2,317.7 53.3,311.5 53.4,312.4 53.5,315.9 53.5,313.4 53.6,310.2 53.7,312.4 53.8,308.4 53.8,312.8 53.9,309.4 54.0,307.7 54.1,311.6 54.3,314.2 54.4,309.0 54.5,314.3 54.6,315.8 54.7,312.2 54.8,315.8 55.0,313.7 55.1,316.3 55.2,316.3 55.6,314.1 55.9,316.7 56.3,313.0 56.6,317.3 57.0,313.8 57.2,311.5 57.4,316.3 57.6,313.2 57.8,317.2 58.0,314.1 58.1,316.3 58.3,320.9 58.5,316.5 58.7,320.1 58.9,320.0 59.3,319.0 59.7,323.6 60.1,319.2 60.5,322.0 60.5,324.9 60.5,321.0 60.6,325.0 60.6,322.2 60.6,325.7 60.6,324.8 60.7,327.0 60.7,326.1 60.7,328.4 60.8,327.3 60.8,329.4 60.8,329.0 60.8,330.3 60.9,329.5 60.9,332.1 60.9,332.2 60.9,333.2 61.0,331.8 61.0,334.4 61.0,333.1 61.0,335.8 61.0,334.7 61.1,336.5 61.1,336.4 61.1,337.9 61.1,337.6 61.2,339.1 61.2,339.6 61.2,339.5 61.2,340.6 61.3,340.7 61.3,341.6 61.3,342.2 61.4,342.8 61.4,343.4 61.4,344.0 62.0,344.0 62.7,344.0 63.4,344.0 64.0,344.0 64.0,343.4 64.1,342.8 64.2,342.2 64.2,341.6 64.2,341.4 64.3,340.7 64.3,339.3 64.4,339.5 64.5,338.3 64.5,338.4 64.5,336.9 64.6,337.2 64.7,335.7 64.7,335.8 64.8,334.6 64.8,335.1 64.8,332.9 64.9,334.4 65.0,332.0 65.0,331.5 65.0,332.5 65.1,329.4 65.2,329.0 65.2,331.1 65.2,327.9 65.3,330.0 65.3,329.5 65.4,325.3 65.5,328.2 65.5,325.5 65.5,326.5 65.6,322.8 65.7,325.9 65.7,321.8 65.8,323.5 65.8,320.3 65.8,323.5 65.9,320.5 66.0,321.7 66.0,320.0 66.1,318.2 66.2,319.9 66.3,315.3 66.4,319.1 66.5,314.8 66.6,318.5 66.6,315.0 66.7,316.4 66.8,313.3 66.9,314.6 67.0,312.2 67.1,315.1 67.2,310.9 67.3,313.3 67.4,310.1 67.5,309.3 67.6,307.0 67.7,310.9 67.7,311.5 67.8,306.8 67.9,310.3 68.0,304.8 68.1,308.1 68.2,306.5 68.3,305.0 68.4,307.4 68.5,308.5 68.6,304.1 68.7,308.2 68.8,306.3 68.9,310.1 69.1,307.9 69.2,312.6 69.3,308.2 69.4,310.4 69.5,309.6 69.6,312.5 69.9,311.8 70.2,315.2 70.4,316.2 70.7,313.1 71.0,316.0 71.3,313.2 71.5,319.2 71.8,315.7 72.1,317.5 72.4,319.1 72.7,315.7 72.9,316.7 73.2,322.5 73.5,322.2 73.8,320.2 74.0,323.0 74.3,320.1 74.6,322.6 74.6,323.8 74.6,324.6 74.7,323.3 74.7,326.9 74.7,326.6 74.7,325.3 74.7,327.9 74.7,326.8 74.8,329.9 74.8,328.0 74.8,327.6 74.8,330.5 74.8,330.1 74.8,331.6 74.9,331.2 74.9,333.7 74.9,332.3 74.9,334.4 74.9,333.7 74.9,335.3 75.0,335.8 75.0,335.4 75.0,336.3 75.0,337.6 75.0,337.5 75.0,337.9 75.1,339.0 75.1,340.1 75.1,340.6 75.1,340.9 75.1,341.6 75.1,342.2 75.2,342.8 75.2,343.4 75.2,344.0 75.9,344.0 76.6,344.0 77.3,344.0 78.0,344.0 78.0,343.4 78.1,342.8 78.1,342.2 78.1,341.5 78.2,341.3 78.2,340.7 78.2,339.9 78.3,338.9 78.3,339.0 78.3,338.5 78.4,336.6 78.4,337.2 78.4,335.2 78.5,336.4 78.5,334.3 78.5,334.7 78.5,332.6 78.6,333.3 78.6,331.4 78.6,332.3 78.7,330.8 78.7,331.4 78.7,331.1 78.8,330.3 78.8,327.9 78.8,326.6 78.9,327.9 78.9,325.3 78.9,327.1 79.0,323.5 79.0,325.0 79.1,324.9 79.1,322.4 79.2,324.0 79.2,320.4 79.3,322.8 79.4,322.5 79.4,321.7 79.5,317.7 79.5,322.2 79.6,317.7 79.7,319.7 79.7,314.6 79.8,318.4 79.8,313.3 79.9,316.3 80.0,313.5 80.0,311.7 80.1,316.7 80.1,314.5 80.2,312.5 80.6,309.1 80.9,312.1 81.3,309.4 81.7,311.8 82.1,309.3 82.4,310.8 82.8,308.8 83.0,310.3 83.1,311.1 83.3,308.0 83.5,309.6 83.7,313.5 83.8,309.6 84.0,313.0 84.5,314.0 85.0,312.8 85.4,309.2 85.9,311.3 86.4,312.4 87.0,311.4 87.5,311.4 88.0,313.0 88.0,316.4 88.0,313.0 88.0,312.7 88.1,317.8 88.1,314.8 88.1,319.1 88.1,319.4 88.1,318.5 88.1,316.7 88.2,316.2 88.2,320.9 88.2,318.6 88.2,319.9 88.2,319.4 88.2,320.0 88.3,323.9 88.3,322.1 88.3,324.6 88.3,322.7 88.3,325.7 88.3,324.4 88.3,328.5 88.4,329.0 88.4,327.1 88.4,329.3 88.4,327.8 88.4,330.4 88.4,328.8 88.5,332.0 88.5,330.8 88.5,331.2 88.5,333.1 88.5,332.6 88.5,334.2 88.5,333.2 88.6,335.4 88.6,334.5 88.6,336.5 88.6,337.3 88.6,337.5 88.6,337.3 88.7,337.9 88.7,339.4 88.7,339.6 88.7,340.1 88.7,340.8 88.7,341.6 88.8,342.2 88.8,342.8 88.8,343.4 88.8,344.0 89.5,344.0 90.2,344.0 90.9,344.0 91.6,344.0 91.6,343.4 91.7,342.8 91.7,342.2 91.8,341.6 91.8,340.8 91.9,340.8 91.9,339.9 92.0,338.8 92.0,338.9 92.1,337.7 92.1,337.9 92.2,336.5 92.2,336.6 92.3,335.2 92.3,335.0 93.0,335.2 93.7,333.8 94.3,334.6 95.0,334.0 95.6,333.5 96.2,334.8 96.8,333.8 97.4,335.4 98.0,335.1 98.6,333.8 99.2,335.4 99.8,333.8 100.4,333.0 101.0,334.0 101.4,335.1 101.9,335.0 102.3,336.0 102.4,337.4 102.4,336.5 102.5,338.5 102.5,338.2 102.6,339.5 102.6,339.2 102.7,340.6 102.7,340.7 102.8,341.5 102.8,342.2 102.9,342.8 102.9,343.4 103.0,344.0 103.6,344.0 104.2,344.0 104.8,344.0 105.4,344.0 106.0,344.0 106.0,343.4 106.0,342.8 106.1,342.2 106.1,341.6 106.1,341.1 106.1,340.0 106.2,340.1 106.2,339.7 106.2,338.4 106.2,337.2 106.3,337.5 106.3,337.2 106.3,336.8 106.3,335.9 106.4,334.5 106.4,335.4 106.4,334.2 106.4,332.4 106.5,333.2 106.5,331.3 106.5,331.3 106.9,333.2 107.3,331.4 107.8,333.1 108.2,333.7 108.6,333.8 109.1,332.6 109.6,333.7 110.0,331.8 110.5,333.4 111.0,332.0 111.5,331.7 112.0,333.9 112.5,333.0 113.0,334.0 113.7,334.9 114.3,333.4 115.0,333.8 115.1,334.7 115.1,334.4 115.2,336.2 115.2,336.0 115.3,337.0 115.4,336.7 115.4,338.2 115.5,338.3 115.5,339.0 115.6,339.3 115.6,340.8 115.7,340.6 115.8,341.6 115.8,342.2 115.9,342.8 115.9,343.4 116.0,344.0 116.6,344.0 117.2,344.0 117.8,344.0 118.4,344.0 119.0,344.0 119.6,344.0 120.2,344.0 120.8,344.0 121.4,344.0 122.0,344.0 122.6,344.0 123.2,344.0 123.8,344.0 124.4,344.0 125.0,344.0 125.6,344.0 126.2,344.0 126.8,344.0 127.4,344.0 128.0,344.0 128.6,344.0 129.2,344.0 129.8,344.0 130.4,344.0 131.0,344.0 131.6,344.0 132.2,344.0 132.8,344.0 133.4,344.0 134.0,344.0 134.6,344.0 135.2,344.0 135.8,344.0 136.4,344.0 137.0,344.0 137.6,344.0 138.2,344.0 138.8,344.0 139.4,344.0 140.0,344.0 140.6,344.0 141.2,344.0 141.8,344.0 142.4,344.0 143.0,344.0 143.6,344.0 144.2,344.0 144.8,344.0 145.4,344.0 146.0,344.0 146.6,344.0 147.2,344.0 147.8,344.0 148.4,344.0 149.0,344.0 149.6,344.0 150.2,344.0 150.8,344.0 151.4,344.0 152.0,344.0 152.6,344.0 153.2,344.0 153.8,344.0 154.4,344.0 155.0,344.0 155.6,344.0 156.2,344.0 156.8,344.0 157.4,344.0 158.0,344.0 158.6,344.0 159.2,344.0 159.8,344.0 160.4,344.0 161.0,344.0 161.6,344.0 162.2,344.0 162.8,344.0 163.4,344.0 164.0,344.0 164.6,344.0 165.2,344.0 165.8,344.0 166.4,344.0 167.0,344.0 167.6,344.0 168.2,344.0 168.8,344.0 169.4,344.0 170.0,344.0 170.6,344.0 171.2,344.0 171.9,344.0 172.5,344.0 173.1,344.0 173.7,344.0 174.3,344.0 174.9,344.0 175.5,344.0 176.1,344.0 176.7,344.0 177.3,344.0 177.9,344.0 178.5,344.0 179.1,344.0 179.7,344.0 180.3,344.0 180.9,344.0 181.5,344.0 182.1,344.0 182.7,344.0 183.3,344.0 183.9,344.0 184.5,344.0 185.1,344.0 185.7,344.0 186.3,344.0 186.9,344.0 187.5,344.0 188.1,344.0 188.7,344.0 189.3,344.0 189.9,344.0 190.5,344.0 191.1,344.0 191.7,344.0 192.3,344.0 192.9,344.0 193.5,344.0 194.1,344.0 194.7,344.0 195.3,344.0 195.9,344.0 196.5,344.0 197.1,344.0 197.7,344.0 198.3,344.0 198.9,344.0 199.5,344.0 200.1,344.0 200.7,344.0 201.3,344.0 201.9,344.0 202.5,344.0 203.1,344.0 203.7,344.0 204.3,344.0 204.9,344.0 205.5,344.0 206.1,344.0 206.7,344.0 207.3,344.0 207.9,344.0 208.5,344.0 209.1,344.0 209.7,344.0 210.3,344.0 210.9,344.0 211.5,344.0 212.1,344.0 212.7,344.0 213.3,344.0 213.9,344.0 214.5,344.0 215.1,344.0 215.7,344.0 216.3,344.0 216.9,344.0 217.5,344.0 218.1,344.0 218.7,344.0 219.3,344.0 219.9,344.0 220.5,344.0 221.1,344.0 221.7,344.0 222.3,344.0 222.9,344.0 223.5,344.0 224.1,344.0 224.7,344.0 225.3,344.0 225.9,344.0 226.5,344.0 226.6,343.4 226.8,342.8 226.9,342.2 227.0,341.6 227.2,341.4 227.3,340.5 227.4,339.3 227.6,339.5 227.7,338.4 227.8,337.7 228.0,337.1 228.1,337.6 228.2,335.8 228.4,336.1 228.5,335.0 228.7,334.0 228.8,334.9 229.0,331.9 229.2,333.7 229.3,331.0 229.5,332.0 229.6,331.7 229.8,328.5 230.0,331.2 230.1,327.9 230.3,328.2 230.7,329.5 231.1,330.4 231.6,328.4 232.0,330.8 232.4,330.4 232.8,331.3 233.3,331.1 233.8,333.5 234.4,331.4 234.9,333.1 235.4,333.2 236.2,333.2 237.0,334.0 237.1,335.2 237.1,334.3 237.2,336.3 237.2,336.3 237.3,337.5 237.4,337.4 237.4,338.8 237.5,338.8 237.6,339.9 237.6,339.8 237.7,341.0 237.8,341.5 237.8,342.1 237.9,342.8 237.9,343.4 238.0,344.0 238.7,344.0 239.3,344.0 240.0,344.0 240.7,344.0 241.3,344.0 242.0,344.0 242.1,343.4 242.3,342.8 242.4,342.2 242.5,341.6 242.7,340.7 242.8,340.0 242.9,340.0 243.1,338.8 243.2,338.9 243.3,337.6 243.5,336.8 243.6,337.6 243.7,335.6 243.9,336.0 244.0,335.0 244.4,333.5 244.7,334.7 245.1,333.8 245.5,332.0 245.9,333.4 246.2,332.3 246.6,331.3 246.9,331.2 247.2,333.7 247.4,331.9 247.7,334.6 248.0,334.0 248.5,333.8 249.0,335.5 249.4,335.1 249.9,336.1 250.4,336.3 250.7,334.8 251.0,335.0" fill="none" stroke="#000" stroke-width="0.85" stroke-linejoin="round"/>
<polyline points="34.5,344.0 35.5,344.0 36.5,344.0 37.5,344.0 37.6,343.1 37.6,342.2 37.7,341.3 37.8,340.3 37.9,339.4 37.9,338.7 38.0,337.6 38.1,336.9 38.1,335.7 38.2,335.1 38.3,334.4 38.4,332.7 38.4,332.6 38.5,331.5 38.6,330.1 38.6,329.3 38.7,329.2 38.8,327.4 38.9,327.5 38.9,325.2 39.0,325.0 39.2,324.8 39.4,324.0 39.6,321.9 39.8,322.2 40.0,319.6 40.2,320.5 40.4,319.2 40.6,316.9 40.8,317.0 41.3,318.3 41.7,317.8 42.2,320.1 42.6,319.6 43.1,321.7 43.5,322.2 44.0,322.6 45.0,321.8 46.0,323.0 47.0,322.6 47.2,322.9 47.3,324.9 47.5,324.8 47.6,326.6 47.8,326.6 48.0,328.0 48.1,329.5 48.3,330.0 48.4,330.5 48.5,331.5 48.5,333.0 48.6,333.6 48.7,334.8 48.8,335.8 48.9,336.8 48.9,337.5 49.0,338.5 49.1,339.2 49.2,340.3 49.3,341.2 49.3,342.1 49.4,343.1 49.5,344.0 50.8,344.0 50.9,343.1 50.9,342.2 51.0,341.3 51.1,340.3 51.1,339.5 51.2,338.4 51.3,337.7 51.3,336.5 51.4,336.0 51.5,334.6 51.5,334.3 51.6,332.9 51.7,332.3 51.7,331.1 51.8,330.7 51.8,328.8 51.9,328.9 52.0,328.0 52.0,326.3 52.1,325.1 52.2,325.2 52.2,323.4 52.3,323.3 52.4,321.4 52.4,321.7 52.5,319.7 52.6,319.9 52.6,318.0 52.7,317.5 53.2,317.5 53.6,320.1 54.1,319.8 54.5,321.8 55.0,322.0 55.8,322.3 56.6,322.9 57.5,324.0 58.3,325.0 58.8,325.1 59.3,327.0 59.8,327.0 60.3,328.6 60.8,328.8 60.8,329.4 60.9,331.0 60.9,331.3 61.0,332.8 61.0,333.2 61.1,334.3 61.1,335.7 61.2,336.2 61.2,337.3 61.3,338.4 61.4,339.2 61.4,340.3 61.5,341.1 61.5,342.1 61.6,343.1 61.6,344.0 62.8,344.0 64.0,344.0 64.1,343.1 64.2,342.2 64.2,341.3 64.3,340.3 64.4,339.5 64.5,338.4 64.6,337.8 64.6,336.4 64.7,335.9 64.8,334.7 64.9,334.2 64.9,332.7 65.0,332.5 65.1,331.0 65.2,330.8 65.3,330.0 65.3,328.1 65.4,328.1 65.5,326.4 65.6,326.4 65.7,324.3 65.7,324.3 65.8,322.8 65.9,322.4 66.0,320.8 66.0,319.9 66.1,320.4 66.2,318.1 66.3,318.1 66.4,317.5 66.4,314.9 66.5,314.3 66.6,314.0 67.0,315.1 67.5,316.6 67.9,315.8 68.3,317.8 68.7,317.4 69.2,318.6 69.6,320.0 70.1,321.0 70.6,320.8 71.1,322.8 71.6,322.7 72.1,324.0 72.7,325.5 73.3,325.4 74.0,327.0 74.6,327.6 74.6,329.1 74.7,329.2 74.8,330.6 74.8,331.7 74.8,331.8 74.9,333.3 75.0,333.7 75.0,335.2 75.0,335.6 75.1,336.8 75.1,337.8 75.2,338.4 75.2,339.6 75.3,340.3 75.3,341.3 75.4,342.2 75.5,343.1 75.5,344.0 76.8,344.0 78.0,344.0 78.1,343.1 78.1,342.1 78.2,341.2 78.3,340.1 78.4,339.2 78.4,338.5 78.5,337.7 78.6,336.7 78.6,335.4 78.7,334.9 78.8,333.7 78.9,333.0 78.9,331.6 79.0,331.2 79.1,329.8 79.1,329.6 79.2,327.8 79.3,327.9 79.4,326.1 79.4,326.1 79.5,325.1 79.6,323.2 79.6,323.0 79.7,321.2 79.8,320.6 79.9,319.6 79.9,319.2 80.0,318.0 80.7,318.0 81.3,319.1 82.0,320.0 82.8,320.8 83.5,320.7 84.2,322.3 85.0,322.0 85.8,322.0 86.5,324.3 87.2,324.0 88.0,325.0 88.0,326.2 88.0,326.5 88.1,327.9 88.1,328.5 88.1,330.0 88.1,330.2 88.2,331.7 88.2,332.4 88.2,333.0 88.2,333.7 88.3,335.2 88.3,335.8 88.3,336.8 88.3,337.4 88.4,338.7 88.4,339.4 88.4,340.5 88.4,341.3 88.5,342.2 88.5,343.1 88.5,344.0 89.5,344.0 90.6,344.0 91.6,344.0 91.7,343.1 91.8,342.1 91.9,341.2 91.9,340.2 92.0,339.4 92.1,338.3 92.2,337.6 92.3,336.4 92.4,335.9 92.5,334.9 92.6,333.4 92.6,332.9 92.7,331.6 92.8,331.2 92.9,330.0 93.7,330.9 94.5,330.8 95.2,331.6 96.0,332.0 96.8,332.2 97.7,333.0 98.5,333.8 99.5,334.4 100.4,334.5 101.3,334.4 102.3,335.1 102.4,336.3 102.5,337.3 102.6,337.9 102.7,339.2 102.9,339.9 103.0,341.1 103.1,342.0 103.2,343.0 103.3,344.0 104.2,344.0 105.1,344.0 106.0,344.0 106.0,343.1 106.1,342.1 106.1,341.2 106.2,340.2 106.2,339.4 106.3,338.2 106.3,337.5 106.4,336.3 106.4,335.7 106.5,334.4 106.5,334.1 106.6,332.5 106.6,331.5 106.7,331.3 106.7,330.0 107.5,330.4 108.2,331.3 109.0,331.5 110.0,331.2 111.0,331.3 112.0,332.1 113.0,332.2 114.0,333.0 114.5,334.1 115.0,334.4 115.5,335.4 116.0,336.0 116.1,336.9 116.1,338.1 116.2,338.9 116.2,340.1 116.3,340.9 116.4,342.0 116.4,343.0 116.5,344.0 117.7,344.0 118.8,344.0 120.0,344.0 120.7,343.2 121.4,342.4 122.2,341.7 122.9,341.0 123.6,340.1 124.4,339.5 125.1,339.2 125.9,338.5 126.6,338.3 127.4,337.6 127.8,338.4 128.2,339.4 128.6,340.1 129.0,341.0 129.5,341.8 130.0,342.5 130.5,343.2 131.0,344.0 132.0,344.0 133.0,344.0 134.0,344.0 135.0,344.0 136.0,344.0 136.4,343.2 136.8,342.3 137.2,341.5 137.6,340.8 137.9,339.8 138.3,339.2 138.7,338.4 139.1,337.3 139.5,336.8 139.9,335.7 140.9,335.8 141.9,336.3 142.0,337.4 142.2,338.1 142.3,339.1 142.4,340.3 142.6,341.1 142.7,342.1 142.9,343.0 143.0,344.0 143.9,344.0 144.8,344.0 145.8,344.0 146.7,344.0 147.6,344.0 148.5,344.0 149.5,344.0 150.4,344.0 151.3,344.0 152.2,344.0 153.2,344.0 154.1,344.0 155.0,344.0 155.5,343.0 156.0,342.0 156.5,340.9 157.0,340.0 157.6,339.3 158.2,338.6 158.8,337.6 159.4,337.0 159.8,338.1 160.2,338.9 160.6,339.9 161.0,341.0 161.5,341.8 162.0,342.5 162.5,343.2 163.0,344.0 163.9,344.0 164.8,344.0 165.7,344.0 166.6,344.0 167.5,344.0 168.5,344.0 169.4,344.0 170.3,344.0 171.2,344.0 172.1,344.0 173.0,344.0 173.9,344.0 174.8,344.0 175.7,344.0 176.6,344.0 177.5,344.0 178.5,344.0 179.4,344.0 180.3,344.0 181.2,344.0 182.1,344.0 183.0,344.0 183.2,343.0 183.5,342.0 183.8,341.1 184.0,340.0 184.2,340.9 184.5,342.0 184.8,343.0 185.0,344.0 185.9,344.0 186.9,344.0 187.8,344.0 188.8,344.0 189.7,344.0 190.6,344.0 191.6,344.0 192.5,344.0 193.4,344.0 194.4,344.0 195.3,344.0 196.2,344.0 197.2,344.0 198.1,344.0 199.1,344.0 200.0,344.0 200.2,343.1 200.4,342.2 200.6,341.3 200.9,340.4 201.1,339.6 201.3,338.3 201.5,337.6 202.3,338.2 203.2,338.6 204.0,338.8 204.8,339.1 205.7,339.8 206.5,340.1 208.0,341.0 208.5,340.1 209.0,339.6 209.5,338.7 210.0,338.0 210.7,337.3 211.3,336.7 212.0,335.4 212.7,334.9 213.3,333.8 214.0,333.2 214.5,334.0 215.1,334.6 215.6,335.6 216.1,336.0 216.7,337.0 217.2,337.6 217.6,338.5 217.9,339.7 218.3,340.5 218.6,341.6 219.0,342.6 220.0,342.6 221.0,342.6 222.0,342.6 223.0,342.6 224.0,342.6 225.0,343.3 226.0,344.0 226.2,343.1 226.4,342.2 226.6,341.3 226.8,340.5 227.0,339.3 227.2,338.4 227.4,337.5 227.6,336.7 227.8,336.1 228.0,335.0 228.3,334.0 228.5,333.5 228.8,332.0 229.0,331.8 229.3,330.3 229.5,329.4 229.8,329.3 230.0,327.7 230.3,327.0 230.7,328.5 231.1,328.6 231.6,330.1 232.0,330.2 232.4,331.2 232.8,332.6 233.8,333.0 234.7,334.1 235.7,334.2 236.6,335.0 236.7,336.0 236.9,336.6 237.0,337.9 237.1,338.5 237.2,339.4 237.4,340.5 237.5,341.3 237.6,342.2 237.8,343.1 237.9,344.0 239.2,344.0 240.5,344.0 240.7,343.1 240.9,342.2 241.1,341.3 241.3,340.3 241.5,339.5 241.7,338.8 241.9,337.5 242.1,336.9 242.3,335.7 242.5,335.0 242.8,334.2 243.1,333.1 243.5,332.2 243.8,331.7 244.1,330.7 244.4,329.2 244.8,329.1 245.1,327.7 245.4,327.0 246.1,328.2 246.9,327.9 247.6,329.2 248.4,329.6 249.1,330.0 249.9,329.9 250.8,331.2 251.6,331.3" fill="none" stroke="#a0a0a0" stroke-width="1.25" stroke-linejoin="round"/>
<path d="M34.5,344.0 L36.4,344.0 L37.0,340.0 L40.1,320.0 L42.7,325.0 L45.8,327.0 L47.7,329.4 L48.3,344.0 L50.8,344.0 L52.7,317.5 L55.2,322.0 L57.7,324.4 L60.2,327.0 L61.4,344.0 M64.0,344.0 L64.6,335.0 L67.1,318.8 L69.6,321.3 L72.1,324.4 L74.0,327.0 L75.2,344.0 L77.7,344.0 L78.4,335.0 L80.9,316.3 L83.4,322.6 L85.9,320.7 L88.0,322.0 L89.9,326.0 L90.0,344.0 L91.6,344.0 L92.9,331.3 L96.0,333.2 L99.2,329.4 L101.0,332.6 L102.9,336.3 L104.0,344.0 L106.0,344.0 L106.7,340.0 L108.6,332.6 L111.7,323.8 L114.2,328.8 L116.0,328.8 L116.4,344.0 L117.0,342.0 L120.5,342.0 L123.6,340.1 L127.4,336.3 L129.2,340.1 L131.0,344.0 M133.6,344.0 L136.1,340.1 L138.6,338.2 L141.1,337.6 L143.0,339.0 L143.8,344.0 L146.3,344.0 L147.5,340.7 L150.7,338.8 L152.5,341.4 L154.0,344.0 L156.0,344.0 L157.5,342.6 L160.0,340.0 L162.6,337.0 L165.0,341.4 L167.0,343.0 L170.0,340.7 L172.0,343.0 L174.0,342.0 L176.0,343.3 L178.0,342.0 L180.0,343.5 L182.0,342.0 L184.0,343.0 L186.0,342.0 L188.2,335.1 L189.5,344.0 M192.5,344.0 L195.1,338.2 L197.0,342.0 L198.0,344.0 L200.0,344.0 L201.5,341.4 L203.0,343.0 L205.3,342.6 L207.0,343.5 L209.0,338.8 L211.5,343.3 L214.0,344.0 L216.6,341.4 L218.0,344.0 L220.0,344.0 L222.8,342.0 L224.0,344.0 L226.0,341.4 L227.8,337.6 L230.3,333.2 L232.8,337.6 L236.0,336.3 L237.2,344.0 M241.5,344.0 L242.2,340.0 L243.5,330.7 L246.0,336.3 L249.8,332.6 L251.6,332.0" fill="none" stroke="#1010fc" stroke-width="1.05" stroke-linejoin="round"/>
<line x1="34.5" y1="304.0" x2="34.5" y2="344.6" stroke="#000" stroke-width="1"/>
<text x="0" y="0" font-size="8.3" text-anchor="middle" transform="translate(28.8,324.6) rotate(-90)">ECU</text>
<text x="254.7" y="334.6" font-size="8.5" font-weight="bold" fill="#1010fc" color="#1010fc">0.77</text>
<text x="254.7" y="344.6" font-size="8.5" fill="#8c8c8c" color="#8c8c8c">0.78</text>
<line x1="34" y1="344.3" x2="251.5" y2="344.3" stroke="#000" stroke-width="1.2"/>
<line x1="37" y1="347.3" x2="47.6" y2="347.3" stroke="#000" stroke-width="1.2"/>
<text x="37" y="355" font-size="7.9" font-weight="bold">1 s</text>
<text x="269.3" y="353.6" font-size="8.5">R²</text>
<line x1="52.9" y1="355.1" x2="43.7" y2="361.6" stroke="#2e3192" stroke-width="1.2"/>
<polygon points="40.8,363.6 42.8,359.5 45.3,363.1" fill="#2e3192"/>
<line x1="74.6" y1="353.6" x2="74.6" y2="361.1" stroke="#5e35a0" stroke-width="1.2"/>
<polygon points="74.6,364.6 72.4,360.6 76.8,360.6" fill="#5e35a0"/>
<line x1="97.2" y1="355.1" x2="106.2" y2="361.6" stroke="#8e3aa0" stroke-width="1.2"/>
<polygon points="109.0,363.6 104.5,363.0 107.0,359.5" fill="#8e3aa0"/>
<line x1="121.0" y1="359.2" x2="134.0" y2="359.2" stroke="#c23a98" stroke-width="1.2"/>
<polygon points="137.5,359.2 133.5,361.4 133.5,357.0" fill="#c23a98"/>
<line x1="150.0" y1="363.6" x2="159.9" y2="357.0" stroke="#dd4a6a" stroke-width="1.2"/>
<polygon points="162.8,355.1 160.7,359.1 158.3,355.5" fill="#dd4a6a"/>
<line x1="184.6" y1="364.6" x2="184.6" y2="357.3" stroke="#f7874f" stroke-width="1.2"/>
<polygon points="184.6,353.8 186.8,357.8 182.4,357.8" fill="#f7874f"/>
<line x1="219.7" y1="363.4" x2="211.4" y2="357.4" stroke="#f8a128" stroke-width="1.2"/>
<polygon points="208.6,355.3 213.1,355.9 210.5,359.4" fill="#f8a128"/>
<line x1="248.8" y1="359.2" x2="234.5" y2="359.2" stroke="#e8e030" stroke-width="1.2"/>
<polygon points="231.0,359.2 235.0,357.0 235.0,361.4" fill="#e8e030"/>
<text x="302.2" y="6.5" font-size="9" font-weight="bold">b</text>
<path d="M314.4,48.4 C332.0,48.4 399.1,48.5 420.0,48.3 C440.9,48.1 434.3,47.6 440.0,47.0 C445.7,46.4 449.4,46.0 454.1,44.6 C458.8,43.2 463.1,41.1 468.2,38.7 C473.3,36.4 479.5,33.4 484.6,30.5 C489.7,27.6 494.4,23.5 498.7,21.1 C503.0,18.7 507.3,17.0 510.4,16.0 C513.5,15.0 514.8,14.8 517.5,15.0 C520.2,15.2 523.4,15.6 526.9,16.9 C530.4,18.2 534.3,21.1 538.6,23.0 C542.9,24.9 548.8,26.8 552.7,28.2 C556.6,29.6 559.3,30.4 562.1,31.7 C564.9,33.0 568.1,35.0 569.3,35.7" fill="none" stroke="#999" stroke-width="1.5"/>
<path d="M314.4,47.5 C316.9,47.5 324.1,47.8 329.5,47.5 C334.9,47.2 340.4,46.7 346.5,45.8 C352.6,44.9 359.9,43.2 366.0,41.9 C372.1,40.5 377.7,39.0 383.0,37.7 C388.3,36.4 393.6,35.0 397.7,34.1 C401.8,33.2 404.6,32.5 407.4,32.1 C410.2,31.7 411.4,31.9 414.7,31.7 C417.9,31.5 422.8,31.5 426.9,31.2 C430.9,30.9 434.9,30.3 439.0,29.7 C443.1,29.1 447.8,28.2 451.7,27.7 C455.6,27.2 458.8,26.5 462.3,26.5 C465.8,26.5 469.2,26.9 472.9,27.7 C476.6,28.4 480.3,29.8 484.6,31.0 C488.9,32.2 493.6,33.9 498.7,35.2 C503.8,36.5 509.2,37.5 515.1,38.7 C521.0,39.9 528.0,41.0 533.9,42.3 C539.8,43.6 545.7,45.4 550.4,46.3 C555.1,47.2 559.0,47.6 562.1,47.9 C565.2,48.2 568.1,47.9 569.3,47.9" fill="none" stroke="#1010fc" stroke-width="1.3"/>
<text x="314" y="42" font-size="8.5">R²</text>
<rect x="314.0" y="49.3" width="255.6" height="13.2" fill="url(#cb)"/>
<line x1="314.0" y1="62.5" x2="314.0" y2="65" stroke="#000" stroke-width="0.8"/>
<text x="314.0" y="72.3" font-size="8.7" text-anchor="middle">0.3</text>
<line x1="365.1" y1="62.5" x2="365.1" y2="65" stroke="#000" stroke-width="0.8"/>
<text x="365.1" y="72.3" font-size="8.7" text-anchor="middle">0.4</text>
<line x1="416.2" y1="62.5" x2="416.2" y2="65" stroke="#000" stroke-width="0.8"/>
<text x="416.2" y="72.3" font-size="8.7" text-anchor="middle">0.5</text>
<line x1="467.4" y1="62.5" x2="467.4" y2="65" stroke="#000" stroke-width="0.8"/>
<text x="467.4" y="72.3" font-size="8.7" text-anchor="middle">0.6</text>
<line x1="518.5" y1="62.5" x2="518.5" y2="65" stroke="#000" stroke-width="0.8"/>
<text x="518.5" y="72.3" font-size="8.7" text-anchor="middle">0.7</text>
<line x1="569.6" y1="62.5" x2="569.6" y2="65" stroke="#000" stroke-width="0.8"/>
<text x="569.6" y="72.3" font-size="8.7" text-anchor="middle">0.8</text>
<rect x="313.90" y="84.90" width="21.62" height="21.54" fill="#1e3b7b"/>
<rect x="335.22" y="84.90" width="21.62" height="21.54" fill="#135fa7"/>
<rect x="356.53" y="84.90" width="21.62" height="21.54" fill="#0f5aa3"/>
<rect x="377.85" y="84.90" width="21.62" height="21.54" fill="#0b559f"/>
<rect x="399.17" y="84.90" width="21.62" height="21.54" fill="#6baed6"/>
<rect x="420.48" y="84.90" width="21.62" height="21.54" fill="#5ea5d1"/>
<rect x="441.80" y="84.90" width="21.62" height="21.54" fill="#5ea5d1"/>
<rect x="463.12" y="84.90" width="21.62" height="21.54" fill="#a3cce3"/>
<rect x="484.43" y="84.90" width="21.62" height="21.54" fill="#3e8ec4"/>
<rect x="505.75" y="84.90" width="21.62" height="21.54" fill="#3383bf"/>
<rect x="527.07" y="84.90" width="21.62" height="21.54" fill="#4a98c9"/>
<rect x="548.38" y="84.90" width="21.62" height="21.54" fill="#3e8ec4"/>
<rect x="313.90" y="106.14" width="21.62" height="21.54" fill="#0f5aa3"/>
<rect x="335.22" y="106.14" width="21.62" height="21.54" fill="#0f5aa3"/>
<rect x="356.53" y="106.14" width="21.62" height="21.54" fill="#1764ab"/>
<rect x="377.85" y="106.14" width="21.62" height="21.54" fill="#135fa7"/>
<rect x="399.17" y="106.14" width="21.62" height="21.54" fill="#7bb7da"/>
<rect x="420.48" y="106.14" width="21.62" height="21.54" fill="#5ea5d1"/>
<rect x="441.80" y="106.14" width="21.62" height="21.54" fill="#5ea5d1"/>
<rect x="463.12" y="106.14" width="21.62" height="21.54" fill="#a9cfe5"/>
<rect x="484.43" y="106.14" width="21.62" height="21.54" fill="#4a98c9"/>
<rect x="505.75" y="106.14" width="21.62" height="21.54" fill="#2e7ebc"/>
<rect x="527.07" y="106.14" width="21.62" height="21.54" fill="#4493c7"/>
<rect x="548.38" y="106.14" width="21.62" height="21.54" fill="#4a98c9"/>
<rect x="313.90" y="127.38" width="21.62" height="21.54" fill="#0b559f"/>
<rect x="335.22" y="127.38" width="21.62" height="21.54" fill="#1764ab"/>
<rect x="356.53" y="127.38" width="21.62" height="21.54" fill="#1e3b7b"/>
<rect x="377.85" y="127.38" width="21.62" height="21.54" fill="#1764ab"/>
<rect x="399.17" y="127.38" width="21.62" height="21.54" fill="#73b2d8"/>
<rect x="420.48" y="127.38" width="21.62" height="21.54" fill="#519ccc"/>
<rect x="441.80" y="127.38" width="21.62" height="21.54" fill="#5ea5d1"/>
<rect x="463.12" y="127.38" width="21.62" height="21.54" fill="#8cc0dd"/>
<rect x="484.43" y="127.38" width="21.62" height="21.54" fill="#4a98c9"/>
<rect x="505.75" y="127.38" width="21.62" height="21.54" fill="#3e8ec4"/>
<rect x="527.07" y="127.38" width="21.62" height="21.54" fill="#4a98c9"/>
<rect x="548.38" y="127.38" width="21.62" height="21.54" fill="#3e8ec4"/>
<rect x="313.90" y="148.62" width="21.62" height="21.54" fill="#09509a"/>
<rect x="335.22" y="148.62" width="21.62" height="21.54" fill="#0f5aa3"/>
<rect x="356.53" y="148.62" width="21.62" height="21.54" fill="#0b559f"/>
<rect x="377.85" y="148.62" width="21.62" height="21.54" fill="#194083"/>
<rect x="399.17" y="148.62" width="21.62" height="21.54" fill="#73b2d8"/>
<rect x="420.48" y="148.62" width="21.62" height="21.54" fill="#57a1ce"/>
<rect x="441.80" y="148.62" width="21.62" height="21.54" fill="#57a1ce"/>
<rect x="463.12" y="148.62" width="21.62" height="21.54" fill="#9cc9e1"/>
<rect x="484.43" y="148.62" width="21.62" height="21.54" fill="#4493c7"/>
<rect x="505.75" y="148.62" width="21.62" height="21.54" fill="#2e7ebc"/>
<rect x="527.07" y="148.62" width="21.62" height="21.54" fill="#3989c1"/>
<rect x="548.38" y="148.62" width="21.62" height="21.54" fill="#3989c1"/>
<rect x="313.90" y="169.87" width="21.62" height="21.54" fill="#57a1ce"/>
<rect x="335.22" y="169.87" width="21.62" height="21.54" fill="#73b2d8"/>
<rect x="356.53" y="169.87" width="21.62" height="21.54" fill="#6baed6"/>
<rect x="377.85" y="169.87" width="21.62" height="21.54" fill="#5ea5d1"/>
<rect x="399.17" y="169.87" width="21.62" height="21.54" fill="#3383bf"/>
<rect x="420.48" y="169.87" width="21.62" height="21.54" fill="#a9cfe5"/>
<rect x="441.80" y="169.87" width="21.62" height="21.54" fill="#b0d1e7"/>
<rect x="463.12" y="169.87" width="21.62" height="21.54" fill="#d3e4f3"/>
<rect x="484.43" y="169.87" width="21.62" height="21.54" fill="#b0d1e7"/>
<rect x="505.75" y="169.87" width="21.62" height="21.54" fill="#8cc0dd"/>
<rect x="527.07" y="169.87" width="21.62" height="21.54" fill="#a3cce3"/>
<rect x="548.38" y="169.87" width="21.62" height="21.54" fill="#94c4df"/>
<rect x="313.90" y="191.11" width="21.62" height="21.54" fill="#3383bf"/>
<rect x="335.22" y="191.11" width="21.62" height="21.54" fill="#3989c1"/>
<rect x="356.53" y="191.11" width="21.62" height="21.54" fill="#3383bf"/>
<rect x="377.85" y="191.11" width="21.62" height="21.54" fill="#3989c1"/>
<rect x="399.17" y="191.11" width="21.62" height="21.54" fill="#b0d1e7"/>
<rect x="420.48" y="191.11" width="21.62" height="21.54" fill="#1764ab"/>
<rect x="441.80" y="191.11" width="21.62" height="21.54" fill="#83bbdb"/>
<rect x="463.12" y="191.11" width="21.62" height="21.54" fill="#d0e1f2"/>
<rect x="484.43" y="191.11" width="21.62" height="21.54" fill="#73b2d8"/>
<rect x="505.75" y="191.11" width="21.62" height="21.54" fill="#57a1ce"/>
<rect x="527.07" y="191.11" width="21.62" height="21.54" fill="#73b2d8"/>
<rect x="548.38" y="191.11" width="21.62" height="21.54" fill="#73b2d8"/>
<rect x="313.90" y="212.35" width="21.62" height="21.54" fill="#519ccc"/>
<rect x="335.22" y="212.35" width="21.62" height="21.54" fill="#57a1ce"/>
<rect x="356.53" y="212.35" width="21.62" height="21.54" fill="#57a1ce"/>
<rect x="377.85" y="212.35" width="21.62" height="21.54" fill="#519ccc"/>
<rect x="399.17" y="212.35" width="21.62" height="21.54" fill="#b6d4e9"/>
<rect x="420.48" y="212.35" width="21.62" height="21.54" fill="#9cc9e1"/>
<rect x="441.80" y="212.35" width="21.62" height="21.54" fill="#1764ab"/>
<rect x="463.12" y="212.35" width="21.62" height="21.54" fill="#d7e7f5"/>
<rect x="484.43" y="212.35" width="21.62" height="21.54" fill="#a3cce3"/>
<rect x="505.75" y="212.35" width="21.62" height="21.54" fill="#83bbdb"/>
<rect x="527.07" y="212.35" width="21.62" height="21.54" fill="#9cc9e1"/>
<rect x="548.38" y="212.35" width="21.62" height="21.54" fill="#9cc9e1"/>
<rect x="313.90" y="233.59" width="21.62" height="21.54" fill="#57a1ce"/>
<rect x="335.22" y="233.59" width="21.62" height="21.54" fill="#64aad3"/>
<rect x="356.53" y="233.59" width="21.62" height="21.54" fill="#57a1ce"/>
<rect x="377.85" y="233.59" width="21.62" height="21.54" fill="#5ea5d1"/>
<rect x="399.17" y="233.59" width="21.62" height="21.54" fill="#bcd7ec"/>
<rect x="420.48" y="233.59" width="21.62" height="21.54" fill="#a9cfe5"/>
<rect x="441.80" y="233.59" width="21.62" height="21.54" fill="#bcd7ec"/>
<rect x="463.12" y="233.59" width="21.62" height="21.54" fill="#1f6eb3"/>
<rect x="484.43" y="233.59" width="21.62" height="21.54" fill="#94c4df"/>
<rect x="505.75" y="233.59" width="21.62" height="21.54" fill="#8cc0dd"/>
<rect x="527.07" y="233.59" width="21.62" height="21.54" fill="#9cc9e1"/>
<rect x="548.38" y="233.59" width="21.62" height="21.54" fill="#9cc9e1"/>
<rect x="313.90" y="254.83" width="21.62" height="21.54" fill="#1f6eb3"/>
<rect x="335.22" y="254.83" width="21.62" height="21.54" fill="#2e7ebc"/>
<rect x="356.53" y="254.83" width="21.62" height="21.54" fill="#2474b6"/>
<rect x="377.85" y="254.83" width="21.62" height="21.54" fill="#1f6eb3"/>
<rect x="399.17" y="254.83" width="21.62" height="21.54" fill="#b6d4e9"/>
<rect x="420.48" y="254.83" width="21.62" height="21.54" fill="#8cc0dd"/>
<rect x="441.80" y="254.83" width="21.62" height="21.54" fill="#94c4df"/>
<rect x="463.12" y="254.83" width="21.62" height="21.54" fill="#c3daee"/>
<rect x="484.43" y="254.83" width="21.62" height="21.54" fill="#1764ab"/>
<rect x="505.75" y="254.83" width="21.62" height="21.54" fill="#4a98c9"/>
<rect x="527.07" y="254.83" width="21.62" height="21.54" fill="#5ea5d1"/>
<rect x="548.38" y="254.83" width="21.62" height="21.54" fill="#519ccc"/>
<rect x="313.90" y="276.08" width="21.62" height="21.54" fill="#2e7ebc"/>
<rect x="335.22" y="276.08" width="21.62" height="21.54" fill="#2e7ebc"/>
<rect x="356.53" y="276.08" width="21.62" height="21.54" fill="#2979b9"/>
<rect x="377.85" y="276.08" width="21.62" height="21.54" fill="#2e7ebc"/>
<rect x="399.17" y="276.08" width="21.62" height="21.54" fill="#b6d4e9"/>
<rect x="420.48" y="276.08" width="21.62" height="21.54" fill="#94c4df"/>
<rect x="441.80" y="276.08" width="21.62" height="21.54" fill="#8cc0dd"/>
<rect x="463.12" y="276.08" width="21.62" height="21.54" fill="#c3daee"/>
<rect x="484.43" y="276.08" width="21.62" height="21.54" fill="#73b2d8"/>
<rect x="505.75" y="276.08" width="21.62" height="21.54" fill="#2979b9"/>
<rect x="527.07" y="276.08" width="21.62" height="21.54" fill="#64aad3"/>
<rect x="548.38" y="276.08" width="21.62" height="21.54" fill="#57a1ce"/>
<rect x="313.90" y="297.32" width="21.62" height="21.54" fill="#3e8ec4"/>
<rect x="335.22" y="297.32" width="21.62" height="21.54" fill="#4493c7"/>
<rect x="356.53" y="297.32" width="21.62" height="21.54" fill="#3e8ec4"/>
<rect x="377.85" y="297.32" width="21.62" height="21.54" fill="#4493c7"/>
<rect x="399.17" y="297.32" width="21.62" height="21.54" fill="#b0d1e7"/>
<rect x="420.48" y="297.32" width="21.62" height="21.54" fill="#a3cce3"/>
<rect x="441.80" y="297.32" width="21.62" height="21.54" fill="#a3cce3"/>
<rect x="463.12" y="297.32" width="21.62" height="21.54" fill="#d3e4f3"/>
<rect x="484.43" y="297.32" width="21.62" height="21.54" fill="#73b2d8"/>
<rect x="505.75" y="297.32" width="21.62" height="21.54" fill="#5ea5d1"/>
<rect x="527.07" y="297.32" width="21.62" height="21.54" fill="#4493c7"/>
<rect x="548.38" y="297.32" width="21.62" height="21.54" fill="#73b2d8"/>
<rect x="313.90" y="318.56" width="21.62" height="21.54" fill="#1f6eb3"/>
<rect x="335.22" y="318.56" width="21.62" height="21.54" fill="#2474b6"/>
<rect x="356.53" y="318.56" width="21.62" height="21.54" fill="#1f6eb3"/>
<rect x="377.85" y="318.56" width="21.62" height="21.54" fill="#1f6eb3"/>
<rect x="399.17" y="318.56" width="21.62" height="21.54" fill="#bcd7ec"/>
<rect x="420.48" y="318.56" width="21.62" height="21.54" fill="#8cc0dd"/>
<rect x="441.80" y="318.56" width="21.62" height="21.54" fill="#8cc0dd"/>
<rect x="463.12" y="318.56" width="21.62" height="21.54" fill="#ccdff1"/>
<rect x="484.43" y="318.56" width="21.62" height="21.54" fill="#519ccc"/>
<rect x="505.75" y="318.56" width="21.62" height="21.54" fill="#3989c1"/>
<rect x="527.07" y="318.56" width="21.62" height="21.54" fill="#4a98c9"/>
<rect x="548.38" y="318.56" width="21.62" height="21.54" fill="#1764ab"/>
<text x="324.6" y="97.6" font-size="8.5" text-anchor="middle" fill="#fff" color="#fff" style="stroke-width:0.2px">0.78</text>
<text x="345.9" y="97.6" font-size="8.5" text-anchor="middle" fill="#fff" color="#fff" style="stroke-width:0.2px">0.71</text>
<text x="367.2" y="97.6" font-size="8.5" text-anchor="middle" fill="#fff" color="#fff" style="stroke-width:0.2px">0.72</text>
<text x="388.5" y="97.6" font-size="8.5" text-anchor="middle" fill="#fff" color="#fff" style="stroke-width:0.2px">0.73</text>
<text x="409.8" y="97.6" font-size="8.5" text-anchor="middle" fill="#fff" color="#fff" style="stroke-width:0.2px">0.55</text>
<text x="431.1" y="97.6" font-size="8.5" text-anchor="middle" fill="#fff" color="#fff" style="stroke-width:0.2px">0.57</text>
<text x="452.5" y="97.6" font-size="8.5" text-anchor="middle" fill="#fff" color="#fff" style="stroke-width:0.2px">0.57</text>
<text x="473.8" y="97.6" font-size="8.5" text-anchor="middle" fill="#1a1a1a" color="#1a1a1a">0.48</text>
<text x="495.1" y="97.6" font-size="8.5" text-anchor="middle" fill="#fff" color="#fff" style="stroke-width:0.2px">0.62</text>
<text x="516.4" y="97.6" font-size="8.5" text-anchor="middle" fill="#fff" color="#fff" style="stroke-width:0.2px">0.64</text>
<text x="537.7" y="97.6" font-size="8.5" text-anchor="middle" fill="#fff" color="#fff" style="stroke-width:0.2px">0.60</text>
<text x="559.0" y="97.6" font-size="8.5" text-anchor="middle" fill="#fff" color="#fff" style="stroke-width:0.2px">0.62</text>
<text x="324.6" y="118.9" font-size="8.5" text-anchor="middle" fill="#fff" color="#fff" style="stroke-width:0.2px">0.72</text>
<text x="345.9" y="118.9" font-size="8.5" text-anchor="middle" fill="#fff" color="#fff" style="stroke-width:0.2px">0.72</text>
<text x="367.2" y="118.9" font-size="8.5" text-anchor="middle" fill="#fff" color="#fff" style="stroke-width:0.2px">0.70</text>
<text x="388.5" y="118.9" font-size="8.5" text-anchor="middle" fill="#fff" color="#fff" style="stroke-width:0.2px">0.71</text>
<text x="409.8" y="118.9" font-size="8.5" text-anchor="middle" fill="#1a1a1a" color="#1a1a1a">0.53</text>
<text x="431.1" y="118.9" font-size="8.5" text-anchor="middle" fill="#fff" color="#fff" style="stroke-width:0.2px">0.57</text>
<text x="452.5" y="118.9" font-size="8.5" text-anchor="middle" fill="#fff" color="#fff" style="stroke-width:0.2px">0.57</text>
<text x="473.8" y="118.9" font-size="8.5" text-anchor="middle" fill="#1a1a1a" color="#1a1a1a">0.47</text>
<text x="495.1" y="118.9" font-size="8.5" text-anchor="middle" fill="#fff" color="#fff" style="stroke-width:0.2px">0.60</text>
<text x="516.4" y="118.9" font-size="8.5" text-anchor="middle" fill="#fff" color="#fff" style="stroke-width:0.2px">0.65</text>
<text x="537.7" y="118.9" font-size="8.5" text-anchor="middle" fill="#fff" color="#fff" style="stroke-width:0.2px">0.61</text>
<text x="559.0" y="118.9" font-size="8.5" text-anchor="middle" fill="#fff" color="#fff" style="stroke-width:0.2px">0.60</text>
<text x="324.6" y="140.1" font-size="8.5" text-anchor="middle" fill="#fff" color="#fff" style="stroke-width:0.2px">0.73</text>
<text x="345.9" y="140.1" font-size="8.5" text-anchor="middle" fill="#fff" color="#fff" style="stroke-width:0.2px">0.70</text>
<text x="367.2" y="140.1" font-size="8.5" text-anchor="middle" fill="#fff" color="#fff" style="stroke-width:0.2px">0.78</text>
<text x="388.5" y="140.1" font-size="8.5" text-anchor="middle" fill="#fff" color="#fff" style="stroke-width:0.2px">0.70</text>
<text x="409.8" y="140.1" font-size="8.5" text-anchor="middle" fill="#fff" color="#fff" style="stroke-width:0.2px">0.54</text>
<text x="431.1" y="140.1" font-size="8.5" text-anchor="middle" fill="#fff" color="#fff" style="stroke-width:0.2px">0.59</text>
<text x="452.5" y="140.1" font-size="8.5" text-anchor="middle" fill="#fff" color="#fff" style="stroke-width:0.2px">0.57</text>
<text x="473.8" y="140.1" font-size="8.5" text-anchor="middle" fill="#1a1a1a" color="#1a1a1a">0.51</text>
<text x="495.1" y="140.1" font-size="8.5" text-anchor="middle" fill="#fff" color="#fff" style="stroke-width:0.2px">0.60</text>
<text x="516.4" y="140.1" font-size="8.5" text-anchor="middle" fill="#fff" color="#fff" style="stroke-width:0.2px">0.62</text>
<text x="537.7" y="140.1" font-size="8.5" text-anchor="middle" fill="#fff" color="#fff" style="stroke-width:0.2px">0.60</text>
<text x="559.0" y="140.1" font-size="8.5" text-anchor="middle" fill="#fff" color="#fff" style="stroke-width:0.2px">0.62</text>
<text x="324.6" y="161.3" font-size="8.5" text-anchor="middle" fill="#fff" color="#fff" style="stroke-width:0.2px">0.74</text>
<text x="345.9" y="161.3" font-size="8.5" text-anchor="middle" fill="#fff" color="#fff" style="stroke-width:0.2px">0.72</text>
<text x="367.2" y="161.3" font-size="8.5" text-anchor="middle" fill="#fff" color="#fff" style="stroke-width:0.2px">0.73</text>
<text x="388.5" y="161.3" font-size="8.5" text-anchor="middle" fill="#fff" color="#fff" style="stroke-width:0.2px">0.77</text>
<text x="409.8" y="161.3" font-size="8.5" text-anchor="middle" fill="#1a1a1a" color="#1a1a1a">0.54</text>
<text x="431.1" y="161.3" font-size="8.5" text-anchor="middle" fill="#fff" color="#fff" style="stroke-width:0.2px">0.58</text>
<text x="452.5" y="161.3" font-size="8.5" text-anchor="middle" fill="#fff" color="#fff" style="stroke-width:0.2px">0.58</text>
<text x="473.8" y="161.3" font-size="8.5" text-anchor="middle" fill="#1a1a1a" color="#1a1a1a">0.49</text>
<text x="495.1" y="161.3" font-size="8.5" text-anchor="middle" fill="#fff" color="#fff" style="stroke-width:0.2px">0.61</text>
<text x="516.4" y="161.3" font-size="8.5" text-anchor="middle" fill="#fff" color="#fff" style="stroke-width:0.2px">0.65</text>
<text x="537.7" y="161.3" font-size="8.5" text-anchor="middle" fill="#fff" color="#fff" style="stroke-width:0.2px">0.63</text>
<text x="559.0" y="161.3" font-size="8.5" text-anchor="middle" fill="#fff" color="#fff" style="stroke-width:0.2px">0.63</text>
<text x="324.6" y="182.6" font-size="8.5" text-anchor="middle" fill="#fff" color="#fff" style="stroke-width:0.2px">0.58</text>
<text x="345.9" y="182.6" font-size="8.5" text-anchor="middle" fill="#fff" color="#fff" style="stroke-width:0.2px">0.54</text>
<text x="367.2" y="182.6" font-size="8.5" text-anchor="middle" fill="#fff" color="#fff" style="stroke-width:0.2px">0.55</text>
<text x="388.5" y="182.6" font-size="8.5" text-anchor="middle" fill="#fff" color="#fff" style="stroke-width:0.2px">0.57</text>
<text x="409.8" y="182.6" font-size="8.5" text-anchor="middle" fill="#fff" color="#fff" style="stroke-width:0.2px">0.64</text>
<text x="431.1" y="182.6" font-size="8.5" text-anchor="middle" fill="#1a1a1a" color="#1a1a1a">0.47</text>
<text x="452.5" y="182.6" font-size="8.5" text-anchor="middle" fill="#1a1a1a" color="#1a1a1a">0.46</text>
<text x="473.8" y="182.6" font-size="8.5" text-anchor="middle" fill="#1a1a1a" color="#1a1a1a">0.39</text>
<text x="495.1" y="182.6" font-size="8.5" text-anchor="middle" fill="#1a1a1a" color="#1a1a1a">0.46</text>
<text x="516.4" y="182.6" font-size="8.5" text-anchor="middle" fill="#1a1a1a" color="#1a1a1a">0.51</text>
<text x="537.7" y="182.6" font-size="8.5" text-anchor="middle" fill="#1a1a1a" color="#1a1a1a">0.48</text>
<text x="559.0" y="182.6" font-size="8.5" text-anchor="middle" fill="#1a1a1a" color="#1a1a1a">0.50</text>
<text x="324.6" y="203.8" font-size="8.5" text-anchor="middle" fill="#fff" color="#fff" style="stroke-width:0.2px">0.64</text>
<text x="345.9" y="203.8" font-size="8.5" text-anchor="middle" fill="#fff" color="#fff" style="stroke-width:0.2px">0.63</text>
<text x="367.2" y="203.8" font-size="8.5" text-anchor="middle" fill="#fff" color="#fff" style="stroke-width:0.2px">0.64</text>
<text x="388.5" y="203.8" font-size="8.5" text-anchor="middle" fill="#fff" color="#fff" style="stroke-width:0.2px">0.63</text>
<text x="409.8" y="203.8" font-size="8.5" text-anchor="middle" fill="#1a1a1a" color="#1a1a1a">0.46</text>
<text x="431.1" y="203.8" font-size="8.5" text-anchor="middle" fill="#fff" color="#fff" style="stroke-width:0.2px">0.70</text>
<text x="452.5" y="203.8" font-size="8.5" text-anchor="middle" fill="#1a1a1a" color="#1a1a1a">0.52</text>
<text x="473.8" y="203.8" font-size="8.5" text-anchor="middle" fill="#1a1a1a" color="#1a1a1a">0.40</text>
<text x="495.1" y="203.8" font-size="8.5" text-anchor="middle" fill="#fff" color="#fff" style="stroke-width:0.2px">0.54</text>
<text x="516.4" y="203.8" font-size="8.5" text-anchor="middle" fill="#fff" color="#fff" style="stroke-width:0.2px">0.58</text>
<text x="537.7" y="203.8" font-size="8.5" text-anchor="middle" fill="#fff" color="#fff" style="stroke-width:0.2px">0.54</text>
<text x="559.0" y="203.8" font-size="8.5" text-anchor="middle" fill="#fff" color="#fff" style="stroke-width:0.2px">0.54</text>
<text x="324.6" y="225.1" font-size="8.5" text-anchor="middle" fill="#fff" color="#fff" style="stroke-width:0.2px">0.59</text>
<text x="345.9" y="225.1" font-size="8.5" text-anchor="middle" fill="#fff" color="#fff" style="stroke-width:0.2px">0.58</text>
<text x="367.2" y="225.1" font-size="8.5" text-anchor="middle" fill="#fff" color="#fff" style="stroke-width:0.2px">0.58</text>
<text x="388.5" y="225.1" font-size="8.5" text-anchor="middle" fill="#fff" color="#fff" style="stroke-width:0.2px">0.59</text>
<text x="409.8" y="225.1" font-size="8.5" text-anchor="middle" fill="#1a1a1a" color="#1a1a1a">0.45</text>
<text x="431.1" y="225.1" font-size="8.5" text-anchor="middle" fill="#1a1a1a" color="#1a1a1a">0.49</text>
<text x="452.5" y="225.1" font-size="8.5" text-anchor="middle" fill="#fff" color="#fff" style="stroke-width:0.2px">0.70</text>
<text x="473.8" y="225.1" font-size="8.5" text-anchor="middle" fill="#1a1a1a" color="#1a1a1a">0.38</text>
<text x="495.1" y="225.1" font-size="8.5" text-anchor="middle" fill="#1a1a1a" color="#1a1a1a">0.48</text>
<text x="516.4" y="225.1" font-size="8.5" text-anchor="middle" fill="#1a1a1a" color="#1a1a1a">0.52</text>
<text x="537.7" y="225.1" font-size="8.5" text-anchor="middle" fill="#1a1a1a" color="#1a1a1a">0.49</text>
<text x="559.0" y="225.1" font-size="8.5" text-anchor="middle" fill="#1a1a1a" color="#1a1a1a">0.49</text>
<text x="324.6" y="246.3" font-size="8.5" text-anchor="middle" fill="#fff" color="#fff" style="stroke-width:0.2px">0.58</text>
<text x="345.9" y="246.3" font-size="8.5" text-anchor="middle" fill="#fff" color="#fff" style="stroke-width:0.2px">0.56</text>
<text x="367.2" y="246.3" font-size="8.5" text-anchor="middle" fill="#fff" color="#fff" style="stroke-width:0.2px">0.58</text>
<text x="388.5" y="246.3" font-size="8.5" text-anchor="middle" fill="#fff" color="#fff" style="stroke-width:0.2px">0.57</text>
<text x="409.8" y="246.3" font-size="8.5" text-anchor="middle" fill="#1a1a1a" color="#1a1a1a">0.44</text>
<text x="431.1" y="246.3" font-size="8.5" text-anchor="middle" fill="#1a1a1a" color="#1a1a1a">0.47</text>
<text x="452.5" y="246.3" font-size="8.5" text-anchor="middle" fill="#1a1a1a" color="#1a1a1a">0.44</text>
<text x="473.8" y="246.3" font-size="8.5" text-anchor="middle" fill="#fff" color="#fff" style="stroke-width:0.2px">0.68</text>
<text x="495.1" y="246.3" font-size="8.5" text-anchor="middle" fill="#1a1a1a" color="#1a1a1a">0.50</text>
<text x="516.4" y="246.3" font-size="8.5" text-anchor="middle" fill="#1a1a1a" color="#1a1a1a">0.51</text>
<text x="537.7" y="246.3" font-size="8.5" text-anchor="middle" fill="#1a1a1a" color="#1a1a1a">0.49</text>
<text x="559.0" y="246.3" font-size="8.5" text-anchor="middle" fill="#1a1a1a" color="#1a1a1a">0.49</text>
<text x="324.6" y="267.6" font-size="8.5" text-anchor="middle" fill="#fff" color="#fff" style="stroke-width:0.2px">0.68</text>
<text x="345.9" y="267.6" font-size="8.5" text-anchor="middle" fill="#fff" color="#fff" style="stroke-width:0.2px">0.65</text>
<text x="367.2" y="267.6" font-size="8.5" text-anchor="middle" fill="#fff" color="#fff" style="stroke-width:0.2px">0.67</text>
<text x="388.5" y="267.6" font-size="8.5" text-anchor="middle" fill="#fff" color="#fff" style="stroke-width:0.2px">0.68</text>
<text x="409.8" y="267.6" font-size="8.5" text-anchor="middle" fill="#1a1a1a" color="#1a1a1a">0.45</text>
<text x="431.1" y="267.6" font-size="8.5" text-anchor="middle" fill="#1a1a1a" color="#1a1a1a">0.51</text>
<text x="452.5" y="267.6" font-size="8.5" text-anchor="middle" fill="#1a1a1a" color="#1a1a1a">0.50</text>
<text x="473.8" y="267.6" font-size="8.5" text-anchor="middle" fill="#1a1a1a" color="#1a1a1a">0.43</text>
<text x="495.1" y="267.6" font-size="8.5" text-anchor="middle" fill="#fff" color="#fff" style="stroke-width:0.2px">0.70</text>
<text x="516.4" y="267.6" font-size="8.5" text-anchor="middle" fill="#fff" color="#fff" style="stroke-width:0.2px">0.60</text>
<text x="537.7" y="267.6" font-size="8.5" text-anchor="middle" fill="#fff" color="#fff" style="stroke-width:0.2px">0.57</text>
<text x="559.0" y="267.6" font-size="8.5" text-anchor="middle" fill="#fff" color="#fff" style="stroke-width:0.2px">0.59</text>
<text x="324.6" y="288.8" font-size="8.5" text-anchor="middle" fill="#fff" color="#fff" style="stroke-width:0.2px">0.65</text>
<text x="345.9" y="288.8" font-size="8.5" text-anchor="middle" fill="#fff" color="#fff" style="stroke-width:0.2px">0.65</text>
<text x="367.2" y="288.8" font-size="8.5" text-anchor="middle" fill="#fff" color="#fff" style="stroke-width:0.2px">0.66</text>
<text x="388.5" y="288.8" font-size="8.5" text-anchor="middle" fill="#fff" color="#fff" style="stroke-width:0.2px">0.65</text>
<text x="409.8" y="288.8" font-size="8.5" text-anchor="middle" fill="#1a1a1a" color="#1a1a1a">0.45</text>
<text x="431.1" y="288.8" font-size="8.5" text-anchor="middle" fill="#1a1a1a" color="#1a1a1a">0.50</text>
<text x="452.5" y="288.8" font-size="8.5" text-anchor="middle" fill="#1a1a1a" color="#1a1a1a">0.51</text>
<text x="473.8" y="288.8" font-size="8.5" text-anchor="middle" fill="#1a1a1a" color="#1a1a1a">0.43</text>
<text x="495.1" y="288.8" font-size="8.5" text-anchor="middle" fill="#1a1a1a" color="#1a1a1a">0.54</text>
<text x="516.4" y="288.8" font-size="8.5" text-anchor="middle" fill="#fff" color="#fff" style="stroke-width:0.2px">0.66</text>
<text x="537.7" y="288.8" font-size="8.5" text-anchor="middle" fill="#fff" color="#fff" style="stroke-width:0.2px">0.56</text>
<text x="559.0" y="288.8" font-size="8.5" text-anchor="middle" fill="#fff" color="#fff" style="stroke-width:0.2px">0.58</text>
<text x="324.6" y="310.0" font-size="8.5" text-anchor="middle" fill="#fff" color="#fff" style="stroke-width:0.2px">0.62</text>
<text x="345.9" y="310.0" font-size="8.5" text-anchor="middle" fill="#fff" color="#fff" style="stroke-width:0.2px">0.61</text>
<text x="367.2" y="310.0" font-size="8.5" text-anchor="middle" fill="#fff" color="#fff" style="stroke-width:0.2px">0.62</text>
<text x="388.5" y="310.0" font-size="8.5" text-anchor="middle" fill="#fff" color="#fff" style="stroke-width:0.2px">0.61</text>
<text x="409.8" y="310.0" font-size="8.5" text-anchor="middle" fill="#1a1a1a" color="#1a1a1a">0.46</text>
<text x="431.1" y="310.0" font-size="8.5" text-anchor="middle" fill="#1a1a1a" color="#1a1a1a">0.48</text>
<text x="452.5" y="310.0" font-size="8.5" text-anchor="middle" fill="#1a1a1a" color="#1a1a1a">0.48</text>
<text x="473.8" y="310.0" font-size="8.5" text-anchor="middle" fill="#1a1a1a" color="#1a1a1a">0.39</text>
<text x="495.1" y="310.0" font-size="8.5" text-anchor="middle" fill="#1a1a1a" color="#1a1a1a">0.54</text>
<text x="516.4" y="310.0" font-size="8.5" text-anchor="middle" fill="#fff" color="#fff" style="stroke-width:0.2px">0.57</text>
<text x="537.7" y="310.0" font-size="8.5" text-anchor="middle" fill="#fff" color="#fff" style="stroke-width:0.2px">0.61</text>
<text x="559.0" y="310.0" font-size="8.5" text-anchor="middle" fill="#1a1a1a" color="#1a1a1a">0.54</text>
<text x="324.6" y="331.3" font-size="8.5" text-anchor="middle" fill="#fff" color="#fff" style="stroke-width:0.2px">0.68</text>
<text x="345.9" y="331.3" font-size="8.5" text-anchor="middle" fill="#fff" color="#fff" style="stroke-width:0.2px">0.67</text>
<text x="367.2" y="331.3" font-size="8.5" text-anchor="middle" fill="#fff" color="#fff" style="stroke-width:0.2px">0.68</text>
<text x="388.5" y="331.3" font-size="8.5" text-anchor="middle" fill="#fff" color="#fff" style="stroke-width:0.2px">0.68</text>
<text x="409.8" y="331.3" font-size="8.5" text-anchor="middle" fill="#1a1a1a" color="#1a1a1a">0.44</text>
<text x="431.1" y="331.3" font-size="8.5" text-anchor="middle" fill="#1a1a1a" color="#1a1a1a">0.51</text>
<text x="452.5" y="331.3" font-size="8.5" text-anchor="middle" fill="#1a1a1a" color="#1a1a1a">0.51</text>
<text x="473.8" y="331.3" font-size="8.5" text-anchor="middle" fill="#1a1a1a" color="#1a1a1a">0.41</text>
<text x="495.1" y="331.3" font-size="8.5" text-anchor="middle" fill="#fff" color="#fff" style="stroke-width:0.2px">0.59</text>
<text x="516.4" y="331.3" font-size="8.5" text-anchor="middle" fill="#fff" color="#fff" style="stroke-width:0.2px">0.63</text>
<text x="537.7" y="331.3" font-size="8.5" text-anchor="middle" fill="#fff" color="#fff" style="stroke-width:0.2px">0.60</text>
<text x="559.0" y="331.3" font-size="8.5" text-anchor="middle" fill="#fff" color="#fff" style="stroke-width:0.2px">0.70</text>
<text x="0" y="0" font-size="8.5" text-anchor="middle" transform="translate(308.6,95.5) rotate(-90)">J1</text>
<text x="324.6" y="352.2" font-size="8.5" text-anchor="middle">J1</text>
<text x="0" y="0" font-size="8.5" text-anchor="middle" transform="translate(308.6,116.8) rotate(-90)">J2</text>
<text x="345.9" y="352.2" font-size="8.5" text-anchor="middle">J2</text>
<text x="0" y="0" font-size="8.5" text-anchor="middle" transform="translate(308.6,138.0) rotate(-90)">J3</text>
<text x="367.2" y="352.2" font-size="8.5" text-anchor="middle">J3</text>
<text x="0" y="0" font-size="8.5" text-anchor="middle" transform="translate(308.6,159.2) rotate(-90)">J4</text>
<text x="388.5" y="352.2" font-size="8.5" text-anchor="middle">J4</text>
<text x="0" y="0" font-size="8.5" text-anchor="middle" transform="translate(308.6,180.5) rotate(-90)">S1</text>
<text x="409.8" y="352.2" font-size="8.5" text-anchor="middle">S1</text>
<text x="0" y="0" font-size="8.5" text-anchor="middle" transform="translate(308.6,201.7) rotate(-90)">S2</text>
<text x="431.1" y="352.2" font-size="8.5" text-anchor="middle">S2</text>
<text x="0" y="0" font-size="8.5" text-anchor="middle" transform="translate(308.6,223.0) rotate(-90)">S3</text>
<text x="452.5" y="352.2" font-size="8.5" text-anchor="middle">S3</text>
<text x="0" y="0" font-size="8.5" text-anchor="middle" transform="translate(308.6,244.2) rotate(-90)">S4</text>
<text x="473.8" y="352.2" font-size="8.5" text-anchor="middle">S4</text>
<text x="0" y="0" font-size="8.5" text-anchor="middle" transform="translate(308.6,265.5) rotate(-90)">K1</text>
<text x="495.1" y="352.2" font-size="8.5" text-anchor="middle">K1</text>
<text x="0" y="0" font-size="8.5" text-anchor="middle" transform="translate(308.6,286.7) rotate(-90)">K2</text>
<text x="516.4" y="352.2" font-size="8.5" text-anchor="middle">K2</text>
<text x="0" y="0" font-size="8.5" text-anchor="middle" transform="translate(308.6,307.9) rotate(-90)">K3</text>
<text x="537.7" y="352.2" font-size="8.5" text-anchor="middle">K3</text>
<text x="0" y="0" font-size="8.5" text-anchor="middle" transform="translate(308.6,329.2) rotate(-90)">K4</text>
<text x="559.0" y="352.2" font-size="8.5" text-anchor="middle">K4</text>
<text x="442" y="365" font-size="8.7" text-anchor="middle">Source monkey</text>
<text x="0" y="0" font-size="8.5" text-anchor="middle" transform="translate(294.5,210.5) rotate(-90)">Target monkey</text>
</svg></body></html>
